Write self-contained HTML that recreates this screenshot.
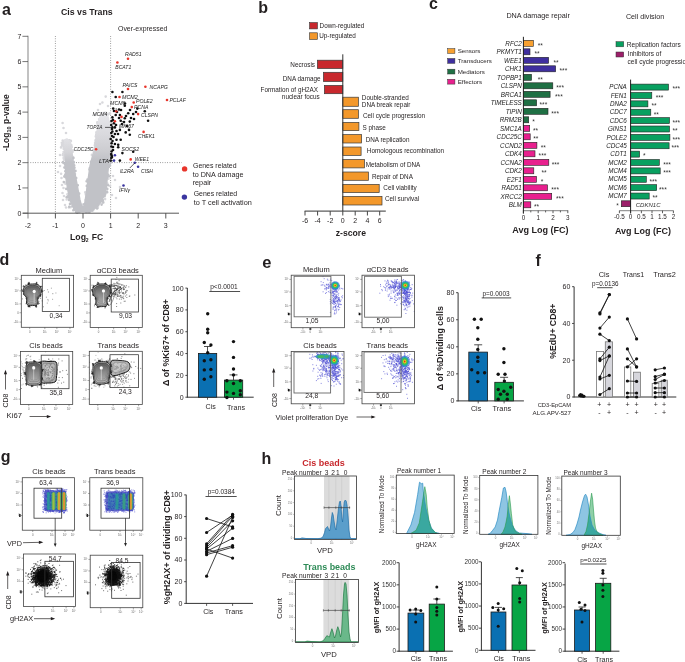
<!DOCTYPE html><html><head><meta charset="utf-8"><title>Figure</title><style>html,body{margin:0;padding:0;background:#fff;width:685px;height:662px;overflow:hidden}svg{display:block;font-family:"Liberation Sans",sans-serif;will-change:transform}</style></head><body><svg width="685" height="662" viewBox="0 0 685 662" font-family="'Liberation Sans', sans-serif" fill="#231f20"><defs><linearGradient id="vgL" gradientUnits="userSpaceOnUse" x1="0" y1="138" x2="0" y2="162"><stop offset="0" stop-color="#e2e2e6"/><stop offset="0.6" stop-color="#d4d4d8"/><stop offset="1" stop-color="#c1c2c7"/></linearGradient><linearGradient id="vgR" gradientUnits="userSpaceOnUse" x1="0" y1="112" x2="0" y2="160"><stop offset="0" stop-color="#e8e8ec"/><stop offset="0.45" stop-color="#dadade"/><stop offset="0.8" stop-color="#cdcdd1"/><stop offset="1" stop-color="#c1c2c7"/></linearGradient><clipPath id="fc1"><rect x="21.3" y="275.3" width="52.3" height="52.0"/></clipPath><linearGradient id="cg1" gradientUnits="userSpaceOnUse" x1="0" y1="284.5" x2="0" y2="305.2"><stop offset="0" stop-color="#555"/><stop offset="0.45" stop-color="#8a8a8a"/><stop offset="1" stop-color="#b8b8b8"/></linearGradient><clipPath id="fc2"><rect x="90.2" y="275.3" width="52.1" height="52.2"/></clipPath><linearGradient id="cg2" gradientUnits="userSpaceOnUse" x1="0" y1="284.5" x2="0" y2="306.2"><stop offset="0" stop-color="#555"/><stop offset="0.45" stop-color="#8a8a8a"/><stop offset="1" stop-color="#b8b8b8"/></linearGradient><clipPath id="fc3"><rect x="20.4" y="351.5" width="52.3" height="52.9"/></clipPath><linearGradient id="cg3" gradientUnits="userSpaceOnUse" x1="0" y1="362.4" x2="0" y2="385.0"><stop offset="0" stop-color="#555"/><stop offset="0.45" stop-color="#8a8a8a"/><stop offset="1" stop-color="#b8b8b8"/></linearGradient><clipPath id="fc4"><rect x="89.3" y="351.3" width="53.0" height="53.1"/></clipPath><linearGradient id="cg4" gradientUnits="userSpaceOnUse" x1="0" y1="362.0" x2="0" y2="384.0"><stop offset="0" stop-color="#555"/><stop offset="0.45" stop-color="#8a8a8a"/><stop offset="1" stop-color="#b8b8b8"/></linearGradient><clipPath id="fc5"><rect x="291.2" y="275.2" width="53.2" height="52.5"/></clipPath><clipPath id="fc6"><rect x="362.0" y="275.2" width="52.5" height="52.5"/></clipPath><clipPath id="fc7"><rect x="291.2" y="351.5" width="52.8" height="52.3"/></clipPath><clipPath id="fc8"><rect x="362.0" y="351.5" width="52.5" height="52.3"/></clipPath><clipPath id="fc9"><rect x="23.4" y="554.0" width="52.1" height="52.6"/></clipPath><clipPath id="fc10"><rect x="90.2" y="555.2" width="52.6" height="52.5"/></clipPath><clipPath id="cp1"><path d="M406.6,533.4 L410.9,525.0 L414.6,512.3 L417.7,494.3 L419.5,482.2 L421.4,483.7 L422.7,483.2 L423.3,491.1 L425.7,507.0 L428.8,520.7 L431.5,528.1 L435.2,532.4 L439.4,533.4 Z"/></clipPath><clipPath id="cp2"><path d="M488.0,534.3 L490.0,533.6 L492.5,530.5 L495.2,527.0 L497.5,520.0 L499.0,511.6 L500.5,504.0 L501.8,497.4 L503.4,488.0 L505.0,487.3 L506.1,491.9 L507.0,499.0 L507.8,506.1 L509.0,513.0 L510.5,519.3 L512.0,524.5 L513.8,528.0 L516.0,531.0 L519.3,533.0 L527.0,533.6 L532.0,534.3 Z"/></clipPath><clipPath id="cp3"><path d="M566.0,535.3 L570.0,534.6 L573.0,532.5 L575.0,529.5 L577.0,524.0 L579.0,517.0 L580.5,510.0 L582.5,502.0 L584.5,495.5 L585.6,494.2 L587.0,497.0 L588.5,505.0 L590.0,516.0 L592.0,525.0 L595.0,530.5 L599.0,533.0 L603.0,534.6 L606.0,535.3 Z"/></clipPath></defs><text x="2.00" y="14.50" font-size="16" font-weight="bold">a</text>
<text x="61.00" y="15.30" font-size="8.78" font-weight="bold" textLength="51.70" lengthAdjust="spacingAndGlyphs">Cis vs Trans</text>
<text x="118.00" y="31.23" font-size="6.94" textLength="49.40" lengthAdjust="spacingAndGlyphs">Over-expressed</text>
<line x1="55.40" y1="36.00" x2="55.40" y2="213.00" stroke="#555" stroke-width="0.7" stroke-dasharray="0.8 1.6"/>
<line x1="110.60" y1="36.00" x2="110.60" y2="213.00" stroke="#555" stroke-width="0.7" stroke-dasharray="0.8 1.6"/>
<line x1="28.00" y1="162.60" x2="182.00" y2="162.60" stroke="#555" stroke-width="0.7" stroke-dasharray="0.8 1.6"/>
<path d="M69.5 199.7h0M63.1 154.1h0M63.5 141.2h0M66.7 199.5h0M61.0 147.4h0M63.4 146.3h0M62.8 155.1h0M64.1 155.1h0M63.7 154.8h0M78.2 211.2h0M64.3 155.9h0M67.4 194.3h0M63.6 158.0h0M63.7 148.5h0M66.4 182.3h0M63.6 152.1h0M65.4 183.8h0M69.2 198.4h0M61.8 142.8h0M62.7 140.5h0M65.1 156.4h0M63.8 149.0h0M65.1 157.9h0M64.3 176.6h0M61.1 173.7h0M62.9 143.3h0M64.2 159.0h0M64.0 159.7h0M64.4 147.5h0M70.6 207.3h0M64.1 147.4h0M67.5 196.6h0M64.0 144.2h0M110.3 128.0h0M106.8 191.2h0M109.6 113.2h0M110.2 144.4h0M93.2 210.3h0M107.7 114.7h0M109.2 163.6h0M110.7 150.2h0M89.6 211.7h0M105.5 192.9h0M111.9 142.4h0M93.5 209.1h0M111.3 148.9h0M102.6 200.0h0M111.9 123.7h0M107.6 176.0h0M109.9 147.0h0M108.4 178.8h0M98.3 205.4h0M110.0 113.7h0M109.7 147.4h0M110.7 121.2h0M107.3 114.3h0M111.4 125.6h0M111.2 154.5h0M105.1 199.1h0M111.3 144.0h0M106.7 114.0h0M104.6 192.9h0M110.2 161.3h0M108.8 166.8h0M109.3 122.3h0M97.9 207.8h0M111.8 156.5h0M107.4 183.6h0M70.9 140.9h0M72.8 158.2h0M73.5 165.5h0M67.2 140.0h0M71.7 147.1h0M72.5 151.9h0M71.2 146.2h0M69.4 140.4h0M73.0 160.5h0M75.0 174.1h0M82.5 208.9h0M73.1 157.0h0M73.1 157.8h0M73.3 150.2h0M82.0 204.6h0M71.4 145.2h0M85.8 194.5h0M96.4 132.4h0M99.2 119.3h0M91.9 154.9h0M97.3 122.4h0M85.6 200.1h0M93.8 152.4h0M87.5 181.4h0M95.1 142.9h0M97.5 123.7h0M95.0 144.7h0M93.4 149.9h0M94.8 145.2h0M95.5 140.3h0M96.2 134.5h0M85.2 192.4h0M95.8 136.4h0M60.0 166.0h0M58.0 172.0h0M62.0 185.0h0M62.5 193.0h0M63.0 200.0h0M65.0 205.0h0M66.0 207.5h0M69.0 207.5h0M61.5 178.0h0M63.5 188.0h0M64.0 196.0h0M105.7 96.6h0M102.4 102.5h0M98.0 110.0h0M108.0 106.0h0M104.0 116.0h0M62.6 123.0h0M63.5 128.0h0M62.0 145.0h0M66.0 133.0h0M60.0 155.0h0M105.0 170.0h0M108.0 178.0h0M110.0 186.0h0M112.0 195.0h0M106.0 192.0h0M113.0 176.0h0M116.0 198.0h0M120.0 187.0h0M115.0 180.0h0M100.0 104.0h0M95.0 115.0h0" stroke="#d8d8dc" stroke-width="2.6" stroke-linecap="round"/>
<path d="M64.5,140.0 L64.5,150.0 L65.5,160.0 L65.5,170.0 L66.2,180.0 L67.8,190.0 L70.0,200.0 L73.6,208.0 L79.0,212.6 L82.6,210.0 L80.0,200.0 L76.2,180.0 L73.0,162.6 L72.0,152.0 L70.5,142.0 L67.0,139.0Z" fill="url(#vgL)" stroke="url(#vgL)" stroke-width="1.4" stroke-linejoin="round"/>
<path d="M86.0,212.6 L92.0,210.5 L96.5,207.5 L101.0,202.0 L104.0,196.0 L106.5,186.0 L107.5,176.0 L108.5,166.0 L109.3,155.0 L109.8,142.0 L109.5,128.0 L108.5,118.0 L106.0,112.0 L101.0,113.0 L98.5,122.0 L97.0,131.0 L95.5,141.0 L94.5,150.0 L92.0,158.0 L90.0,166.0 L88.0,180.0 L86.0,195.0 L84.3,206.0 L83.2,210.0Z" fill="url(#vgR)" stroke="url(#vgR)" stroke-width="1.4" stroke-linejoin="round"/>
<path d="M78.0,212.6 L88.0,212.6 L85.0,207.0 L83.0,205.0 L81.0,207.0Z" fill="#c1c2c7" stroke="none" stroke-width="1"/>
<path d="M69.3 206.7h0M65.7 177.2h0M75.3 209.8h0M73.3 210.3h0M74.1 208.9h0M64.7 167.6h0M68.5 197.3h0M65.3 163.5h0M70.0 203.9h0M65.3 171.2h0M68.2 196.4h0M66.3 188.9h0M77.2 212.8h0M64.4 167.5h0M65.2 164.8h0M65.3 174.5h0M66.0 177.5h0M66.6 197.2h0M69.2 200.1h0M64.6 176.4h0M71.6 203.3h0M76.0 212.0h0M63.4 163.0h0M63.8 182.1h0M72.4 206.3h0M63.0 162.0h0M76.4 208.4h0M108.2 174.9h0M101.6 204.6h0M97.1 208.5h0M97.4 205.0h0M110.0 165.3h0M108.1 185.3h0M102.3 200.8h0M89.2 212.0h0M89.0 211.6h0M102.8 200.3h0M92.2 210.6h0M108.8 166.9h0M104.1 195.6h0M107.2 192.2h0M104.6 196.3h0M109.3 176.2h0M105.1 194.6h0M105.8 192.1h0M107.3 188.9h0M105.0 194.3h0M100.1 201.9h0M90.1 211.0h0M106.4 188.2h0M111.2 162.3h0M103.3 202.4h0M73.9 162.4h0M74.5 167.8h0M76.2 178.1h0M77.8 185.3h0M75.5 170.9h0M79.2 193.6h0M73.4 158.1h0M74.2 165.4h0M73.6 165.1h0M84.0 204.3h0M87.8 181.2h0M89.5 169.6h0M86.8 185.9h0M89.7 168.2h0M87.5 179.6h0M90.9 161.8h0M86.6 181.2h0" stroke="#c1c2c7" stroke-width="2.6" stroke-linecap="round"/>
<line x1="28.00" y1="35.80" x2="28.00" y2="218.50" stroke="#a8a8a8" stroke-width="1.4"/>
<line x1="22.80" y1="213.20" x2="179.00" y2="213.20" stroke="#444" stroke-width="0.9"/>
<line x1="22.40" y1="213.20" x2="28.00" y2="213.20" stroke="#555" stroke-width="0.8"/>
<text x="21.30" y="215.65" font-size="7" text-anchor="end">0</text>
<line x1="22.40" y1="187.93" x2="28.00" y2="187.93" stroke="#555" stroke-width="0.8"/>
<text x="21.30" y="190.38" font-size="7" text-anchor="end">1</text>
<line x1="22.40" y1="162.66" x2="28.00" y2="162.66" stroke="#555" stroke-width="0.8"/>
<text x="21.30" y="165.11" font-size="7" text-anchor="end">2</text>
<line x1="22.40" y1="137.39" x2="28.00" y2="137.39" stroke="#555" stroke-width="0.8"/>
<text x="21.30" y="139.84" font-size="7" text-anchor="end">3</text>
<line x1="22.40" y1="112.12" x2="28.00" y2="112.12" stroke="#555" stroke-width="0.8"/>
<text x="21.30" y="114.57" font-size="7" text-anchor="end">4</text>
<line x1="22.40" y1="86.85" x2="28.00" y2="86.85" stroke="#555" stroke-width="0.8"/>
<text x="21.30" y="89.30" font-size="7" text-anchor="end">5</text>
<line x1="22.40" y1="61.58" x2="28.00" y2="61.58" stroke="#555" stroke-width="0.8"/>
<text x="21.30" y="64.03" font-size="7" text-anchor="end">6</text>
<line x1="22.40" y1="36.31" x2="28.00" y2="36.31" stroke="#555" stroke-width="0.8"/>
<text x="21.30" y="38.76" font-size="7" text-anchor="end">7</text>
<text x="27.80" y="228.45" font-size="7" text-anchor="middle">-2</text>
<line x1="55.40" y1="213.20" x2="55.40" y2="218.50" stroke="#444" stroke-width="0.9"/>
<text x="55.40" y="228.45" font-size="7" text-anchor="middle">-1</text>
<line x1="83.00" y1="213.20" x2="83.00" y2="218.50" stroke="#444" stroke-width="0.9"/>
<text x="83.00" y="228.45" font-size="7" text-anchor="middle">0</text>
<line x1="110.60" y1="213.20" x2="110.60" y2="218.50" stroke="#444" stroke-width="0.9"/>
<text x="110.60" y="228.45" font-size="7" text-anchor="middle">1</text>
<line x1="138.20" y1="213.20" x2="138.20" y2="218.50" stroke="#444" stroke-width="0.9"/>
<text x="138.20" y="228.45" font-size="7" text-anchor="middle">2</text>
<line x1="165.80" y1="213.20" x2="165.80" y2="218.50" stroke="#444" stroke-width="0.9"/>
<text x="165.80" y="228.45" font-size="7" text-anchor="middle">3</text>
<text x="70.00" y="239.86" font-size="8.73" font-weight="bold" textLength="16.00" lengthAdjust="spacingAndGlyphs">Log</text>
<text x="85.80" y="242.20" font-size="5.0" font-weight="bold">2</text>
<text x="91.70" y="239.79" font-size="8.55" font-weight="bold" textLength="11.40" lengthAdjust="spacingAndGlyphs">FC</text>
<text transform="translate(9.2,122.6) rotate(-90)" font-size="8.5" font-weight="bold" text-anchor="middle">-Log<tspan font-size="5.5" dy="2">10</tspan><tspan dy="-2"> p-value</tspan></text>
<circle cx="112.40" cy="92.00" r="1.3" fill="#111"/>
<circle cx="122.40" cy="92.00" r="1.3" fill="#111"/>
<circle cx="115.70" cy="97.00" r="1.3" fill="#111"/>
<circle cx="124.80" cy="105.80" r="1.3" fill="#111"/>
<circle cx="125.00" cy="103.50" r="1.3" fill="#111"/>
<circle cx="113.20" cy="108.60" r="1.3" fill="#111"/>
<circle cx="137.30" cy="108.60" r="1.3" fill="#111"/>
<circle cx="144.80" cy="111.30" r="1.3" fill="#111"/>
<circle cx="115.70" cy="115.00" r="1.3" fill="#111"/>
<circle cx="119.90" cy="115.00" r="1.3" fill="#111"/>
<circle cx="128.20" cy="113.30" r="1.3" fill="#111"/>
<circle cx="133.20" cy="114.00" r="1.3" fill="#111"/>
<circle cx="112.40" cy="117.40" r="1.3" fill="#111"/>
<circle cx="124.80" cy="118.20" r="1.3" fill="#111"/>
<circle cx="120.70" cy="120.70" r="1.3" fill="#111"/>
<circle cx="129.80" cy="121.60" r="1.3" fill="#111"/>
<circle cx="134.00" cy="119.00" r="1.3" fill="#111"/>
<circle cx="148.10" cy="120.70" r="1.3" fill="#111"/>
<circle cx="114.00" cy="123.20" r="1.3" fill="#111"/>
<circle cx="112.40" cy="127.40" r="1.3" fill="#111"/>
<circle cx="114.90" cy="127.40" r="1.3" fill="#111"/>
<circle cx="112.40" cy="131.50" r="1.3" fill="#111"/>
<circle cx="114.90" cy="134.00" r="1.3" fill="#111"/>
<circle cx="119.90" cy="129.90" r="1.3" fill="#111"/>
<circle cx="125.70" cy="132.40" r="1.3" fill="#111"/>
<circle cx="129.00" cy="129.90" r="1.3" fill="#111"/>
<circle cx="129.80" cy="134.80" r="1.3" fill="#111"/>
<circle cx="110.70" cy="139.00" r="1.3" fill="#111"/>
<circle cx="116.50" cy="139.80" r="1.3" fill="#111"/>
<circle cx="120.70" cy="139.80" r="1.3" fill="#111"/>
<circle cx="111.60" cy="143.20" r="1.3" fill="#111"/>
<circle cx="114.90" cy="144.00" r="1.3" fill="#111"/>
<circle cx="118.20" cy="144.80" r="1.3" fill="#111"/>
<circle cx="118.20" cy="147.30" r="1.3" fill="#111"/>
<circle cx="111.60" cy="151.50" r="1.3" fill="#111"/>
<circle cx="122.40" cy="153.10" r="1.3" fill="#111"/>
<circle cx="133.20" cy="151.80" r="1.3" fill="#111"/>
<circle cx="111.60" cy="155.60" r="1.3" fill="#111"/>
<circle cx="119.90" cy="160.60" r="1.3" fill="#111"/>
<circle cx="110.70" cy="160.60" r="1.3" fill="#111"/>
<circle cx="117.00" cy="112.00" r="1.3" fill="#111"/>
<circle cx="121.00" cy="110.00" r="1.3" fill="#111"/>
<circle cx="126.00" cy="116.00" r="1.3" fill="#111"/>
<circle cx="131.00" cy="118.00" r="1.3" fill="#111"/>
<circle cx="113.00" cy="120.00" r="1.3" fill="#111"/>
<circle cx="116.00" cy="125.00" r="1.3" fill="#111"/>
<circle cx="122.00" cy="124.00" r="1.3" fill="#111"/>
<circle cx="127.00" cy="126.00" r="1.3" fill="#111"/>
<circle cx="112.00" cy="136.00" r="1.3" fill="#111"/>
<circle cx="118.00" cy="134.00" r="1.3" fill="#111"/>
<circle cx="113.00" cy="147.00" r="1.3" fill="#111"/>
<circle cx="112.00" cy="157.00" r="1.3" fill="#111"/>
<circle cx="119.00" cy="109.50" r="1.3" fill="#111"/>
<circle cx="130.00" cy="110.00" r="1.3" fill="#111"/>
<circle cx="136.00" cy="112.00" r="1.3" fill="#111"/>
<circle cx="124.00" cy="122.00" r="1.3" fill="#111"/>
<circle cx="119.00" cy="118.00" r="1.3" fill="#111"/>
<circle cx="114.00" cy="111.00" r="1.3" fill="#111"/>
<circle cx="111.50" cy="121.00" r="1.3" fill="#111"/>
<circle cx="111.20" cy="125.00" r="1.3" fill="#111"/>
<circle cx="112.00" cy="129.00" r="1.3" fill="#111"/>
<circle cx="111.30" cy="133.00" r="1.3" fill="#111"/>
<circle cx="113.50" cy="137.00" r="1.3" fill="#111"/>
<circle cx="111.40" cy="146.50" r="1.3" fill="#111"/>
<circle cx="113.00" cy="150.00" r="1.3" fill="#111"/>
<circle cx="111.20" cy="154.00" r="1.3" fill="#111"/>
<circle cx="116.50" cy="131.00" r="1.3" fill="#111"/>
<circle cx="112.50" cy="141.00" r="1.3" fill="#111"/>
<circle cx="111.30" cy="158.00" r="1.3" fill="#111"/>
<circle cx="128.00" cy="58.80" r="1.3" fill="#e8352b"/>
<circle cx="117.40" cy="62.50" r="1.3" fill="#e8352b"/>
<circle cx="128.00" cy="89.00" r="1.3" fill="#e8352b"/>
<circle cx="145.40" cy="86.80" r="1.3" fill="#e8352b"/>
<circle cx="167.00" cy="100.00" r="1.3" fill="#e8352b"/>
<circle cx="119.50" cy="97.00" r="1.3" fill="#e8352b"/>
<circle cx="133.70" cy="102.50" r="1.3" fill="#e8352b"/>
<circle cx="131.80" cy="107.10" r="1.3" fill="#e8352b"/>
<circle cx="116.20" cy="111.30" r="1.3" fill="#e8352b"/>
<circle cx="138.10" cy="114.10" r="1.3" fill="#e8352b"/>
<circle cx="121.50" cy="116.90" r="1.3" fill="#e8352b"/>
<circle cx="114.90" cy="121.20" r="1.3" fill="#e8352b"/>
<circle cx="143.60" cy="131.90" r="1.3" fill="#e8352b"/>
<circle cx="130.70" cy="159.40" r="1.3" fill="#e8352b"/>
<circle cx="96.10" cy="149.30" r="1.3" fill="#e8352b"/>
<circle cx="114.90" cy="155.30" r="1.3" fill="#3a35a0"/>
<circle cx="114.00" cy="160.60" r="1.3" fill="#3a35a0"/>
<circle cx="134.80" cy="162.80" r="1.3" fill="#3a35a0"/>
<circle cx="138.10" cy="166.70" r="1.3" fill="#3a35a0"/>
<circle cx="123.50" cy="185.50" r="1.3" fill="#3a35a0"/>
<text x="125.00" y="56.49" font-size="5.12" font-style="italic" fill="#222" textLength="16.50" lengthAdjust="spacingAndGlyphs">RAD51</text>
<text x="115.30" y="69.38" font-size="5.08" font-style="italic" fill="#222" textLength="16.00" lengthAdjust="spacingAndGlyphs">BCAT1</text>
<text x="122.50" y="87.19" font-size="5.12" font-style="italic" fill="#222" textLength="15.00" lengthAdjust="spacingAndGlyphs">PAICS</text>
<text x="149.50" y="88.81" font-size="5.17" font-style="italic" fill="#222" textLength="18.40" lengthAdjust="spacingAndGlyphs">NCAPG</text>
<text x="169.50" y="102.07" font-size="5.06" font-style="italic" fill="#222" textLength="16.30" lengthAdjust="spacingAndGlyphs">PCLAF</text>
<text x="122.00" y="98.88" font-size="5.37" font-style="italic" fill="#222" textLength="15.80" lengthAdjust="spacingAndGlyphs">MCM2</text>
<text x="136.00" y="102.81" font-size="5.18" font-style="italic" fill="#222" textLength="16.70" lengthAdjust="spacingAndGlyphs">POLE2</text>
<text x="110.00" y="105.24" font-size="5.26" font-style="italic" fill="#222" textLength="15.50" lengthAdjust="spacingAndGlyphs">MCM6</text>
<text x="134.00" y="108.71" font-size="5.18" font-style="italic" fill="#222" textLength="14.40" lengthAdjust="spacingAndGlyphs">PCNA</text>
<text x="141.00" y="117.38" font-size="5.1" font-style="italic" fill="#222" textLength="17.00" lengthAdjust="spacingAndGlyphs">CLSPN</text>
<text x="92.50" y="115.57" font-size="5.06" font-style="italic" fill="#222" textLength="14.90" lengthAdjust="spacingAndGlyphs">MCM4</text>
<text x="86.60" y="128.60" font-size="4.85" font-style="italic" fill="#222" textLength="15.80" lengthAdjust="spacingAndGlyphs">TOP2A</text>
<text x="119.00" y="128.32" font-size="5.19" font-style="italic" fill="#222" textLength="15.00" lengthAdjust="spacingAndGlyphs">MKI67</text>
<text x="138.10" y="138.25" font-size="5.01" font-style="italic" fill="#222" textLength="16.70" lengthAdjust="spacingAndGlyphs">CHEK1</text>
<text x="121.50" y="151.31" font-size="5.16" font-style="italic" fill="#222" textLength="17.50" lengthAdjust="spacingAndGlyphs">SOCS2</text>
<text x="73.80" y="150.81" font-size="4.9" font-style="italic" fill="#222" textLength="19.60" lengthAdjust="spacingAndGlyphs">CDC25C</text>
<text x="134.80" y="160.75" font-size="5.01" font-style="italic" fill="#222" textLength="14.20" lengthAdjust="spacingAndGlyphs">WEE1</text>
<text x="99.00" y="162.68" font-size="5.93" font-style="italic" fill="#222" textLength="10.00" lengthAdjust="spacingAndGlyphs">LTA</text>
<text x="119.90" y="172.67" font-size="5.07" font-style="italic" fill="#222" textLength="14.10" lengthAdjust="spacingAndGlyphs">IL2RA</text>
<text x="141.00" y="172.66" font-size="5.02" font-style="italic" fill="#222" textLength="12.00" lengthAdjust="spacingAndGlyphs">CISH</text>
<text x="119.00" y="191.82" font-size="5.21" font-style="italic" fill="#222" textLength="11.00" lengthAdjust="spacingAndGlyphs">IFNγ</text>
<line x1="105.00" y1="127.40" x2="111.60" y2="127.40" stroke="#222" stroke-width="0.7"/>
<line x1="129.80" y1="168.00" x2="134.80" y2="163.00" stroke="#222" stroke-width="0.7"/>
<line x1="116.20" y1="108.00" x2="116.20" y2="111.30" stroke="#222" stroke-width="0.6"/>
<line x1="120.00" y1="120.00" x2="125.00" y2="123.00" stroke="#222" stroke-width="0.6"/>
<line x1="108.50" y1="160.60" x2="113.00" y2="160.60" stroke="#222" stroke-width="0.6"/>
<circle cx="184.60" cy="168.90" r="2.7" fill="#e8352b"/>
<text x="193.00" y="168.23" font-size="6.94" textLength="43.60" lengthAdjust="spacingAndGlyphs">Genes related</text>
<text x="192.70" y="176.81" font-size="7.18" textLength="50.70" lengthAdjust="spacingAndGlyphs">to DNA damage</text>
<text x="192.70" y="185.13" font-size="7.24" textLength="18.50" lengthAdjust="spacingAndGlyphs">repair</text>
<circle cx="184.40" cy="197.10" r="2.7" fill="#3a35a0"/>
<text x="193.70" y="196.13" font-size="6.93" textLength="43.50" lengthAdjust="spacingAndGlyphs">Genes related</text>
<text x="193.70" y="204.86" font-size="7.3">to T cell activation</text>
<text x="258.20" y="12.90" font-size="16" font-weight="bold">b</text>
<rect x="309.60" y="22.60" width="7.80" height="6.30" fill="#c8282d" stroke="#333" stroke-width="0.6"/>
<text x="319.60" y="27.82" font-size="6.35">Down-regulated</text>
<rect x="309.60" y="32.80" width="7.80" height="6.60" fill="#f3982b" stroke="#333" stroke-width="0.6"/>
<text x="319.20" y="38.32" font-size="6.35">Up-regulated</text>
<rect x="317.40" y="60.20" width="25.40" height="8.30" fill="#c8282d" stroke="#3a3a3a" stroke-width="0.7"/>
<rect x="323.40" y="72.30" width="19.40" height="9.20" fill="#c8282d" stroke="#3a3a3a" stroke-width="0.7"/>
<rect x="324.40" y="85.40" width="18.40" height="8.30" fill="#c8282d" stroke="#3a3a3a" stroke-width="0.7"/>
<rect x="342.80" y="97.20" width="15.60" height="9.10" fill="#f3982b" stroke="#3a3a3a" stroke-width="0.7"/>
<rect x="342.80" y="109.70" width="15.60" height="8.60" fill="#f3982b" stroke="#3a3a3a" stroke-width="0.7"/>
<rect x="342.80" y="122.40" width="16.10" height="8.20" fill="#f3982b" stroke="#3a3a3a" stroke-width="0.7"/>
<rect x="342.80" y="134.60" width="18.80" height="8.40" fill="#f3982b" stroke="#3a3a3a" stroke-width="0.7"/>
<rect x="342.80" y="147.00" width="18.30" height="8.40" fill="#f3982b" stroke="#3a3a3a" stroke-width="0.7"/>
<rect x="342.80" y="159.50" width="21.70" height="8.40" fill="#f3982b" stroke="#3a3a3a" stroke-width="0.7"/>
<rect x="342.80" y="172.00" width="25.60" height="8.30" fill="#f3982b" stroke="#3a3a3a" stroke-width="0.7"/>
<rect x="342.80" y="184.40" width="36.40" height="8.20" fill="#f3982b" stroke="#3a3a3a" stroke-width="0.7"/>
<rect x="342.80" y="196.40" width="39.20" height="8.60" fill="#f3982b" stroke="#3a3a3a" stroke-width="0.7"/>
<line x1="342.80" y1="54.30" x2="342.80" y2="211.10" stroke="#333" stroke-width="1"/>
<text x="315.00" y="67.22" font-size="6.35" text-anchor="end">Necrosis</text>
<text x="320.50" y="80.62" font-size="6.35" text-anchor="end">DNA damage</text>
<text x="318.00" y="92.02" font-size="6.35" text-anchor="end">Formation of gH2AX</text>
<text x="319.60" y="99.02" font-size="6.35" text-anchor="end">nuclear focus</text>
<text x="361.80" y="99.72" font-size="6.35">Double-stranded</text>
<text x="361.80" y="106.92" font-size="6.35">DNA break repair</text>
<text x="363.00" y="117.82" font-size="6.35">Cell cycle progression</text>
<text x="362.50" y="129.62" font-size="6.35">S phase</text>
<text x="365.70" y="141.62" font-size="6.35">DNA replication</text>
<text x="366.80" y="152.92" font-size="6.35">Homologous recombination</text>
<text x="365.70" y="166.52" font-size="6.35">Metabolism of DNA</text>
<text x="372.00" y="178.72" font-size="6.35">Repair of DNA</text>
<text x="383.30" y="190.02" font-size="6.35">Cell viability</text>
<text x="384.90" y="200.92" font-size="6.35">Cell survival</text>
<line x1="304.60" y1="211.10" x2="385.80" y2="211.10" stroke="#333" stroke-width="1"/>
<line x1="305.00" y1="211.10" x2="305.00" y2="215.50" stroke="#444" stroke-width="1"/>
<text x="305.00" y="223.35" font-size="7" text-anchor="middle">-6</text>
<line x1="317.60" y1="211.10" x2="317.60" y2="215.50" stroke="#444" stroke-width="1"/>
<text x="317.60" y="223.35" font-size="7" text-anchor="middle">-4</text>
<line x1="330.20" y1="211.10" x2="330.20" y2="215.50" stroke="#444" stroke-width="1"/>
<text x="330.20" y="223.35" font-size="7" text-anchor="middle">-2</text>
<line x1="342.80" y1="211.10" x2="342.80" y2="215.50" stroke="#444" stroke-width="1"/>
<text x="342.80" y="223.35" font-size="7" text-anchor="middle">0</text>
<line x1="355.20" y1="211.10" x2="355.20" y2="215.50" stroke="#444" stroke-width="1"/>
<text x="355.20" y="223.35" font-size="7" text-anchor="middle">2</text>
<line x1="367.40" y1="211.10" x2="367.40" y2="215.50" stroke="#444" stroke-width="1"/>
<text x="367.40" y="223.35" font-size="7" text-anchor="middle">4</text>
<line x1="379.70" y1="211.10" x2="379.70" y2="215.50" stroke="#444" stroke-width="1"/>
<text x="379.70" y="223.35" font-size="7" text-anchor="middle">6</text>
<text x="350.90" y="236.03" font-size="8.65" text-anchor="middle" font-weight="bold" textLength="30.30" lengthAdjust="spacingAndGlyphs">z-score</text>
<text x="429.00" y="9.40" font-size="16" font-weight="bold">c</text>
<text x="506.40" y="17.60" font-size="7.22" textLength="63.40" lengthAdjust="spacingAndGlyphs">DNA damage repair</text>
<text x="625.90" y="19.21" font-size="7.18" textLength="38.30" lengthAdjust="spacingAndGlyphs">Cell division</text>
<rect x="447.70" y="48.60" width="7.20" height="4.80" fill="#f7a030" stroke="#333" stroke-width="0.5"/>
<text x="457.70" y="53.17" font-size="6.2">Sensors</text>
<rect x="447.70" y="58.50" width="7.20" height="4.80" fill="#3f2f9f" stroke="#333" stroke-width="0.5"/>
<text x="457.70" y="63.07" font-size="6.2">Transducers</text>
<rect x="447.70" y="69.20" width="7.20" height="4.80" fill="#1f7044" stroke="#333" stroke-width="0.5"/>
<text x="457.70" y="73.77" font-size="6.2">Mediators</text>
<rect x="447.70" y="79.30" width="7.20" height="4.80" fill="#e8208e" stroke="#333" stroke-width="0.5"/>
<text x="457.70" y="83.87" font-size="6.2">Effectors</text>
<rect x="523.40" y="40.30" width="9.90" height="6.00" fill="#f7a030" stroke="#222" stroke-width="0.6"/>
<text x="521.80" y="45.50" font-size="6.3" text-anchor="end" font-style="italic" fill="#222">RFC2</text>
<text x="537.70" y="47.61" font-size="6.6" fill="#333">**</text>
<rect x="523.40" y="48.80" width="6.60" height="6.00" fill="#3f2f9f" stroke="#222" stroke-width="0.6"/>
<text x="521.80" y="54.00" font-size="6.3" text-anchor="end" font-style="italic" fill="#222">PKMYT1</text>
<text x="534.40" y="56.11" font-size="6.6" fill="#333">**</text>
<rect x="523.40" y="57.30" width="25.20" height="6.00" fill="#3f2f9f" stroke="#222" stroke-width="0.6"/>
<text x="521.80" y="62.50" font-size="6.3" text-anchor="end" font-style="italic" fill="#222">WEE1</text>
<text x="553.40" y="64.61" font-size="6.6" fill="#333">**</text>
<rect x="523.40" y="65.80" width="32.20" height="6.00" fill="#3f2f9f" stroke="#222" stroke-width="0.6"/>
<text x="521.80" y="71.00" font-size="6.3" text-anchor="end" font-style="italic" fill="#222">CHK1</text>
<text x="559.50" y="73.11" font-size="6.6" fill="#333">***</text>
<rect x="523.40" y="74.30" width="8.10" height="6.00" fill="#1f7044" stroke="#222" stroke-width="0.6"/>
<text x="521.80" y="79.50" font-size="6.3" text-anchor="end" font-style="italic" fill="#222">TOPBP1</text>
<text x="537.70" y="81.61" font-size="6.6" fill="#333">**</text>
<rect x="523.40" y="82.80" width="29.40" height="6.00" fill="#1f7044" stroke="#222" stroke-width="0.6"/>
<text x="521.80" y="88.00" font-size="6.3" text-anchor="end" font-style="italic" fill="#222">CLSPN</text>
<text x="556.30" y="90.11" font-size="6.6" fill="#333">***</text>
<rect x="523.40" y="91.30" width="26.70" height="6.00" fill="#1f7044" stroke="#222" stroke-width="0.6"/>
<text x="521.80" y="96.50" font-size="6.3" text-anchor="end" font-style="italic" fill="#222">BRCA1</text>
<text x="555.00" y="98.61" font-size="6.6" fill="#333">***</text>
<rect x="523.40" y="99.80" width="13.20" height="6.00" fill="#1f7044" stroke="#222" stroke-width="0.6"/>
<text x="521.80" y="105.00" font-size="6.3" text-anchor="end" font-style="italic" fill="#222">TIMELESS</text>
<text x="539.50" y="107.11" font-size="6.6" fill="#333">***</text>
<rect x="523.40" y="108.30" width="24.60" height="6.00" fill="#1f7044" stroke="#222" stroke-width="0.6"/>
<text x="521.80" y="113.50" font-size="6.3" text-anchor="end" font-style="italic" fill="#222">TIPIN</text>
<text x="551.30" y="115.61" font-size="6.6" fill="#333">***</text>
<rect x="523.40" y="116.80" width="5.30" height="6.00" fill="#1f7044" stroke="#222" stroke-width="0.6"/>
<text x="521.80" y="122.00" font-size="6.3" text-anchor="end" font-style="italic" fill="#222">RRM2B</text>
<text x="532.30" y="124.11" font-size="6.6" fill="#333">*</text>
<rect x="523.40" y="125.30" width="6.30" height="6.00" fill="#e8208e" stroke="#222" stroke-width="0.6"/>
<text x="521.80" y="130.51" font-size="6.3" text-anchor="end" font-style="italic" fill="#222">SMC1A</text>
<text x="533.00" y="132.61" font-size="6.6" fill="#333">**</text>
<rect x="523.40" y="133.80" width="6.80" height="6.00" fill="#e8208e" stroke="#222" stroke-width="0.6"/>
<text x="521.80" y="139.01" font-size="6.3" text-anchor="end" font-style="italic" fill="#222">CDC25C</text>
<text x="533.30" y="141.11" font-size="6.6" fill="#333">**</text>
<rect x="523.40" y="142.30" width="13.50" height="6.00" fill="#e8208e" stroke="#222" stroke-width="0.6"/>
<text x="521.80" y="147.51" font-size="6.3" text-anchor="end" font-style="italic" fill="#222">CCND2</text>
<text x="540.70" y="149.61" font-size="6.6" fill="#333">**</text>
<rect x="523.40" y="150.80" width="11.60" height="6.00" fill="#e8208e" stroke="#222" stroke-width="0.6"/>
<text x="521.80" y="156.01" font-size="6.3" text-anchor="end" font-style="italic" fill="#222">CDK4</text>
<text x="538.60" y="158.11" font-size="6.6" fill="#333">***</text>
<rect x="523.40" y="159.30" width="25.40" height="6.00" fill="#e8208e" stroke="#222" stroke-width="0.6"/>
<text x="521.80" y="164.51" font-size="6.3" text-anchor="end" font-style="italic" fill="#222">CCNA2</text>
<text x="551.70" y="166.61" font-size="6.6" fill="#333">***</text>
<rect x="523.40" y="167.80" width="10.40" height="6.00" fill="#e8208e" stroke="#222" stroke-width="0.6"/>
<text x="521.80" y="173.01" font-size="6.3" text-anchor="end" font-style="italic" fill="#222">CDK2</text>
<text x="541.40" y="175.11" font-size="6.6" fill="#333">**</text>
<rect x="523.40" y="176.30" width="13.10" height="6.00" fill="#e8208e" stroke="#222" stroke-width="0.6"/>
<text x="521.80" y="181.51" font-size="6.3" text-anchor="end" font-style="italic" fill="#222">E2F1</text>
<text x="540.70" y="183.61" font-size="6.6" fill="#333">*</text>
<rect x="523.40" y="184.80" width="24.10" height="6.00" fill="#e8208e" stroke="#222" stroke-width="0.6"/>
<text x="521.80" y="190.01" font-size="6.3" text-anchor="end" font-style="italic" fill="#222">RAD51</text>
<text x="551.30" y="192.11" font-size="6.6" fill="#333">***</text>
<rect x="523.40" y="193.30" width="28.30" height="6.00" fill="#e8208e" stroke="#222" stroke-width="0.6"/>
<text x="521.80" y="198.51" font-size="6.3" text-anchor="end" font-style="italic" fill="#222">XRCC2</text>
<text x="556.00" y="200.61" font-size="6.6" fill="#333">***</text>
<rect x="523.40" y="201.80" width="7.40" height="6.00" fill="#e8208e" stroke="#222" stroke-width="0.6"/>
<text x="521.80" y="207.01" font-size="6.3" text-anchor="end" font-style="italic" fill="#222">BLM</text>
<text x="534.00" y="209.11" font-size="6.6" fill="#333">**</text>
<line x1="522.90" y1="210.60" x2="568.20" y2="210.60" stroke="#9a9a9a" stroke-width="1.2"/>
<line x1="523.40" y1="36.80" x2="523.40" y2="213.60" stroke="#222" stroke-width="1"/>
<line x1="523.40" y1="210.60" x2="523.40" y2="213.20" stroke="#333" stroke-width="0.8"/>
<text x="523.40" y="219.71" font-size="6.3" text-anchor="middle">0</text>
<line x1="538.20" y1="210.60" x2="538.20" y2="213.20" stroke="#333" stroke-width="0.8"/>
<text x="538.20" y="219.71" font-size="6.3" text-anchor="middle">1</text>
<line x1="553.00" y1="210.60" x2="553.00" y2="213.20" stroke="#333" stroke-width="0.8"/>
<text x="553.00" y="219.71" font-size="6.3" text-anchor="middle">2</text>
<line x1="567.80" y1="210.60" x2="567.80" y2="213.20" stroke="#333" stroke-width="0.8"/>
<text x="567.80" y="219.71" font-size="6.3" text-anchor="middle">3</text>
<line x1="530.80" y1="210.60" x2="530.80" y2="212.40" stroke="#333" stroke-width="0.8"/>
<line x1="545.60" y1="210.60" x2="545.60" y2="212.40" stroke="#333" stroke-width="0.8"/>
<line x1="560.40" y1="210.60" x2="560.40" y2="212.40" stroke="#333" stroke-width="0.8"/>
<text x="512.20" y="232.56" font-size="9.04" font-weight="bold" textLength="56.40" lengthAdjust="spacingAndGlyphs">Avg Log (FC)</text>
<rect x="616.00" y="41.70" width="7.70" height="5.10" fill="#08a060" stroke="#333" stroke-width="0.5"/>
<text x="626.80" y="46.90" font-size="6.56" textLength="54.00" lengthAdjust="spacingAndGlyphs">Replication factors</text>
<rect x="616.00" y="52.00" width="7.70" height="5.00" fill="#9c1f6a" stroke="#333" stroke-width="0.5"/>
<text x="627.60" y="56.48" font-size="6.5">Inhibitors of</text>
<text x="627.60" y="64.17" font-size="6.5">cell cycle progression</text>
<rect x="630.60" y="84.10" width="37.90" height="6.00" fill="#08a060" stroke="#222" stroke-width="0.6"/>
<text x="626.80" y="89.30" font-size="6.3" text-anchor="end" font-style="italic" fill="#222">PCNA</text>
<text x="672.40" y="91.41" font-size="6.6" fill="#333">***</text>
<rect x="630.60" y="92.48" width="21.20" height="6.00" fill="#08a060" stroke="#222" stroke-width="0.6"/>
<text x="626.80" y="97.68" font-size="6.3" text-anchor="end" font-style="italic" fill="#222">FEN1</text>
<text x="655.70" y="99.79" font-size="6.6" fill="#333">***</text>
<rect x="630.60" y="100.86" width="17.30" height="6.00" fill="#08a060" stroke="#222" stroke-width="0.6"/>
<text x="626.80" y="106.06" font-size="6.3" text-anchor="end" font-style="italic" fill="#222">DNA2</text>
<text x="651.40" y="108.17" font-size="6.6" fill="#333">**</text>
<rect x="630.60" y="109.24" width="20.20" height="6.00" fill="#08a060" stroke="#222" stroke-width="0.6"/>
<text x="626.80" y="114.44" font-size="6.3" text-anchor="end" font-style="italic" fill="#222">CDC7</text>
<text x="653.80" y="116.55" font-size="6.6" fill="#333">**</text>
<rect x="630.60" y="117.62" width="38.90" height="6.00" fill="#08a060" stroke="#222" stroke-width="0.6"/>
<text x="626.80" y="122.83" font-size="6.3" text-anchor="end" font-style="italic" fill="#222">CDC6</text>
<text x="672.40" y="124.93" font-size="6.6" fill="#333">***</text>
<rect x="630.60" y="126.00" width="38.90" height="6.00" fill="#08a060" stroke="#222" stroke-width="0.6"/>
<text x="626.80" y="131.21" font-size="6.3" text-anchor="end" font-style="italic" fill="#222">GINS1</text>
<text x="672.40" y="133.31" font-size="6.6" fill="#333">**</text>
<rect x="630.60" y="134.38" width="39.30" height="6.00" fill="#08a060" stroke="#222" stroke-width="0.6"/>
<text x="626.80" y="139.59" font-size="6.3" text-anchor="end" font-style="italic" fill="#222">POLE2</text>
<text x="672.40" y="141.69" font-size="6.6" fill="#333">***</text>
<rect x="630.60" y="142.76" width="38.50" height="6.00" fill="#08a060" stroke="#222" stroke-width="0.6"/>
<text x="626.80" y="147.97" font-size="6.3" text-anchor="end" font-style="italic" fill="#222">CDC45</text>
<text x="671.40" y="150.07" font-size="6.6" fill="#333">***</text>
<rect x="630.60" y="151.14" width="9.00" height="6.00" fill="#08a060" stroke="#222" stroke-width="0.6"/>
<text x="626.80" y="156.34" font-size="6.3" text-anchor="end" font-style="italic" fill="#222">CDT1</text>
<text x="643.00" y="158.45" font-size="6.6" fill="#333">*</text>
<rect x="630.60" y="159.52" width="28.70" height="6.00" fill="#08a060" stroke="#222" stroke-width="0.6"/>
<text x="626.80" y="164.72" font-size="6.3" text-anchor="end" font-style="italic" fill="#222">MCM2</text>
<text x="663.20" y="166.83" font-size="6.6" fill="#333">***</text>
<rect x="630.60" y="167.90" width="29.60" height="6.00" fill="#08a060" stroke="#222" stroke-width="0.6"/>
<text x="626.80" y="173.11" font-size="6.3" text-anchor="end" font-style="italic" fill="#222">MCM4</text>
<text x="663.20" y="175.21" font-size="6.6" fill="#333">***</text>
<rect x="630.60" y="176.28" width="15.70" height="6.00" fill="#08a060" stroke="#222" stroke-width="0.6"/>
<text x="626.80" y="181.49" font-size="6.3" text-anchor="end" font-style="italic" fill="#222">MCM5</text>
<text x="649.40" y="183.59" font-size="6.6" fill="#333">***</text>
<rect x="630.60" y="184.66" width="26.10" height="6.00" fill="#08a060" stroke="#222" stroke-width="0.6"/>
<text x="626.80" y="189.87" font-size="6.3" text-anchor="end" font-style="italic" fill="#222">MCM6</text>
<text x="659.00" y="191.97" font-size="6.6" fill="#333">***</text>
<rect x="630.60" y="193.04" width="18.60" height="6.00" fill="#08a060" stroke="#222" stroke-width="0.6"/>
<text x="626.80" y="198.25" font-size="6.3" text-anchor="end" font-style="italic" fill="#222">MCM7</text>
<text x="652.40" y="200.35" font-size="6.6" fill="#333">**</text>
<rect x="621.30" y="200.80" width="9.30" height="5.90" fill="#9c1f6a" stroke="#222" stroke-width="0.6"/>
<text x="617.40" y="208.17" font-size="6.5" text-anchor="middle" fill="#333">*</text>
<text x="635.70" y="206.52" font-size="6.06" font-style="italic" fill="#333" textLength="24.90" lengthAdjust="spacingAndGlyphs">CDKN1C</text>
<line x1="619.40" y1="210.60" x2="673.40" y2="210.60" stroke="#9a9a9a" stroke-width="1.2"/>
<line x1="630.60" y1="79.60" x2="630.60" y2="213.40" stroke="#222" stroke-width="1"/>
<line x1="619.40" y1="210.60" x2="619.40" y2="213.20" stroke="#333" stroke-width="0.8"/>
<text x="619.40" y="219.21" font-size="6.3" text-anchor="middle">-0.5</text>
<line x1="630.60" y1="210.60" x2="630.60" y2="213.20" stroke="#333" stroke-width="0.8"/>
<text x="630.60" y="219.21" font-size="6.3" text-anchor="middle">0</text>
<line x1="641.40" y1="210.60" x2="641.40" y2="213.20" stroke="#333" stroke-width="0.8"/>
<text x="641.40" y="219.21" font-size="6.3" text-anchor="middle">0.5</text>
<line x1="652.00" y1="210.60" x2="652.00" y2="213.20" stroke="#333" stroke-width="0.8"/>
<text x="652.00" y="219.21" font-size="6.3" text-anchor="middle">1</text>
<line x1="662.50" y1="210.60" x2="662.50" y2="213.20" stroke="#333" stroke-width="0.8"/>
<text x="662.50" y="219.21" font-size="6.3" text-anchor="middle">1.5</text>
<line x1="673.40" y1="210.60" x2="673.40" y2="213.20" stroke="#333" stroke-width="0.8"/>
<text x="673.40" y="219.21" font-size="6.3" text-anchor="middle">2</text>
<text x="614.90" y="233.94" font-size="8.98" font-weight="bold" textLength="56.00" lengthAdjust="spacingAndGlyphs">Avg Log (FC)</text>
<text x="-0.60" y="265.10" font-size="16" font-weight="bold">d</text>
<text x="48.90" y="272.73" font-size="7.5" text-anchor="middle">Medium</text>
<line x1="19.50" y1="279.46" x2="21.30" y2="279.46" stroke="#555" stroke-width="0.5"/>
<text x="18.80" y="280.44" font-size="2.8" text-anchor="end" fill="#666">10⁵</text>
<line x1="19.50" y1="290.90" x2="21.30" y2="290.90" stroke="#555" stroke-width="0.5"/>
<text x="18.80" y="291.88" font-size="2.8" text-anchor="end" fill="#666">10⁴</text>
<line x1="19.50" y1="303.90" x2="21.30" y2="303.90" stroke="#555" stroke-width="0.5"/>
<text x="18.80" y="304.88" font-size="2.8" text-anchor="end" fill="#666">10³</text>
<line x1="19.50" y1="312.74" x2="21.30" y2="312.74" stroke="#555" stroke-width="0.5"/>
<text x="18.80" y="313.72" font-size="2.8" text-anchor="end" fill="#666">0</text>
<line x1="19.50" y1="322.10" x2="21.30" y2="322.10" stroke="#555" stroke-width="0.5"/>
<text x="18.80" y="323.08" font-size="2.8" text-anchor="end" fill="#666">-10³</text>
<line x1="29.67" y1="327.30" x2="29.67" y2="329.10" stroke="#555" stroke-width="0.5"/>
<text x="29.67" y="332.78" font-size="2.8" text-anchor="middle" fill="#666">0</text>
<line x1="44.84" y1="327.30" x2="44.84" y2="329.10" stroke="#555" stroke-width="0.5"/>
<text x="44.84" y="332.78" font-size="2.8" text-anchor="middle" fill="#666">10³</text>
<line x1="56.86" y1="327.30" x2="56.86" y2="329.10" stroke="#555" stroke-width="0.5"/>
<text x="56.86" y="332.78" font-size="2.8" text-anchor="middle" fill="#666">10⁴</text>
<line x1="69.94" y1="327.30" x2="69.94" y2="329.10" stroke="#555" stroke-width="0.5"/>
<text x="69.94" y="332.78" font-size="2.8" text-anchor="middle" fill="#666">10⁵</text>
<text x="117.90" y="272.73" font-size="7.5" text-anchor="middle">αCD3 beads</text>
<line x1="88.40" y1="279.48" x2="90.20" y2="279.48" stroke="#555" stroke-width="0.5"/>
<text x="87.70" y="280.46" font-size="2.8" text-anchor="end" fill="#666">10⁵</text>
<line x1="88.40" y1="290.96" x2="90.20" y2="290.96" stroke="#555" stroke-width="0.5"/>
<text x="87.70" y="291.94" font-size="2.8" text-anchor="end" fill="#666">10⁴</text>
<line x1="88.40" y1="304.01" x2="90.20" y2="304.01" stroke="#555" stroke-width="0.5"/>
<text x="87.70" y="304.99" font-size="2.8" text-anchor="end" fill="#666">10³</text>
<line x1="88.40" y1="312.88" x2="90.20" y2="312.88" stroke="#555" stroke-width="0.5"/>
<text x="87.70" y="313.86" font-size="2.8" text-anchor="end" fill="#666">0</text>
<line x1="88.40" y1="322.28" x2="90.20" y2="322.28" stroke="#555" stroke-width="0.5"/>
<text x="87.70" y="323.26" font-size="2.8" text-anchor="end" fill="#666">-10³</text>
<line x1="98.54" y1="327.50" x2="98.54" y2="329.30" stroke="#555" stroke-width="0.5"/>
<text x="98.54" y="332.98" font-size="2.8" text-anchor="middle" fill="#666">0</text>
<line x1="113.65" y1="327.50" x2="113.65" y2="329.30" stroke="#555" stroke-width="0.5"/>
<text x="113.65" y="332.98" font-size="2.8" text-anchor="middle" fill="#666">10³</text>
<line x1="125.63" y1="327.50" x2="125.63" y2="329.30" stroke="#555" stroke-width="0.5"/>
<text x="125.63" y="332.98" font-size="2.8" text-anchor="middle" fill="#666">10⁴</text>
<line x1="138.65" y1="327.50" x2="138.65" y2="329.30" stroke="#555" stroke-width="0.5"/>
<text x="138.65" y="332.98" font-size="2.8" text-anchor="middle" fill="#666">10⁵</text>
<text x="46.00" y="348.43" font-size="7.5" text-anchor="middle">Cis beads</text>
<line x1="18.60" y1="355.73" x2="20.40" y2="355.73" stroke="#555" stroke-width="0.5"/>
<text x="17.90" y="356.71" font-size="2.8" text-anchor="end" fill="#666">10⁵</text>
<line x1="18.60" y1="367.37" x2="20.40" y2="367.37" stroke="#555" stroke-width="0.5"/>
<text x="17.90" y="368.35" font-size="2.8" text-anchor="end" fill="#666">10⁴</text>
<line x1="18.60" y1="380.59" x2="20.40" y2="380.59" stroke="#555" stroke-width="0.5"/>
<text x="17.90" y="381.57" font-size="2.8" text-anchor="end" fill="#666">10³</text>
<line x1="18.60" y1="389.59" x2="20.40" y2="389.59" stroke="#555" stroke-width="0.5"/>
<text x="17.90" y="390.57" font-size="2.8" text-anchor="end" fill="#666">0</text>
<line x1="18.60" y1="399.11" x2="20.40" y2="399.11" stroke="#555" stroke-width="0.5"/>
<text x="17.90" y="400.09" font-size="2.8" text-anchor="end" fill="#666">-10³</text>
<line x1="28.77" y1="404.40" x2="28.77" y2="406.20" stroke="#555" stroke-width="0.5"/>
<text x="28.77" y="409.88" font-size="2.8" text-anchor="middle" fill="#666">0</text>
<line x1="43.94" y1="404.40" x2="43.94" y2="406.20" stroke="#555" stroke-width="0.5"/>
<text x="43.94" y="409.88" font-size="2.8" text-anchor="middle" fill="#666">10³</text>
<line x1="55.96" y1="404.40" x2="55.96" y2="406.20" stroke="#555" stroke-width="0.5"/>
<text x="55.96" y="409.88" font-size="2.8" text-anchor="middle" fill="#666">10⁴</text>
<line x1="69.04" y1="404.40" x2="69.04" y2="406.20" stroke="#555" stroke-width="0.5"/>
<text x="69.04" y="409.88" font-size="2.8" text-anchor="middle" fill="#666">10⁵</text>
<text x="118.20" y="348.43" font-size="7.5" text-anchor="middle">Trans beads</text>
<line x1="87.50" y1="355.55" x2="89.30" y2="355.55" stroke="#555" stroke-width="0.5"/>
<text x="86.80" y="356.53" font-size="2.8" text-anchor="end" fill="#666">10⁵</text>
<line x1="87.50" y1="367.23" x2="89.30" y2="367.23" stroke="#555" stroke-width="0.5"/>
<text x="86.80" y="368.21" font-size="2.8" text-anchor="end" fill="#666">10⁴</text>
<line x1="87.50" y1="380.50" x2="89.30" y2="380.50" stroke="#555" stroke-width="0.5"/>
<text x="86.80" y="381.49" font-size="2.8" text-anchor="end" fill="#666">10³</text>
<line x1="87.50" y1="389.53" x2="89.30" y2="389.53" stroke="#555" stroke-width="0.5"/>
<text x="86.80" y="390.51" font-size="2.8" text-anchor="end" fill="#666">0</text>
<line x1="87.50" y1="399.09" x2="89.30" y2="399.09" stroke="#555" stroke-width="0.5"/>
<text x="86.80" y="400.07" font-size="2.8" text-anchor="end" fill="#666">-10³</text>
<line x1="97.78" y1="404.40" x2="97.78" y2="406.20" stroke="#555" stroke-width="0.5"/>
<text x="97.78" y="409.88" font-size="2.8" text-anchor="middle" fill="#666">0</text>
<line x1="113.15" y1="404.40" x2="113.15" y2="406.20" stroke="#555" stroke-width="0.5"/>
<text x="113.15" y="409.88" font-size="2.8" text-anchor="middle" fill="#666">10³</text>
<line x1="125.34" y1="404.40" x2="125.34" y2="406.20" stroke="#555" stroke-width="0.5"/>
<text x="125.34" y="409.88" font-size="2.8" text-anchor="middle" fill="#666">10⁴</text>
<line x1="138.59" y1="404.40" x2="138.59" y2="406.20" stroke="#555" stroke-width="0.5"/>
<text x="138.59" y="409.88" font-size="2.8" text-anchor="middle" fill="#666">10⁵</text>
<g clip-path="url(#fc1)">
<path d="M25.7 296.6h0M39.0 290.4h0M25.0 293.5h0M35.9 301.7h0M25.7 284.9h0M37.2 297.3h0M42.2 300.9h0M32.4 292.1h0M48.4 292.0h0M28.3 286.0h0M33.6 295.0h0M30.9 293.6h0M34.6 298.8h0M39.6 295.5h0M22.3 298.9h0M24.5 292.8h0M24.2 294.0h0M28.3 295.5h0M52.8 293.7h0M38.1 284.7h0M31.3 298.6h0M32.4 296.6h0M33.6 287.0h0M36.4 288.3h0M44.2 290.5h0M37.1 294.0h0M38.7 289.8h0M39.0 293.1h0M40.6 298.4h0M33.8 288.5h0M37.6 297.3h0M42.9 291.4h0M36.3 297.6h0M34.7 295.5h0M34.1 289.8h0M26.9 291.2h0M36.5 304.6h0M38.9 301.4h0M37.7 298.9h0M34.1 299.4h0" stroke="#444" stroke-width="0.60" stroke-linecap="square"/>
<path d="M55.9 293.0h0M43.5 306.8h0M48.2 300.8h0M51.4 288.2h0M59.2 305.7h0M47.9 299.5h0M47.6 289.7h0M46.4 297.2h0M52.6 299.3h0M47.3 303.1h0" stroke="#666" stroke-width="0.60" stroke-linecap="square"/>
<path d="M39.7 294.6h0M36.7 283.5h0M36.7 283.6h0M36.4 282.4h0M39.9 286.6h0M24.8 287.1h0M42.2 291.4h0M28.1 306.6h0M26.5 296.7h0M28.8 305.0h0M40.0 286.6h0M24.7 287.3h0M29.1 305.9h0M39.6 294.8h0M28.7 306.7h0M39.5 294.1h0M24.4 287.3h0M36.5 284.3h0M35.9 306.1h0M36.7 282.8h0M40.6 296.6h0M24.4 294.6h0M23.9 285.9h0M29.3 284.2h0M41.3 290.5h0M28.3 306.2h0M36.6 306.9h0M39.3 303.4h0M28.9 283.9h0M24.3 287.1h0M29.5 306.1h0M37.6 303.5h0M37.5 296.6h0M41.1 286.2h0M28.9 306.0h0M23.3 290.4h0M41.1 290.1h0M22.5 290.8h0M37.1 303.9h0M40.5 295.7h0M22.2 290.1h0M26.4 303.4h0M36.6 284.2h0M23.9 294.6h0M26.8 302.4h0M40.7 295.3h0M40.0 286.6h0M36.0 305.8h0M40.6 292.1h0M24.6 295.5h0M26.4 298.5h0M36.0 284.2h0M24.8 287.3h0M39.5 295.8h0M41.8 286.6h0M29.0 284.2h0M28.8 283.8h0M26.7 297.2h0M29.1 283.5h0M24.7 288.0h0M37.4 297.0h0M34.2 283.9h0M26.0 296.7h0M29.3 305.7h0M41.2 286.8h0M35.4 283.6h0M36.6 306.2h0M29.4 306.8h0M35.9 306.2h0M36.6 305.9h0M35.9 305.0h0M29.2 306.2h0M36.8 282.4h0M38.1 298.4h0M37.6 284.9h0M35.8 306.0h0M29.1 305.3h0M23.5 286.0h0M27.5 303.2h0M38.1 303.4h0M35.3 305.5h0M23.2 286.4h0M35.4 306.2h0M39.6 286.3h0M28.9 306.3h0M40.5 295.3h0M39.7 295.6h0M29.4 284.4h0M26.7 296.4h0M36.0 305.4h0M37.4 298.4h0M41.4 294.7h0M28.3 283.0h0M21.7 289.9h0M29.0 282.3h0M38.5 304.1h0M40.7 286.7h0M30.3 306.9h0M38.0 302.7h0M39.3 295.9h0M24.5 287.1h0M40.2 295.0h0M40.2 287.0h0M29.3 283.0h0M21.5 289.6h0M30.2 305.3h0M41.6 291.5h0M38.3 298.0h0M34.9 305.5h0M26.7 298.7h0M41.3 290.9h0M29.4 306.2h0M27.0 302.8h0M27.2 285.9h0M27.0 302.4h0M28.3 283.3h0M42.1 291.3h0M24.3 286.5h0M40.1 296.3h0M28.4 283.5h0M28.6 284.1h0M35.1 285.4h0M22.7 291.5h0M37.9 298.3h0M41.9 291.0h0M41.4 290.4h0M24.3 286.9h0M24.0 294.3h0M39.5 296.9h0M29.3 284.0h0M25.9 298.1h0M23.4 293.8h0M24.4 291.1h0M29.2 284.5h0M36.3 305.8h0M29.0 306.6h0M38.9 297.9h0M41.5 291.0h0M29.0 282.7h0M41.1 292.4h0M28.8 305.3h0M39.7 286.6h0M40.2 287.3h0M38.0 297.6h0M40.3 287.6h0M36.1 307.3h0M38.0 302.9h0M23.4 289.3h0M37.1 303.4h0M38.0 297.0h0M37.1 284.3h0M35.8 303.9h0M36.7 284.9h0M28.3 283.5h0M29.0 306.0h0M28.4 284.6h0M29.3 305.6h0M42.5 290.9h0M26.1 303.8h0M27.9 305.3h0" stroke="#222" stroke-width="0.6" stroke-linecap="square"/>
<path d="M24.55,286.85 C25.52,285.83 27.19,284.73 29.14,284.30 C31.10,283.88 34.41,283.88 36.28,284.30 C38.15,284.73 39.51,285.66 40.36,286.85 C41.21,288.04 41.47,290.00 41.38,291.44 C41.30,292.88 40.45,294.50 39.85,295.52 C39.26,296.54 38.15,296.28 37.81,297.56 C37.47,298.84 38.15,301.90 37.81,303.17 C37.47,304.44 37.22,304.84 35.77,305.21 C34.33,305.58 30.67,305.75 29.14,305.41 C27.61,305.07 27.02,304.48 26.59,303.17 C26.17,301.86 27.02,299.00 26.59,297.56 C26.17,296.12 24.58,295.69 24.04,294.50 C23.50,293.31 23.24,291.69 23.33,290.42 C23.41,289.15 23.58,287.87 24.55,286.85Z" fill="#bdbdbd" stroke="#1a1a1a" stroke-width="0.9"/>
<path d="M25.45,287.75 C26.31,286.85 27.78,285.88 29.50,285.50 C31.23,285.12 34.15,285.12 35.80,285.50 C37.45,285.88 38.65,286.70 39.40,287.75 C40.15,288.80 40.38,290.53 40.30,291.80 C40.23,293.07 39.48,294.50 38.95,295.40 C38.43,296.30 37.45,296.07 37.15,297.20 C36.85,298.32 37.45,301.02 37.15,302.15 C36.85,303.27 36.62,303.62 35.35,303.95 C34.08,304.28 30.85,304.43 29.50,304.13 C28.15,303.83 27.63,303.30 27.25,302.15 C26.88,301.00 27.63,298.47 27.25,297.20 C26.88,295.93 25.48,295.55 25.00,294.50 C24.52,293.45 24.30,292.02 24.37,290.90 C24.45,289.77 24.60,288.65 25.45,287.75Z" fill="url(#cg1)" stroke="#222" stroke-width="0.5"/>
<path d="M26.80,289.10 C27.48,288.38 28.66,287.60 30.04,287.30 C31.42,287.00 33.76,287.00 35.08,287.30 C36.40,287.60 37.36,288.26 37.96,289.10 C38.56,289.94 38.74,291.32 38.68,292.34 C38.62,293.36 38.02,294.50 37.60,295.22 C37.18,295.94 36.40,295.76 36.16,296.66 C35.92,297.56 36.40,299.72 36.16,300.62 C35.92,301.52 35.74,301.80 34.72,302.06 C33.70,302.32 31.12,302.44 30.04,302.20 C28.96,301.96 28.54,301.54 28.24,300.62 C27.94,299.70 28.54,297.68 28.24,296.66 C27.94,295.64 26.82,295.34 26.44,294.50 C26.06,293.66 25.88,292.52 25.94,291.62 C26.00,290.72 26.12,289.82 26.80,289.10Z" fill="none" stroke="#555" stroke-width="0.35"/>
<path d="M28.08,290.38 C28.60,289.82 29.50,289.23 30.55,289.00 C31.60,288.77 33.39,288.77 34.40,289.00 C35.41,289.23 36.14,289.73 36.60,290.38 C37.06,291.02 37.20,292.07 37.15,292.85 C37.10,293.63 36.65,294.50 36.33,295.05 C36.00,295.60 35.41,295.46 35.23,296.15 C35.04,296.84 35.41,298.49 35.23,299.18 C35.04,299.86 34.90,300.07 34.12,300.27 C33.35,300.48 31.38,300.57 30.55,300.38 C29.73,300.20 29.40,299.88 29.18,299.18 C28.95,298.47 29.40,296.93 29.18,296.15 C28.95,295.37 28.09,295.14 27.80,294.50 C27.51,293.86 27.37,292.99 27.42,292.30 C27.46,291.61 27.55,290.93 28.08,290.38Z" fill="none" stroke="#777" stroke-width="0.3"/>
<ellipse cx="34.2" cy="291.5" rx="1.6" ry="1.8" fill="#fff"/>
<line x1="34.20" y1="293.50" x2="34.20" y2="303.50" stroke="#e0e0e0" stroke-width="0.6"/>
</g>
<g clip-path="url(#fc2)">
<path d="M114.0 288.3h0M96.1 289.1h0M111.6 292.9h0M126.3 290.4h0M113.3 291.8h0M116.7 291.0h0M112.2 286.1h0M119.0 284.1h0M111.6 295.7h0M120.9 297.5h0M117.2 293.9h0M103.8 294.8h0M117.7 288.7h0M119.6 293.0h0M115.6 293.0h0M119.7 287.6h0M111.2 289.9h0M110.4 290.7h0M115.5 294.3h0M115.4 293.1h0M114.3 290.1h0M118.8 287.2h0M114.2 286.4h0M120.9 289.5h0M110.2 293.2h0M118.1 287.8h0M120.9 296.4h0M116.9 290.2h0M114.5 291.0h0M116.8 277.4h0M115.7 292.4h0M114.0 293.5h0M108.1 293.4h0M122.1 292.7h0M119.1 292.2h0M128.8 286.9h0M116.1 295.0h0M109.5 286.3h0M113.2 296.5h0M110.9 291.3h0M121.5 288.3h0M115.3 287.8h0M124.2 301.3h0M125.3 287.6h0M123.4 292.6h0M117.8 287.9h0M118.0 296.5h0M108.5 288.4h0M108.4 293.0h0M103.1 295.8h0M104.3 298.3h0M124.4 289.3h0M123.7 289.7h0M120.5 287.4h0M102.7 299.2h0M110.0 284.7h0M126.8 297.5h0M112.3 294.1h0M123.7 298.7h0M127.4 290.7h0M117.7 283.3h0M129.8 296.0h0M126.3 285.6h0M121.9 288.9h0M116.1 297.2h0M120.8 288.3h0M116.5 289.2h0M125.9 287.0h0M123.3 298.0h0M110.3 287.9h0M124.0 294.1h0M117.9 295.0h0M119.2 290.6h0M120.2 295.4h0M110.0 288.0h0M123.7 287.1h0M125.4 296.1h0M108.6 290.4h0M120.2 292.4h0M119.4 299.1h0M117.4 286.7h0M122.5 293.2h0M100.3 292.4h0M121.5 291.0h0M109.1 295.6h0M125.6 291.9h0M118.3 292.8h0M122.1 297.7h0M111.2 284.6h0M116.7 289.5h0M103.8 295.4h0M114.2 286.5h0M115.1 294.4h0M117.7 282.2h0M121.8 285.4h0M119.0 290.3h0M105.4 283.5h0M116.0 279.6h0M116.3 285.6h0M119.6 293.7h0M113.8 293.7h0M114.1 295.7h0M106.9 293.3h0M110.0 293.6h0M123.3 296.2h0M122.2 297.2h0M117.8 295.0h0M123.1 293.3h0M115.1 289.8h0M134.8 295.0h0M105.8 295.5h0M109.4 299.8h0M119.2 290.8h0M117.0 294.7h0M113.3 286.6h0M124.0 288.7h0M114.7 285.2h0M111.3 300.0h0M116.6 306.5h0M111.0 291.3h0M118.1 296.0h0M108.3 294.3h0M117.6 296.3h0M115.2 294.2h0M114.9 288.3h0M110.7 291.0h0M116.9 298.8h0M107.5 291.4h0M120.8 303.0h0M126.2 291.9h0M123.7 289.5h0M125.4 293.2h0M116.6 289.3h0M109.3 292.7h0M114.6 293.9h0M119.6 289.2h0M121.3 288.3h0M115.4 288.3h0M108.6 289.3h0M129.3 296.3h0M121.3 299.2h0M120.7 289.3h0M125.2 301.2h0M125.9 292.2h0M108.8 298.4h0M113.4 294.3h0M106.3 286.7h0M109.7 293.4h0M119.1 280.7h0M119.5 292.0h0M116.5 282.3h0M123.5 288.2h0M109.0 285.4h0M119.6 296.3h0M123.8 293.3h0M120.9 295.5h0M114.2 294.3h0M116.6 303.6h0M126.7 294.9h0M114.0 283.3h0" stroke="#333" stroke-width="0.60" stroke-linecap="square"/>
<path d="M108,288 C112,285 117,285 121,287 C118,289 114,291 112,294 C111,297 110,300 109,302" fill="none" stroke="#222" stroke-width="0.7"/>
<path d="M109,286 C114,283 120,283 125,286 C121,289 116,292 114,297 C113,300 112,303 110,305" fill="none" stroke="#444" stroke-width="0.5"/>
<path d="M110,290 C113,288 116,288 118,289 C115,291 113,293 112,296" fill="none" stroke="#333" stroke-width="0.5"/>
<path d="M107.3 297.8h0M99.1 306.0h0M106.3 299.3h0M92.4 289.7h0M97.6 282.3h0M107.0 298.3h0M94.6 286.4h0M109.2 295.6h0M98.1 306.9h0M92.3 290.7h0M96.1 297.7h0M111.4 285.3h0M95.3 298.9h0M93.5 295.7h0M107.2 299.5h0M98.9 283.2h0M107.3 304.2h0M97.7 284.1h0M105.5 306.4h0M93.4 287.2h0M110.2 296.9h0M109.9 288.2h0M95.6 298.6h0M108.2 304.5h0M95.7 298.0h0M93.4 286.4h0M93.5 291.2h0M105.1 284.9h0M93.4 295.1h0M95.5 297.9h0M96.8 298.3h0M95.3 304.5h0M105.5 306.9h0M111.5 292.4h0M107.3 303.9h0M94.7 287.0h0M106.1 306.5h0M93.4 295.4h0M95.6 299.7h0M92.1 285.2h0M99.1 307.2h0M105.2 304.7h0M108.6 295.4h0M91.6 289.5h0M95.7 298.3h0M97.6 307.1h0M104.0 306.3h0M106.1 304.0h0M98.4 305.7h0M97.1 307.3h0M109.2 295.4h0M106.8 302.8h0M93.5 285.4h0M93.1 294.2h0M94.1 286.7h0M105.5 306.0h0M108.2 305.1h0M104.8 284.0h0M98.3 305.8h0M109.4 285.4h0M106.0 283.6h0M105.3 303.7h0M95.2 287.4h0M109.6 291.9h0M92.8 287.6h0M110.6 292.6h0M109.8 287.0h0M98.4 307.3h0M98.3 305.9h0M93.0 289.5h0M105.9 284.1h0M93.6 295.2h0M110.5 287.1h0M109.0 286.2h0M108.8 305.3h0M109.9 286.0h0M93.3 286.9h0M105.5 283.6h0M97.8 307.3h0M105.6 282.8h0M104.6 284.5h0M109.4 295.5h0M92.0 290.7h0M93.1 287.2h0M107.3 304.1h0M110.0 292.2h0M96.3 298.3h0M94.5 305.8h0M93.5 290.2h0M92.3 290.9h0M109.6 296.2h0M95.9 304.0h0M93.0 294.4h0M110.1 285.8h0M97.8 283.2h0M98.3 283.2h0M107.6 304.2h0M111.4 293.0h0M109.9 286.6h0M98.3 282.7h0M93.7 294.8h0M96.6 297.8h0M98.6 284.2h0M107.4 303.6h0M96.3 298.8h0M108.6 295.9h0M95.0 304.2h0M110.2 296.3h0M108.8 286.6h0M107.5 298.4h0M106.9 304.5h0M105.3 284.0h0M108.9 305.3h0M109.8 287.3h0M105.3 306.6h0M107.8 303.4h0M97.8 284.6h0M110.2 296.5h0M94.6 286.5h0M110.5 286.0h0M97.4 306.6h0M109.5 295.4h0M109.4 286.4h0M95.3 298.8h0M97.2 283.4h0M105.5 306.7h0M105.3 283.4h0M106.0 298.1h0M107.9 297.5h0M105.3 284.6h0M92.4 291.5h0M104.7 283.6h0M93.6 294.6h0M95.8 304.4h0M97.4 307.1h0M110.0 292.2h0M108.0 298.6h0M98.7 283.9h0M107.3 296.5h0M94.3 285.8h0M106.0 284.4h0M111.8 292.4h0M105.4 297.5h0M105.0 308.0h0M107.3 304.5h0M106.8 304.3h0M94.7 286.9h0M109.6 296.8h0M109.4 296.2h0M93.4 295.2h0M105.9 284.7h0M107.5 298.9h0M92.6 295.2h0M91.6 290.1h0M110.4 290.3h0M96.9 298.6h0M105.7 283.4h0M104.8 306.9h0M93.7 286.3h0M111.7 290.6h0" stroke="#222" stroke-width="0.6" stroke-linecap="square"/>
<path d="M93.85,286.97 C94.82,285.90 96.48,284.74 98.44,284.29 C100.39,283.84 103.71,283.84 105.58,284.29 C107.45,284.74 108.81,285.72 109.66,286.97 C110.51,288.22 110.77,290.27 110.68,291.79 C110.60,293.30 109.75,295.00 109.15,296.07 C108.56,297.14 107.45,296.87 107.11,298.21 C106.77,299.55 107.45,302.76 107.11,304.10 C106.77,305.44 106.51,305.85 105.07,306.25 C103.62,306.64 99.97,306.82 98.44,306.46 C96.91,306.10 96.31,305.48 95.89,304.10 C95.47,302.73 96.31,299.73 95.89,298.21 C95.47,296.70 93.88,296.25 93.34,295.00 C92.80,293.75 92.54,292.05 92.63,290.72 C92.71,289.38 92.88,288.04 93.85,286.97Z" fill="#bdbdbd" stroke="#1a1a1a" stroke-width="0.9"/>
<path d="M94.75,287.91 C95.61,286.97 97.08,285.94 98.80,285.55 C100.52,285.16 103.45,285.16 105.10,285.55 C106.75,285.94 107.95,286.81 108.70,287.91 C109.45,289.02 109.67,290.83 109.60,292.17 C109.52,293.50 108.78,295.00 108.25,295.94 C107.72,296.89 106.75,296.65 106.45,297.83 C106.15,299.02 106.75,301.85 106.45,303.03 C106.15,304.21 105.93,304.58 104.65,304.92 C103.38,305.27 100.15,305.43 98.80,305.11 C97.45,304.80 96.92,304.25 96.55,303.03 C96.17,301.82 96.92,299.17 96.55,297.83 C96.17,296.50 94.78,296.10 94.30,295.00 C93.82,293.90 93.59,292.40 93.67,291.22 C93.75,290.04 93.89,288.86 94.75,287.91Z" fill="url(#cg2)" stroke="#222" stroke-width="0.5"/>
<path d="M96.10,289.33 C96.78,288.57 97.96,287.75 99.34,287.44 C100.72,287.12 103.06,287.12 104.38,287.44 C105.70,287.75 106.66,288.45 107.26,289.33 C107.86,290.21 108.04,291.66 107.98,292.73 C107.92,293.80 107.32,295.00 106.90,295.76 C106.48,296.51 105.70,296.32 105.46,297.27 C105.22,298.21 105.70,300.48 105.46,301.43 C105.22,302.37 105.04,302.66 104.02,302.94 C103.00,303.22 100.42,303.34 99.34,303.09 C98.26,302.84 97.84,302.40 97.54,301.43 C97.24,300.46 97.84,298.34 97.54,297.27 C97.24,296.20 96.12,295.88 95.74,295.00 C95.36,294.12 95.18,292.92 95.24,291.98 C95.30,291.03 95.42,290.09 96.10,289.33Z" fill="none" stroke="#555" stroke-width="0.35"/>
<path d="M97.38,290.67 C97.90,290.09 98.80,289.47 99.85,289.23 C100.90,288.98 102.69,288.98 103.70,289.23 C104.71,289.47 105.44,290.00 105.90,290.67 C106.36,291.34 106.50,292.45 106.45,293.27 C106.40,294.09 105.95,295.00 105.62,295.58 C105.30,296.15 104.71,296.01 104.53,296.73 C104.34,297.45 104.71,299.19 104.53,299.91 C104.34,300.63 104.20,300.85 103.42,301.06 C102.65,301.28 100.67,301.37 99.85,301.18 C99.02,300.99 98.70,300.65 98.47,299.91 C98.25,299.17 98.70,297.55 98.47,296.73 C98.25,295.91 97.39,295.67 97.10,295.00 C96.81,294.33 96.67,293.41 96.72,292.69 C96.76,291.97 96.85,291.25 97.38,290.67Z" fill="none" stroke="#777" stroke-width="0.3"/>
<ellipse cx="103.5" cy="291.0" rx="1.6" ry="1.8" fill="#fff"/>
<line x1="103.50" y1="293.00" x2="103.50" y2="303.00" stroke="#e0e0e0" stroke-width="0.6"/>
</g>
<g clip-path="url(#fc3)">
<path d="M41.0 365.0h0M48.8 359.6h0M45.6 351.7h0M63.7 382.2h0M27.9 378.3h0M41.9 387.3h0M56.3 373.4h0M43.6 378.9h0M31.0 379.5h0M45.9 365.8h0M35.3 367.0h0M37.6 386.9h0M39.9 374.8h0M32.8 381.9h0M46.4 383.2h0M26.1 369.0h0M44.3 375.0h0M48.4 377.1h0M40.6 372.4h0M30.8 371.9h0M36.1 379.8h0M49.1 370.6h0M49.1 367.8h0M42.1 368.6h0M53.6 371.4h0M49.5 370.9h0M27.6 378.0h0M45.9 377.0h0M30.2 356.7h0M38.9 376.0h0M21.3 388.5h0M51.3 380.0h0M30.6 379.0h0M45.6 381.4h0M58.5 363.1h0M33.0 366.0h0M37.1 370.6h0M50.8 362.9h0M26.4 375.0h0M32.5 375.3h0M43.9 381.4h0M30.1 368.3h0M57.1 374.0h0M28.1 375.1h0M20.9 362.9h0M49.1 378.4h0M60.0 371.5h0M35.1 382.6h0M53.1 371.5h0M45.9 369.3h0M54.8 371.5h0M44.1 385.3h0M26.7 358.7h0M51.4 361.0h0M7.1 370.4h0M62.4 377.6h0M40.0 366.8h0M46.3 364.8h0M20.5 368.8h0M45.0 377.3h0M39.3 369.9h0M23.8 367.8h0M33.8 372.3h0M48.7 358.9h0M43.8 363.2h0M58.3 365.0h0M48.1 377.4h0M44.4 373.1h0M29.5 383.5h0M44.8 369.0h0M46.5 378.3h0M50.9 364.1h0M45.5 370.4h0M49.5 371.6h0M26.5 361.6h0M41.0 367.4h0M36.3 365.5h0M52.0 372.6h0M35.8 381.0h0M39.3 381.4h0M39.6 367.8h0M53.7 379.8h0M36.3 372.8h0M61.5 383.1h0M34.0 367.8h0M53.8 393.4h0M35.6 361.3h0M35.9 376.6h0M36.8 374.1h0M34.1 366.6h0M46.8 365.5h0M29.4 374.2h0M51.5 369.7h0M39.7 367.1h0M34.1 369.3h0M48.3 367.9h0M52.1 363.7h0M17.4 376.6h0M28.2 379.5h0M32.3 367.5h0M52.5 374.9h0M39.7 379.4h0M50.8 370.4h0M36.4 362.2h0M42.4 379.2h0M57.8 383.0h0M41.9 379.3h0M30.9 382.9h0M50.7 364.4h0M37.2 371.1h0M45.8 370.2h0M35.0 377.1h0M39.2 361.7h0M28.9 384.4h0M44.3 371.5h0M33.7 366.2h0M34.1 378.0h0M35.4 381.6h0M19.0 360.6h0M76.1 368.8h0M25.7 380.0h0M31.9 363.2h0M46.1 372.0h0M31.2 373.7h0M37.7 367.9h0M49.5 371.7h0M37.8 374.8h0M27.7 379.1h0M47.8 374.1h0M32.9 364.1h0M41.6 366.7h0M48.7 361.5h0M42.9 368.5h0M40.1 372.2h0M58.8 359.0h0M43.9 371.1h0M33.9 379.0h0M36.8 371.3h0M44.3 366.2h0M36.3 371.8h0M36.7 370.5h0M53.2 376.4h0M36.8 383.7h0M42.2 379.2h0M49.3 373.6h0M28.6 374.7h0M21.2 375.4h0M59.0 380.3h0M58.4 387.3h0M30.9 370.9h0M25.3 362.9h0M53.1 370.4h0M48.3 372.3h0M49.5 361.6h0M40.5 368.0h0M39.4 371.7h0M49.2 375.8h0M57.4 369.9h0M43.9 370.2h0M38.2 373.4h0M41.6 375.4h0M50.6 368.9h0M26.0 372.7h0M62.1 360.9h0M30.2 368.6h0M51.1 368.0h0M36.5 382.9h0M41.5 378.7h0M30.7 375.4h0M34.6 377.8h0M38.7 372.7h0M44.0 369.9h0M28.4 370.5h0M35.7 374.9h0M50.6 375.9h0M37.0 379.4h0M44.3 383.6h0M40.5 372.1h0M18.1 382.1h0M56.7 372.4h0M52.2 370.4h0M33.4 368.1h0M37.2 381.1h0M33.9 368.8h0M28.7 372.1h0M42.1 369.7h0M49.0 374.9h0M39.5 384.4h0M22.5 378.3h0M34.6 375.3h0M40.0 369.3h0M62.7 370.7h0M37.5 377.4h0M50.2 360.8h0M39.6 370.1h0M42.3 369.8h0M32.1 365.7h0M56.1 367.6h0M67.4 374.3h0M42.2 362.8h0M60.0 372.4h0M27.5 377.2h0M66.4 370.4h0M59.1 377.5h0M24.9 376.3h0M33.4 377.3h0M36.9 373.4h0M34.4 382.3h0M46.9 373.5h0M50.2 363.0h0M36.9 371.0h0M49.0 376.1h0M55.5 369.4h0M48.7 369.7h0M30.3 376.4h0M45.0 369.0h0M50.7 366.4h0M53.5 373.5h0M30.2 379.3h0M53.5 368.4h0" stroke="#333" stroke-width="0.60" stroke-linecap="square"/>
<path d="M28.2 365.6h0M30.4 368.8h0M29.9 367.8h0M27.1 369.6h0M28.3 375.4h0M26.1 379.6h0M25.1 371.1h0M21.4 365.9h0M25.8 379.2h0M16.1 374.4h0M26.4 381.5h0M30.4 377.4h0M29.2 362.9h0M29.9 374.5h0M32.2 365.9h0M28.9 364.7h0M25.3 366.0h0M40.8 369.7h0M24.4 374.2h0M31.0 383.6h0M33.4 375.6h0M30.8 370.5h0M27.9 363.4h0M25.7 370.0h0M37.1 386.0h0M30.8 359.4h0M37.2 379.1h0M30.7 376.6h0M23.3 369.9h0M36.2 380.2h0M20.7 364.6h0M36.8 367.1h0M21.9 385.0h0M29.2 366.3h0M35.0 363.2h0M29.7 377.3h0M36.2 373.1h0M29.9 377.8h0M30.0 375.7h0M26.0 372.5h0M29.1 377.5h0M19.8 371.2h0M35.3 383.7h0M34.2 364.4h0M22.2 368.9h0M22.8 369.8h0M37.6 366.1h0M29.9 374.3h0M34.4 369.4h0M30.8 367.0h0M25.4 374.0h0M28.4 355.4h0M23.5 371.7h0M27.9 376.1h0M32.3 371.0h0M36.8 368.3h0M39.7 378.6h0M35.2 377.4h0M40.9 386.3h0M26.3 385.2h0M36.9 375.9h0M31.1 372.7h0M17.1 363.4h0M26.1 359.4h0M31.3 363.7h0M35.4 376.0h0M32.4 379.8h0M26.4 378.5h0M32.5 382.3h0M25.0 376.0h0M35.1 375.8h0M17.5 365.4h0M27.5 370.6h0M28.6 378.0h0M26.5 356.2h0M42.1 369.4h0M38.8 365.7h0M30.9 371.4h0M23.3 372.6h0M27.3 363.1h0M21.2 361.4h0M35.2 376.4h0M31.2 371.6h0M37.7 381.1h0M31.1 371.6h0M39.2 374.6h0M27.7 364.1h0M22.6 366.3h0M30.1 371.8h0M38.1 377.2h0M39.4 370.0h0M26.2 375.5h0M29.5 373.0h0M30.5 366.6h0M24.8 367.6h0M26.2 381.0h0M26.5 373.4h0M32.3 369.1h0M32.2 376.3h0M21.3 373.6h0M28.2 376.5h0M27.8 367.5h0M26.2 371.2h0M32.3 368.9h0M30.5 377.9h0M26.1 381.9h0M25.9 361.0h0M28.0 371.3h0M30.3 366.8h0M31.0 379.1h0M34.8 371.6h0M23.2 384.1h0M34.9 371.6h0M35.8 381.3h0M30.9 365.8h0M31.2 365.4h0M28.5 381.1h0M29.7 364.1h0M30.3 370.9h0M25.1 372.0h0M40.2 378.2h0M32.1 375.7h0M39.2 359.7h0M34.2 369.3h0M32.5 370.4h0M27.3 355.5h0M31.0 375.5h0M25.5 359.0h0M28.2 355.1h0M25.4 373.9h0M32.9 375.8h0M31.8 371.0h0M31.8 377.9h0M34.1 373.8h0M31.0 375.3h0M23.9 370.5h0M22.3 367.1h0M18.0 369.2h0M33.1 374.4h0M33.8 374.8h0M30.8 356.1h0M27.0 371.9h0M26.9 379.9h0M27.6 383.9h0M35.5 370.7h0M22.3 363.8h0M26.8 373.0h0M43.0 365.3h0M38.4 373.8h0M28.7 373.3h0M31.6 375.7h0M29.7 367.2h0M33.5 372.6h0M31.8 364.2h0M26.8 365.6h0M30.4 373.1h0M29.5 373.9h0M29.5 381.7h0M26.1 377.8h0M26.9 367.7h0" stroke="#999" stroke-width="0.70" stroke-linecap="square"/>
<path d="M41.00,362.00 C42.50,360.25 46.50,361.50 49.00,361.50 C51.50,361.50 54.67,360.75 56.00,362.00 C57.33,363.25 56.92,366.50 57.00,369.00 C57.08,371.50 56.83,374.83 56.50,377.00 C56.17,379.17 56.58,381.00 55.00,382.00 C53.42,383.00 49.33,383.00 47.00,383.00 C44.67,383.00 42.17,383.83 41.00,382.00 C39.83,380.17 40.00,375.33 40.00,372.00 C40.00,368.67 39.50,363.75 41.00,362.00Z" fill="#a8a8a8" stroke="#111" stroke-width="1.0"/>
<path d="M43.00,364.00 C44.17,362.58 47.08,363.50 49.00,363.50 C50.92,363.50 53.50,362.92 54.50,364.00 C55.50,365.08 55.00,368.00 55.00,370.00 C55.00,372.00 54.83,374.33 54.50,376.00 C54.17,377.67 54.25,379.17 53.00,380.00 C51.75,380.83 48.67,381.00 47.00,381.00 C45.33,381.00 43.83,381.50 43.00,380.00 C42.17,378.50 42.00,374.67 42.00,372.00 C42.00,369.33 41.83,365.42 43.00,364.00Z" fill="#b8b8b8" stroke="#555" stroke-width="0.4"/>
<path d="M45.00,367.00 C45.67,365.17 47.75,366.00 49.00,366.00 C50.25,366.00 51.83,366.00 52.50,367.00 C53.17,368.00 53.08,370.33 53.00,372.00 C52.92,373.67 52.83,376.00 52.00,377.00 C51.17,378.00 49.17,378.00 48.00,378.00 C46.83,378.00 45.50,378.83 45.00,377.00 C44.50,375.17 44.33,368.83 45.00,367.00Z" fill="#c8c8c8" stroke="#777" stroke-width="0.3"/>
<path d="M43.8 380.1h0M45.4 369.5h0M44.7 370.6h0M44.6 381.6h0M50.0 383.7h0M54.0 363.8h0M51.5 377.1h0M52.3 371.6h0M52.1 379.0h0M49.5 378.6h0M54.3 382.1h0M48.6 374.2h0M47.6 367.7h0M44.6 369.9h0M53.2 369.2h0M48.8 372.2h0M45.8 372.1h0M43.9 368.8h0M47.3 372.5h0M44.4 372.1h0M42.3 361.7h0M48.2 377.3h0M55.2 376.5h0M49.7 381.4h0M49.9 368.3h0M52.9 368.6h0M44.4 374.8h0M53.4 370.1h0M45.7 372.5h0M51.6 367.0h0M47.5 374.8h0M50.6 381.3h0M52.7 358.9h0M54.3 368.2h0M50.9 364.5h0M51.6 363.6h0M52.3 380.2h0M48.0 375.5h0M49.8 371.5h0M45.3 371.7h0M50.4 365.4h0M56.9 365.8h0M48.1 370.6h0M48.0 369.9h0M57.1 370.9h0M48.0 375.0h0M46.7 364.1h0M54.6 371.3h0M53.5 377.7h0M56.5 375.6h0M49.8 363.3h0M52.6 367.4h0M54.4 369.5h0M45.1 372.2h0M48.5 372.9h0M52.8 379.6h0M49.8 379.2h0M50.0 364.4h0M45.5 371.6h0M48.6 375.2h0M45.4 365.9h0M52.4 370.4h0M56.9 367.1h0M46.5 383.9h0M41.5 363.3h0M49.5 367.5h0M48.1 378.0h0M47.9 372.1h0M52.2 367.3h0M42.5 373.4h0M49.0 375.3h0M46.4 370.2h0M48.3 373.7h0M52.5 373.5h0M39.4 369.9h0M46.4 368.0h0M46.6 374.0h0M39.0 374.1h0M52.1 375.7h0M46.3 364.2h0M43.6 369.6h0M57.0 367.9h0M49.0 378.2h0M53.9 371.9h0M51.5 379.9h0M51.1 373.0h0M46.0 370.7h0M47.8 364.1h0M46.1 379.7h0M45.2 365.7h0M44.9 373.4h0M52.6 375.5h0M57.0 369.1h0M50.4 372.7h0M48.3 379.6h0M47.1 373.0h0M44.3 374.9h0M48.9 366.9h0M45.4 365.9h0M48.1 371.0h0M48.5 369.5h0M53.3 373.9h0M50.5 372.2h0M45.5 375.6h0M56.8 379.6h0M51.8 367.4h0M46.0 369.7h0M51.0 371.7h0M48.1 375.3h0M52.2 367.5h0M45.6 374.7h0M51.3 369.5h0M50.6 364.4h0M45.4 373.5h0M44.9 374.1h0M46.8 378.4h0M46.1 374.3h0M49.6 366.5h0M40.9 373.7h0M45.3 373.4h0" stroke="#777" stroke-width="0.60" stroke-linecap="square"/>
<path d="M25.1 372.7h0M41.9 371.1h0M26.9 384.5h0M24.4 372.9h0M32.1 385.9h0M32.2 386.2h0M41.1 370.2h0M42.0 369.9h0M39.4 383.9h0M25.0 373.6h0M27.4 362.2h0M26.4 363.2h0M25.6 374.3h0M26.5 383.6h0M31.9 385.8h0M26.8 373.4h0M42.5 379.2h0M39.9 362.1h0M31.9 384.5h0M25.3 374.0h0M39.5 363.6h0M42.5 370.4h0M34.1 362.3h0M27.1 363.1h0M41.1 378.3h0M41.3 383.8h0M27.0 384.4h0M40.3 377.6h0M42.1 369.8h0M41.0 383.6h0M39.5 362.5h0M40.0 384.0h0M40.1 384.0h0M27.5 362.2h0M26.0 373.0h0M25.6 383.5h0M33.6 362.9h0M25.7 374.3h0M41.2 385.1h0M41.5 370.7h0M41.3 378.0h0M40.5 363.1h0M34.3 361.0h0M26.0 384.1h0M31.6 385.3h0M26.7 373.4h0M42.3 369.7h0M26.4 362.4h0M43.5 369.5h0M40.3 383.5h0M32.1 384.8h0M42.5 370.5h0M40.5 384.3h0M24.2 374.6h0M26.1 373.8h0M32.5 362.4h0M31.6 386.7h0M32.9 362.3h0M27.7 383.0h0M28.0 363.3h0M41.7 370.1h0M24.2 373.2h0M41.4 363.1h0M25.8 363.0h0M39.5 363.1h0M41.5 384.2h0M40.6 364.2h0M40.4 379.2h0M42.3 378.0h0M26.9 363.4h0M41.6 370.5h0M42.3 378.3h0M34.1 360.9h0M40.3 384.4h0M26.8 383.7h0M41.0 384.2h0M41.9 384.7h0M41.6 370.2h0M42.5 370.9h0M27.4 363.6h0M41.4 370.2h0M26.2 362.4h0M41.4 379.7h0M32.7 386.0h0M39.9 363.0h0M34.2 362.7h0M27.2 383.5h0M40.9 362.1h0M32.7 385.0h0M26.5 385.1h0M27.6 364.4h0M32.1 385.6h0M41.5 363.7h0M34.3 361.1h0M41.7 378.8h0M39.4 362.5h0M39.9 384.9h0M39.5 383.6h0M42.1 378.2h0M41.0 362.6h0M35.0 362.3h0M41.8 380.0h0M32.8 386.4h0M42.6 379.9h0M42.0 369.6h0M27.4 363.4h0M40.0 384.3h0M32.1 384.6h0M27.6 382.9h0M41.1 379.0h0M39.3 383.3h0M42.4 370.9h0M26.9 361.8h0M40.5 384.0h0M34.1 361.8h0M40.4 378.3h0M40.3 383.7h0M34.6 361.8h0M34.7 362.8h0M41.1 384.2h0M40.1 383.6h0M26.1 373.3h0M41.1 379.3h0M39.9 378.6h0M40.3 363.7h0M35.3 361.6h0M42.2 378.4h0M27.8 383.3h0M40.5 384.0h0M40.0 362.8h0M33.6 360.9h0M39.3 385.0h0M26.9 363.2h0M35.0 361.4h0M34.1 361.8h0M26.9 363.2h0M40.5 361.6h0M39.3 384.8h0M41.1 370.5h0M42.1 378.6h0M34.4 361.6h0M26.9 362.0h0M26.6 363.6h0M25.9 373.1h0M24.9 373.0h0M41.6 370.8h0M42.0 370.6h0M31.3 385.3h0M40.5 384.1h0M43.1 370.8h0M24.8 372.4h0M31.3 386.5h0M40.3 385.3h0M26.2 384.7h0M39.9 362.7h0M39.0 383.7h0M40.3 362.7h0M41.1 363.1h0M34.0 360.8h0M33.8 362.9h0" stroke="#222" stroke-width="0.6" stroke-linecap="square"/>
<path d="M27.06,363.20 C28.42,361.33 31.99,362.18 34.20,362.18 C36.41,362.18 39.05,361.84 40.32,363.20 C41.59,364.56 41.68,367.79 41.85,370.34 C42.02,372.89 41.60,376.20 41.34,378.50 C41.09,380.80 41.85,382.99 40.32,384.11 C38.79,385.23 34.37,385.32 32.16,385.23 C29.95,385.15 28.08,385.57 27.06,383.60 C26.04,381.63 26.04,376.80 26.04,373.40 C26.04,370.00 25.70,365.07 27.06,363.20Z" fill="#bdbdbd" stroke="#1a1a1a" stroke-width="0.9"/>
<path d="M27.90,364.40 C29.10,362.75 32.25,363.50 34.20,363.50 C36.15,363.50 38.48,363.20 39.60,364.40 C40.73,365.60 40.80,368.45 40.95,370.70 C41.10,372.95 40.73,375.88 40.50,377.90 C40.27,379.92 40.95,381.86 39.60,382.85 C38.25,383.84 34.35,383.91 32.40,383.84 C30.45,383.76 28.80,384.14 27.90,382.40 C27.00,380.66 27.00,376.40 27.00,373.40 C27.00,370.40 26.70,366.05 27.90,364.40Z" fill="url(#cg3)" stroke="#222" stroke-width="0.5"/>
<path d="M29.16,366.20 C30.12,364.88 32.64,365.48 34.20,365.48 C35.76,365.48 37.62,365.24 38.52,366.20 C39.42,367.16 39.48,369.44 39.60,371.24 C39.72,373.04 39.42,375.38 39.24,377.00 C39.06,378.62 39.60,380.17 38.52,380.96 C37.44,381.75 34.32,381.81 32.76,381.75 C31.20,381.69 29.88,381.99 29.16,380.60 C28.44,379.21 28.44,375.80 28.44,373.40 C28.44,371.00 28.20,367.52 29.16,366.20Z" fill="none" stroke="#555" stroke-width="0.35"/>
<path d="M30.35,367.90 C31.08,366.89 33.01,367.35 34.20,367.35 C35.39,367.35 36.81,367.17 37.50,367.90 C38.19,368.63 38.23,370.38 38.33,371.75 C38.42,373.12 38.19,374.91 38.05,376.15 C37.91,377.39 38.33,378.57 37.50,379.17 C36.67,379.78 34.29,379.83 33.10,379.78 C31.91,379.73 30.90,379.96 30.35,378.90 C29.80,377.84 29.80,375.23 29.80,373.40 C29.80,371.57 29.62,368.91 30.35,367.90Z" fill="none" stroke="#777" stroke-width="0.3"/>
<ellipse cx="33.7" cy="367.9" rx="1.6" ry="1.8" fill="#fff"/>
<line x1="33.70" y1="369.90" x2="33.70" y2="379.90" stroke="#e0e0e0" stroke-width="0.6"/>
</g>
<g clip-path="url(#fc4)">
<path d="M114.7 377.1h0M104.1 374.4h0M111.6 370.4h0M99.3 363.0h0M108.7 375.8h0M115.2 373.8h0M115.9 363.5h0M124.0 372.7h0M104.1 368.7h0M123.2 373.5h0M94.2 385.8h0M96.2 383.3h0M121.7 365.7h0M126.0 380.4h0M123.8 376.5h0M116.0 373.6h0M106.6 374.0h0M126.4 371.6h0M134.0 362.2h0M112.8 362.6h0M93.2 373.9h0M108.9 368.7h0M100.8 370.7h0M94.7 371.0h0M106.7 364.2h0M117.0 360.2h0M117.2 374.0h0M118.2 373.1h0M121.2 370.6h0M100.6 374.7h0M103.8 369.9h0M113.8 366.3h0M123.2 362.3h0M125.9 372.1h0M131.0 379.4h0M119.9 374.2h0M113.7 363.4h0M106.3 366.2h0M104.6 371.4h0M103.8 373.2h0M109.6 369.2h0M116.7 375.3h0M97.8 370.2h0M144.5 372.4h0M117.5 366.5h0M123.1 382.2h0M118.8 371.4h0M112.8 360.0h0M118.9 370.3h0M116.8 374.7h0M114.8 385.9h0M122.5 368.1h0M119.1 376.4h0M112.9 381.4h0M108.4 361.0h0M100.8 374.8h0M101.6 373.3h0M95.9 374.8h0M109.6 366.4h0M106.4 370.5h0M122.4 373.8h0M110.2 373.3h0M122.2 375.3h0M131.6 367.6h0M121.4 373.1h0M105.6 376.1h0M121.6 378.6h0M117.7 366.6h0M114.3 374.7h0M130.6 373.1h0M114.1 382.4h0M113.2 369.4h0M115.6 377.2h0M114.1 361.5h0M108.1 378.7h0M104.4 377.8h0M114.3 367.1h0M121.2 358.4h0M89.6 362.3h0M118.2 370.5h0M119.3 371.8h0M113.9 368.9h0M108.1 378.6h0M120.8 363.7h0M118.7 385.3h0M120.7 366.2h0M120.6 373.7h0M109.0 378.5h0M125.8 368.9h0M113.8 369.7h0M112.5 382.5h0M107.7 375.9h0M115.3 372.8h0M100.2 376.3h0M100.5 376.9h0M111.5 373.2h0M107.4 366.8h0M101.3 372.3h0M111.6 374.1h0M109.3 377.2h0M114.0 373.1h0M109.8 372.2h0M119.5 367.8h0M99.4 374.7h0M117.0 372.5h0M115.1 363.9h0M101.9 372.3h0M112.1 364.3h0M117.5 360.1h0M125.9 365.5h0M106.4 365.6h0M97.8 370.2h0M91.9 370.1h0M114.3 370.3h0M112.2 363.0h0M92.4 363.8h0M123.9 374.3h0M93.0 383.2h0M119.2 379.2h0M123.4 380.6h0M94.1 372.7h0M104.0 384.6h0M119.8 372.2h0M109.6 358.7h0M113.5 366.9h0M127.1 377.0h0M111.5 369.7h0M124.4 368.8h0M124.3 373.6h0M109.3 374.6h0M131.3 362.0h0M120.5 377.0h0M109.6 381.6h0M119.6 375.7h0M101.5 375.9h0M98.4 375.5h0M135.7 366.5h0M129.3 365.3h0M113.1 376.8h0M96.7 374.3h0M104.0 368.3h0M121.5 371.7h0M116.8 372.3h0M116.5 382.2h0M113.7 370.4h0M112.7 376.8h0M117.3 358.5h0M111.6 375.0h0M140.7 368.4h0M109.4 364.8h0M111.6 360.9h0M103.3 371.7h0M96.0 370.5h0M104.9 380.3h0M129.7 385.8h0M113.9 376.5h0M138.1 368.1h0M130.8 366.4h0M123.8 362.2h0M108.1 371.0h0M109.6 359.7h0M113.7 370.3h0M128.5 376.0h0M88.8 373.0h0M124.0 371.6h0M104.7 363.4h0M108.4 366.2h0M109.4 370.1h0M126.3 365.9h0M116.0 365.2h0M115.4 378.8h0M106.1 364.6h0M112.7 372.4h0M105.4 374.9h0M113.1 376.6h0M97.4 377.1h0M126.1 366.9h0M133.9 373.7h0M98.2 365.3h0M104.2 368.0h0M109.7 374.1h0M110.1 370.1h0M101.8 359.0h0M104.6 364.3h0M121.9 356.6h0M124.8 353.8h0M110.2 372.3h0M100.2 365.9h0M121.9 365.2h0M111.3 372.5h0M119.5 364.0h0M126.7 371.2h0M123.4 363.1h0M124.2 371.6h0M120.8 368.1h0M121.7 372.4h0M91.6 388.3h0M105.0 375.2h0M110.2 369.3h0M108.2 378.1h0" stroke="#333" stroke-width="0.60" stroke-linecap="square"/>
<path d="M101.8 378.7h0M91.6 377.9h0M92.1 388.3h0M99.6 380.1h0M98.1 373.2h0M95.3 386.1h0M96.8 379.8h0M94.9 371.2h0M96.6 371.4h0M96.1 376.6h0M100.7 361.0h0M96.4 363.0h0M102.4 363.4h0M100.0 373.3h0M97.9 358.6h0M104.9 371.2h0M100.8 379.6h0M94.1 365.3h0M105.0 385.8h0M94.8 371.6h0M101.9 371.2h0M103.4 376.4h0M97.8 376.9h0M96.2 381.1h0M95.5 381.4h0M108.1 360.0h0M104.9 361.9h0M97.9 385.0h0M102.5 376.9h0M99.6 373.5h0M100.0 370.8h0M97.0 363.6h0M105.1 372.1h0M105.7 377.4h0M100.0 364.6h0M97.1 372.6h0M97.7 370.1h0M89.0 369.4h0M97.1 368.9h0M96.9 361.3h0M94.7 382.6h0M94.4 368.6h0M94.8 371.1h0M96.1 386.3h0M94.0 381.7h0M96.3 375.4h0M108.3 372.2h0M98.1 352.2h0M96.8 370.7h0M98.7 373.9h0M93.8 365.7h0M101.2 370.4h0M98.3 376.9h0M98.6 373.3h0M93.8 372.3h0M91.4 384.7h0M95.1 384.1h0M96.2 371.3h0M103.4 373.8h0M98.9 370.4h0M97.1 367.1h0M95.1 359.8h0M97.6 366.8h0M103.8 387.2h0M105.8 364.0h0M96.7 371.4h0M92.0 383.3h0M101.1 374.4h0M106.0 375.8h0M97.0 374.3h0M96.3 375.7h0M92.9 375.9h0M97.0 369.4h0M96.7 371.5h0M91.2 376.6h0M97.4 385.0h0M98.1 379.0h0M98.1 371.4h0M93.3 369.1h0M95.9 355.4h0M97.0 367.3h0M99.4 379.6h0M97.0 380.7h0M103.2 377.7h0M96.9 373.1h0M104.8 383.3h0M102.8 360.3h0M89.1 384.9h0M101.1 381.9h0M100.6 370.3h0M100.1 372.1h0M104.2 378.3h0M94.4 367.1h0M102.3 378.6h0M99.4 374.8h0M93.2 366.4h0M100.4 359.6h0M100.2 376.5h0M100.9 378.4h0M105.9 374.5h0M95.0 360.4h0M89.2 373.1h0M101.8 360.7h0M99.0 367.4h0M97.2 374.0h0M98.4 364.1h0M101.3 371.5h0M90.7 377.9h0M104.6 369.7h0M104.7 361.3h0M97.2 381.6h0M103.5 376.1h0M102.5 369.6h0M101.2 379.2h0M102.1 375.1h0M101.6 375.5h0M100.7 361.5h0M100.7 365.8h0M96.7 372.9h0M99.3 363.2h0" stroke="#999" stroke-width="0.70" stroke-linecap="square"/>
<path d="M115.2 379.2h0M115.9 378.4h0M119.8 379.1h0M115.1 379.0h0M121.8 373.1h0M123.1 374.2h0M120.6 380.7h0M122.2 373.5h0M112.8 373.5h0M121.8 378.8h0M107.5 381.2h0M125.5 376.1h0M117.9 379.2h0M112.3 376.5h0M121.7 376.9h0M118.3 378.7h0M128.7 379.3h0M120.4 376.3h0M125.8 378.5h0M118.2 383.5h0M126.5 374.5h0M116.5 383.4h0M115.5 384.5h0M117.4 386.1h0M112.5 370.4h0M109.6 386.2h0M114.0 376.5h0M114.9 375.3h0M119.3 378.7h0M114.6 376.1h0M126.4 382.1h0M124.3 383.2h0M117.2 381.8h0M128.3 374.9h0M126.5 368.3h0M106.8 372.3h0M112.3 374.3h0M115.4 381.5h0M113.9 376.7h0M110.5 371.8h0M117.2 375.2h0M123.7 378.7h0M107.4 381.1h0M111.1 376.6h0M112.0 374.9h0M114.7 373.4h0M113.8 377.0h0M122.6 381.0h0M129.0 371.7h0M115.9 383.0h0M111.4 377.5h0M122.6 384.4h0M121.7 379.5h0M117.3 380.7h0M118.9 379.5h0M114.4 377.6h0M112.9 373.8h0M113.1 374.8h0M114.2 375.8h0M109.1 379.4h0M120.1 384.3h0M104.0 372.5h0M112.4 374.6h0M118.6 374.7h0M113.6 381.1h0M117.1 371.7h0M123.9 387.1h0M125.0 377.5h0M126.4 377.8h0M116.1 379.1h0M126.0 378.6h0M116.4 372.6h0M119.3 373.8h0M117.6 372.6h0M113.0 374.2h0M114.2 373.6h0M125.6 381.2h0M116.2 374.0h0M124.7 377.1h0M121.6 382.1h0M115.7 379.9h0M120.9 376.4h0M117.1 375.6h0M97.8 376.6h0M128.1 382.2h0M134.5 378.4h0M123.5 375.6h0M113.7 374.6h0M120.9 381.2h0M106.7 380.9h0" stroke="#555" stroke-width="0.60" stroke-linecap="square"/>
<path d="M111.00,361.50 C112.50,359.33 117.17,360.42 120.00,360.50 C122.83,360.58 126.33,361.00 128.00,362.00 C129.67,363.00 130.00,365.00 130.00,366.50 C130.00,368.00 129.33,369.83 128.00,371.00 C126.67,372.17 124.17,372.75 122.00,373.50 C119.83,374.25 116.83,375.50 115.00,375.50 C113.17,375.50 111.67,375.83 111.00,373.50 C110.33,371.17 109.50,363.67 111.00,361.50Z" fill="#b4b4b4" stroke="#111" stroke-width="0.9"/>
<path d="M114.00,363.00 C115.17,361.67 118.00,362.42 120.00,362.50 C122.00,362.58 124.83,362.75 126.00,363.50 C127.17,364.25 127.17,365.92 127.00,367.00 C126.83,368.08 126.17,369.25 125.00,370.00 C123.83,370.75 121.67,371.08 120.00,371.50 C118.33,371.92 116.17,372.67 115.00,372.50 C113.83,372.33 113.17,372.08 113.00,370.50 C112.83,368.92 112.83,364.33 114.00,363.00Z" fill="#c8c8c8" stroke="#666" stroke-width="0.4"/>
<path d="M123.8 370.0h0M115.0 368.6h0M121.4 364.7h0M115.6 373.6h0M117.4 366.8h0M112.3 366.5h0M125.5 369.0h0M116.7 368.2h0M121.6 369.5h0M116.1 369.0h0M117.4 366.8h0M116.7 366.1h0M122.0 363.7h0M120.9 374.8h0M116.5 367.4h0M119.8 371.9h0M114.4 369.5h0M119.7 373.0h0M119.3 373.0h0M116.2 369.0h0M115.7 366.6h0M115.1 367.0h0M126.3 366.7h0M129.9 372.1h0M121.3 368.1h0M121.3 366.2h0M122.4 368.3h0M112.3 368.1h0M122.4 368.2h0M121.3 368.1h0M118.2 370.7h0M125.7 367.3h0M123.3 365.4h0M125.1 366.0h0M120.2 370.4h0M118.1 368.2h0M124.1 366.7h0M121.4 370.8h0M121.1 366.1h0M118.5 367.4h0M120.1 369.6h0M113.9 367.9h0M120.9 371.8h0M114.3 365.9h0M123.6 367.9h0M124.4 367.9h0M117.5 367.9h0M125.0 369.8h0M120.8 368.4h0M124.3 369.6h0M121.0 369.8h0M120.5 365.3h0M123.6 371.0h0M125.6 367.9h0M115.3 369.1h0M117.8 363.4h0M120.7 366.2h0M120.4 366.9h0M123.3 370.1h0M122.1 370.9h0" stroke="#888" stroke-width="0.60" stroke-linecap="square"/>
<path d="M110.9 372.8h0M99.7 384.7h0M108.4 382.6h0M107.9 383.8h0M108.6 376.5h0M110.8 371.9h0M93.9 373.0h0M108.2 382.7h0M93.9 382.7h0M110.7 371.3h0M92.5 373.5h0M98.7 361.8h0M93.9 364.2h0M99.5 385.0h0M99.9 384.7h0M111.2 365.2h0M92.3 373.1h0M110.3 366.9h0M99.8 384.3h0M106.9 383.1h0M108.6 378.1h0M93.3 382.8h0M99.4 361.1h0M92.0 374.0h0M107.9 362.5h0M108.9 377.2h0M91.9 373.1h0M92.9 372.9h0M99.6 384.7h0M110.1 365.4h0M110.0 376.7h0M109.0 362.7h0M99.3 363.1h0M100.3 361.6h0M93.4 382.8h0M99.7 360.8h0M108.5 376.9h0M110.8 370.3h0M92.0 371.8h0M98.5 360.6h0M107.2 362.4h0M109.1 377.1h0M109.2 377.3h0M92.0 372.9h0M100.0 383.4h0M110.7 372.5h0M94.3 383.1h0M108.8 376.7h0M107.9 377.2h0M108.6 384.0h0M107.5 362.3h0M111.1 366.1h0M100.8 361.6h0M111.4 365.1h0M110.8 371.2h0M100.5 361.6h0M107.8 382.6h0M108.9 382.8h0M93.3 364.6h0M93.4 373.7h0M100.5 384.4h0M109.2 377.9h0M99.0 361.7h0M98.9 360.0h0M108.2 382.6h0M93.1 363.8h0M106.0 361.0h0M100.1 384.6h0M94.2 382.7h0M92.8 365.6h0M99.1 362.1h0M100.9 384.3h0M108.2 383.0h0M107.7 361.8h0M94.5 383.3h0M99.4 385.2h0M109.1 377.2h0M93.6 364.4h0M111.3 371.0h0M98.8 361.2h0M109.3 382.8h0M99.3 384.4h0M92.6 363.6h0M91.8 373.6h0M94.2 381.8h0M93.1 364.1h0M94.4 382.8h0M100.5 384.9h0M92.7 374.2h0M109.5 378.2h0M93.6 383.0h0M106.9 361.8h0M95.0 381.5h0M106.4 363.5h0M93.2 365.4h0M99.9 384.5h0M94.2 383.0h0M99.6 361.6h0M93.1 373.0h0M93.6 373.9h0M108.1 376.6h0M100.2 360.8h0M111.4 366.3h0M110.2 366.1h0M107.1 361.2h0M108.3 382.4h0M111.2 372.4h0M99.5 361.6h0M91.9 371.4h0M99.5 384.2h0M109.0 377.4h0M109.9 377.1h0M98.5 384.5h0M111.1 366.5h0M99.2 386.8h0M110.0 371.8h0M92.7 364.6h0M98.9 360.6h0M94.6 364.7h0M99.4 384.3h0M92.2 373.7h0M99.3 384.0h0M110.8 365.3h0M111.2 372.5h0M108.4 376.2h0M93.6 381.9h0M109.9 371.9h0M108.6 361.2h0M107.1 383.0h0M109.2 377.4h0M100.1 360.9h0M109.8 372.7h0M98.6 384.9h0M111.8 372.2h0M109.8 376.6h0M100.0 383.5h0M94.9 382.5h0M109.9 365.3h0M106.7 361.2h0M93.9 373.3h0M100.0 360.8h0M92.6 372.7h0M108.2 377.2h0M99.9 383.8h0M107.8 382.1h0M107.9 382.9h0M94.9 381.6h0M92.9 373.8h0M112.1 371.1h0M107.1 362.8h0M93.5 364.1h0M99.4 360.9h0M93.5 372.2h0M106.9 362.2h0M110.5 365.6h0M111.7 364.2h0M93.7 382.2h0M110.0 365.9h0M110.4 373.1h0M106.7 361.4h0" stroke="#222" stroke-width="0.6" stroke-linecap="square"/>
<path d="M93.64,364.84 C94.75,362.97 97.55,362.20 99.76,361.78 C101.97,361.35 105.11,361.61 106.90,362.29 C108.68,362.97 109.88,364.25 110.47,365.86 C111.06,367.48 110.72,370.11 110.47,371.98 C110.22,373.85 109.36,375.29 108.94,377.08 C108.52,378.87 109.45,381.50 107.92,382.69 C106.39,383.88 101.97,384.31 99.76,384.22 C97.55,384.14 95.77,384.05 94.66,382.18 C93.55,380.31 93.30,375.89 93.13,373.00 C92.96,370.11 92.53,366.71 93.64,364.84Z" fill="#bdbdbd" stroke="#1a1a1a" stroke-width="0.9"/>
<path d="M94.60,365.80 C95.57,364.15 98.05,363.48 100.00,363.10 C101.95,362.73 104.72,362.95 106.30,363.55 C107.88,364.15 108.92,365.27 109.45,366.70 C109.98,368.12 109.68,370.45 109.45,372.10 C109.22,373.75 108.47,375.03 108.10,376.60 C107.72,378.18 108.55,380.50 107.20,381.55 C105.85,382.60 101.95,382.97 100.00,382.90 C98.05,382.82 96.47,382.75 95.50,381.10 C94.53,379.45 94.30,375.55 94.15,373.00 C94.00,370.45 93.62,367.45 94.60,365.80Z" fill="url(#cg4)" stroke="#222" stroke-width="0.5"/>
<path d="M96.04,367.24 C96.82,365.92 98.80,365.38 100.36,365.08 C101.92,364.78 104.14,364.96 105.40,365.44 C106.66,365.92 107.50,366.82 107.92,367.96 C108.34,369.10 108.10,370.96 107.92,372.28 C107.74,373.60 107.14,374.62 106.84,375.88 C106.54,377.14 107.20,379.00 106.12,379.84 C105.04,380.68 101.92,380.98 100.36,380.92 C98.80,380.86 97.54,380.80 96.76,379.48 C95.98,378.16 95.80,375.04 95.68,373.00 C95.56,370.96 95.26,368.56 96.04,367.24Z" fill="none" stroke="#555" stroke-width="0.35"/>
<path d="M97.40,368.60 C98.00,367.59 99.51,367.18 100.70,366.95 C101.89,366.72 103.59,366.86 104.55,367.23 C105.51,367.59 106.15,368.28 106.47,369.15 C106.80,370.02 106.61,371.44 106.47,372.45 C106.34,373.46 105.88,374.24 105.65,375.20 C105.42,376.16 105.92,377.58 105.10,378.23 C104.27,378.87 101.89,379.10 100.70,379.05 C99.51,379.00 98.55,378.96 97.95,377.95 C97.35,376.94 97.22,374.56 97.12,373.00 C97.03,371.44 96.80,369.61 97.40,368.60Z" fill="none" stroke="#777" stroke-width="0.3"/>
<ellipse cx="101.3" cy="368.0" rx="1.6" ry="1.8" fill="#fff"/>
<line x1="101.30" y1="370.00" x2="101.30" y2="380.00" stroke="#e0e0e0" stroke-width="0.6"/>
</g>
<rect x="21.30" y="275.30" width="52.30" height="52.00" fill="none" stroke="#444" stroke-width="0.8"/>
<rect x="42.30" y="278.30" width="27.20" height="33.10" fill="none" stroke="#3a3a3a" stroke-width="0.8"/>
<text x="56.10" y="317.95" font-size="6.7" text-anchor="middle">0,34</text>
<rect x="90.20" y="275.30" width="52.10" height="52.20" fill="none" stroke="#444" stroke-width="0.8"/>
<rect x="111.20" y="279.10" width="27.20" height="32.90" fill="none" stroke="#3a3a3a" stroke-width="0.8"/>
<text x="125.60" y="318.05" font-size="6.7" text-anchor="middle">9,03</text>
<rect x="20.40" y="351.50" width="52.30" height="52.90" fill="none" stroke="#444" stroke-width="0.8"/>
<rect x="41.20" y="355.20" width="27.80" height="33.50" fill="none" stroke="#3a3a3a" stroke-width="0.8"/>
<text x="56.00" y="394.75" font-size="6.7" text-anchor="middle">35,8</text>
<rect x="89.30" y="351.30" width="53.00" height="53.10" fill="none" stroke="#444" stroke-width="0.8"/>
<rect x="110.00" y="354.70" width="28.40" height="32.90" fill="none" stroke="#3a3a3a" stroke-width="0.8"/>
<text x="125.20" y="394.35" font-size="6.7" text-anchor="middle">24,3</text>
<text transform="translate(7.8,400.5) rotate(-90)" font-size="7" text-anchor="middle">CD8</text>
<line x1="5.50" y1="389.50" x2="5.50" y2="372.00" stroke="#231f20" stroke-width="0.7"/>
<path d="M5.5,369.8 L3.9,374.3 L7.1,374.3 Z" fill="#231f20" stroke="none" stroke-width="1"/>
<text x="6.60" y="418.47" font-size="7.64" textLength="15.30" lengthAdjust="spacingAndGlyphs">Ki67</text>
<line x1="29.60" y1="416.50" x2="49.50" y2="416.50" stroke="#231f20" stroke-width="0.7"/>
<path d="M51.2,416.6 L46.8,415 L46.8,418.2 Z" fill="#231f20" stroke="none" stroke-width="1"/>
<line x1="187.40" y1="288.10" x2="187.40" y2="397.60" stroke="#555" stroke-width="1.2"/>
<line x1="187.00" y1="397.20" x2="253.70" y2="397.20" stroke="#333" stroke-width="1"/>
<line x1="185.40" y1="397.20" x2="187.40" y2="397.20" stroke="#444" stroke-width="1"/>
<text x="183.60" y="399.65" font-size="7" text-anchor="end">0</text>
<line x1="185.40" y1="375.38" x2="187.40" y2="375.38" stroke="#444" stroke-width="1"/>
<text x="183.60" y="377.83" font-size="7" text-anchor="end">20</text>
<line x1="185.40" y1="353.56" x2="187.40" y2="353.56" stroke="#444" stroke-width="1"/>
<text x="183.60" y="356.01" font-size="7" text-anchor="end">40</text>
<line x1="185.40" y1="331.74" x2="187.40" y2="331.74" stroke="#444" stroke-width="1"/>
<text x="183.60" y="334.19" font-size="7" text-anchor="end">60</text>
<line x1="185.40" y1="309.92" x2="187.40" y2="309.92" stroke="#444" stroke-width="1"/>
<text x="183.60" y="312.37" font-size="7" text-anchor="end">80</text>
<line x1="185.40" y1="288.10" x2="187.40" y2="288.10" stroke="#444" stroke-width="1"/>
<text x="183.60" y="290.55" font-size="7" text-anchor="end">100</text>
<rect x="198.40" y="353.40" width="18.30" height="43.80" fill="#0a70b2" stroke="#1a1a1a" stroke-width="0.8"/>
<rect x="224.40" y="380.10" width="18.30" height="17.10" fill="#07a545" stroke="#1a1a1a" stroke-width="0.8"/>
<line x1="207.50" y1="353.40" x2="207.50" y2="346.50" stroke="#222" stroke-width="0.8"/>
<line x1="204.00" y1="346.50" x2="211.00" y2="346.50" stroke="#222" stroke-width="0.8"/>
<line x1="233.50" y1="380.10" x2="233.50" y2="374.90" stroke="#222" stroke-width="0.8"/>
<line x1="229.50" y1="374.90" x2="237.50" y2="374.90" stroke="#222" stroke-width="0.8"/>
<circle cx="207.70" cy="313.70" r="1.7" fill="#111"/>
<circle cx="207.70" cy="329.30" r="1.7" fill="#111"/>
<circle cx="207.70" cy="332.70" r="1.7" fill="#111"/>
<circle cx="204.30" cy="342.50" r="1.7" fill="#111"/>
<circle cx="210.90" cy="345.00" r="1.7" fill="#111"/>
<circle cx="207.70" cy="352.70" r="1.7" fill="#111"/>
<circle cx="204.30" cy="360.80" r="1.7" fill="#111"/>
<circle cx="210.90" cy="359.70" r="1.7" fill="#111"/>
<circle cx="204.30" cy="369.90" r="1.7" fill="#111"/>
<circle cx="210.90" cy="369.40" r="1.7" fill="#111"/>
<circle cx="210.90" cy="376.70" r="1.7" fill="#111"/>
<circle cx="204.30" cy="379.20" r="1.7" fill="#111"/>
<circle cx="233.50" cy="341.60" r="1.7" fill="#111"/>
<circle cx="233.50" cy="357.40" r="1.7" fill="#111"/>
<circle cx="233.50" cy="369.00" r="1.7" fill="#111"/>
<circle cx="233.50" cy="374.90" r="1.7" fill="#111"/>
<circle cx="226.90" cy="380.80" r="1.7" fill="#111"/>
<circle cx="240.30" cy="380.80" r="1.7" fill="#111"/>
<circle cx="233.50" cy="383.50" r="1.7" fill="#111"/>
<circle cx="226.90" cy="392.10" r="1.7" fill="#111"/>
<circle cx="240.30" cy="390.70" r="1.7" fill="#111"/>
<circle cx="233.50" cy="393.40" r="1.7" fill="#111"/>
<circle cx="240.30" cy="394.80" r="1.7" fill="#111"/>
<circle cx="226.90" cy="397.50" r="1.7" fill="#111"/>
<line x1="207.50" y1="397.20" x2="207.50" y2="399.70" stroke="#333" stroke-width="0.8"/>
<line x1="233.50" y1="397.20" x2="233.50" y2="399.70" stroke="#333" stroke-width="0.8"/>
<text x="210.60" y="409.47" font-size="7.06" text-anchor="middle" textLength="10.20" lengthAdjust="spacingAndGlyphs">Cis</text>
<text x="236.00" y="409.50" font-size="7.15" text-anchor="middle" textLength="18.00" lengthAdjust="spacingAndGlyphs">Trans</text>
<text x="224.00" y="289.30" font-size="6.57" text-anchor="middle" textLength="27.60" lengthAdjust="spacingAndGlyphs">p&lt;0.0001</text>
<line x1="209.30" y1="291.50" x2="240.10" y2="291.50" stroke="#222" stroke-width="0.8"/>
<text transform="translate(168.8,342.6) rotate(-90)" font-size="9.3" font-weight="bold" text-anchor="middle" textLength="87" lengthAdjust="spacingAndGlyphs">Δ of %Ki67+ of CD8+</text>
<text x="262.20" y="267.80" font-size="16.5" font-weight="bold">e</text>
<text x="316.40" y="271.73" font-size="7.5" text-anchor="middle">Medium</text>
<line x1="289.40" y1="279.40" x2="291.20" y2="279.40" stroke="#555" stroke-width="0.5"/>
<text x="288.70" y="280.38" font-size="2.8" text-anchor="end" fill="#666">10⁵</text>
<line x1="289.40" y1="292.00" x2="291.20" y2="292.00" stroke="#555" stroke-width="0.5"/>
<text x="288.70" y="292.98" font-size="2.8" text-anchor="end" fill="#666">10⁴</text>
<line x1="289.40" y1="305.65" x2="291.20" y2="305.65" stroke="#555" stroke-width="0.5"/>
<text x="288.70" y="306.63" font-size="2.8" text-anchor="end" fill="#666">10³</text>
<line x1="289.40" y1="314.05" x2="291.20" y2="314.05" stroke="#555" stroke-width="0.5"/>
<text x="288.70" y="315.03" font-size="2.8" text-anchor="end" fill="#666">0</text>
<line x1="289.40" y1="322.45" x2="291.20" y2="322.45" stroke="#555" stroke-width="0.5"/>
<text x="288.70" y="323.43" font-size="2.8" text-anchor="end" fill="#666">-10³</text>
<line x1="302.90" y1="327.70" x2="302.90" y2="329.50" stroke="#555" stroke-width="0.5"/>
<text x="302.90" y="333.18" font-size="2.8" text-anchor="middle" fill="#666">-10³</text>
<line x1="310.35" y1="327.70" x2="310.35" y2="329.50" stroke="#555" stroke-width="0.5"/>
<text x="310.35" y="333.18" font-size="2.8" text-anchor="middle" fill="#666">0</text>
<line x1="320.46" y1="327.70" x2="320.46" y2="329.50" stroke="#555" stroke-width="0.5"/>
<text x="320.46" y="333.18" font-size="2.8" text-anchor="middle" fill="#666">10³</text>
<rect x="288.00" y="312.85" width="1.60" height="2.40" fill="#111" stroke="none" stroke-width="1"/>
<rect x="309.35" y="328.30" width="2.00" height="1.40" fill="#111" stroke="none" stroke-width="1"/>
<text x="387.70" y="271.73" font-size="7.5" text-anchor="middle">αCD3 beads</text>
<line x1="360.20" y1="279.40" x2="362.00" y2="279.40" stroke="#555" stroke-width="0.5"/>
<text x="359.50" y="280.38" font-size="2.8" text-anchor="end" fill="#666">10⁵</text>
<line x1="360.20" y1="292.00" x2="362.00" y2="292.00" stroke="#555" stroke-width="0.5"/>
<text x="359.50" y="292.98" font-size="2.8" text-anchor="end" fill="#666">10⁴</text>
<line x1="360.20" y1="305.65" x2="362.00" y2="305.65" stroke="#555" stroke-width="0.5"/>
<text x="359.50" y="306.63" font-size="2.8" text-anchor="end" fill="#666">10³</text>
<line x1="360.20" y1="314.05" x2="362.00" y2="314.05" stroke="#555" stroke-width="0.5"/>
<text x="359.50" y="315.03" font-size="2.8" text-anchor="end" fill="#666">0</text>
<line x1="360.20" y1="322.45" x2="362.00" y2="322.45" stroke="#555" stroke-width="0.5"/>
<text x="359.50" y="323.43" font-size="2.8" text-anchor="end" fill="#666">-10³</text>
<line x1="373.55" y1="327.70" x2="373.55" y2="329.50" stroke="#555" stroke-width="0.5"/>
<text x="373.55" y="333.18" font-size="2.8" text-anchor="middle" fill="#666">-10³</text>
<line x1="380.90" y1="327.70" x2="380.90" y2="329.50" stroke="#555" stroke-width="0.5"/>
<text x="380.90" y="333.18" font-size="2.8" text-anchor="middle" fill="#666">0</text>
<line x1="390.88" y1="327.70" x2="390.88" y2="329.50" stroke="#555" stroke-width="0.5"/>
<text x="390.88" y="333.18" font-size="2.8" text-anchor="middle" fill="#666">10³</text>
<rect x="358.80" y="312.85" width="1.60" height="2.40" fill="#111" stroke="none" stroke-width="1"/>
<rect x="379.90" y="328.30" width="2.00" height="1.40" fill="#111" stroke="none" stroke-width="1"/>
<text x="320.00" y="348.43" font-size="7.5" text-anchor="middle">Cis beads</text>
<line x1="289.40" y1="355.68" x2="291.20" y2="355.68" stroke="#555" stroke-width="0.5"/>
<text x="288.70" y="356.66" font-size="2.8" text-anchor="end" fill="#666">10⁵</text>
<line x1="289.40" y1="368.24" x2="291.20" y2="368.24" stroke="#555" stroke-width="0.5"/>
<text x="288.70" y="369.22" font-size="2.8" text-anchor="end" fill="#666">10⁴</text>
<line x1="289.40" y1="381.83" x2="291.20" y2="381.83" stroke="#555" stroke-width="0.5"/>
<text x="288.70" y="382.81" font-size="2.8" text-anchor="end" fill="#666">10³</text>
<line x1="289.40" y1="390.20" x2="291.20" y2="390.20" stroke="#555" stroke-width="0.5"/>
<text x="288.70" y="391.18" font-size="2.8" text-anchor="end" fill="#666">0</text>
<line x1="289.40" y1="398.57" x2="291.20" y2="398.57" stroke="#555" stroke-width="0.5"/>
<text x="288.70" y="399.55" font-size="2.8" text-anchor="end" fill="#666">-10³</text>
<line x1="302.82" y1="403.80" x2="302.82" y2="405.60" stroke="#555" stroke-width="0.5"/>
<text x="302.82" y="409.28" font-size="2.8" text-anchor="middle" fill="#666">-10³</text>
<line x1="310.21" y1="403.80" x2="310.21" y2="405.60" stroke="#555" stroke-width="0.5"/>
<text x="310.21" y="409.28" font-size="2.8" text-anchor="middle" fill="#666">0</text>
<line x1="320.24" y1="403.80" x2="320.24" y2="405.60" stroke="#555" stroke-width="0.5"/>
<text x="320.24" y="409.28" font-size="2.8" text-anchor="middle" fill="#666">10³</text>
<rect x="288.00" y="389.00" width="1.60" height="2.40" fill="#111" stroke="none" stroke-width="1"/>
<rect x="309.21" y="404.40" width="2.00" height="1.40" fill="#111" stroke="none" stroke-width="1"/>
<text x="387.30" y="348.43" font-size="7.5" text-anchor="middle">Trans beads</text>
<line x1="360.20" y1="355.68" x2="362.00" y2="355.68" stroke="#555" stroke-width="0.5"/>
<text x="359.50" y="356.66" font-size="2.8" text-anchor="end" fill="#666">10⁵</text>
<line x1="360.20" y1="368.24" x2="362.00" y2="368.24" stroke="#555" stroke-width="0.5"/>
<text x="359.50" y="369.22" font-size="2.8" text-anchor="end" fill="#666">10⁴</text>
<line x1="360.20" y1="381.83" x2="362.00" y2="381.83" stroke="#555" stroke-width="0.5"/>
<text x="359.50" y="382.81" font-size="2.8" text-anchor="end" fill="#666">10³</text>
<line x1="360.20" y1="390.20" x2="362.00" y2="390.20" stroke="#555" stroke-width="0.5"/>
<text x="359.50" y="391.18" font-size="2.8" text-anchor="end" fill="#666">0</text>
<line x1="360.20" y1="398.57" x2="362.00" y2="398.57" stroke="#555" stroke-width="0.5"/>
<text x="359.50" y="399.55" font-size="2.8" text-anchor="end" fill="#666">-10³</text>
<line x1="373.55" y1="403.80" x2="373.55" y2="405.60" stroke="#555" stroke-width="0.5"/>
<text x="373.55" y="409.28" font-size="2.8" text-anchor="middle" fill="#666">-10³</text>
<line x1="380.90" y1="403.80" x2="380.90" y2="405.60" stroke="#555" stroke-width="0.5"/>
<text x="380.90" y="409.28" font-size="2.8" text-anchor="middle" fill="#666">0</text>
<line x1="390.88" y1="403.80" x2="390.88" y2="405.60" stroke="#555" stroke-width="0.5"/>
<text x="390.88" y="409.28" font-size="2.8" text-anchor="middle" fill="#666">10³</text>
<rect x="358.80" y="389.00" width="1.60" height="2.40" fill="#111" stroke="none" stroke-width="1"/>
<rect x="379.90" y="404.40" width="2.00" height="1.40" fill="#111" stroke="none" stroke-width="1"/>
<g clip-path="url(#fc5)">
<path d="M323.3 282.6h0M330.7 279.1h0M327.4 279.2h0M332.4 286.6h0M333.4 284.5h0M329.6 285.1h0M325.0 286.4h0M323.0 284.9h0M330.8 286.2h0M326.4 292.6h0M328.2 284.2h0M328.6 284.4h0M326.5 284.9h0M336.1 286.1h0M328.7 288.0h0M336.1 285.3h0M325.5 293.4h0M322.2 284.9h0M330.7 292.9h0M324.2 278.7h0M330.6 284.4h0M326.5 287.4h0M328.9 286.9h0M326.3 289.9h0M334.0 286.1h0M326.2 288.2h0M329.9 282.9h0M326.2 289.1h0M327.6 285.0h0M328.8 285.9h0M328.0 280.2h0M335.0 286.6h0M324.5 288.9h0M329.2 286.1h0M332.2 292.8h0M330.2 290.8h0M336.6 282.9h0M325.9 288.3h0M321.2 285.2h0M333.2 289.1h0M330.3 280.3h0M337.4 287.7h0M331.1 287.5h0M321.1 281.7h0M323.1 291.8h0M324.7 285.3h0M327.0 287.7h0M330.0 286.8h0M323.0 276.6h0M328.7 286.8h0" stroke="#5656d4" stroke-width="0.70" stroke-linecap="square"/>
<path d="M339.2 299.4h0M334.4 302.5h0M332.0 293.8h0M333.4 301.7h0M341.4 304.6h0M339.0 301.4h0M336.7 297.3h0M335.3 285.4h0M332.9 292.3h0M338.2 304.0h0M339.0 309.3h0M335.2 306.3h0M341.1 299.9h0M338.8 299.0h0M331.8 300.7h0M333.9 300.7h0M334.8 301.9h0M330.4 312.5h0M339.5 297.9h0M333.6 300.0h0M337.8 302.5h0M337.0 288.2h0M333.1 308.1h0M336.6 290.9h0M333.7 291.3h0M333.3 307.1h0M335.4 306.8h0M336.5 290.9h0M334.3 313.9h0M334.0 293.6h0M339.3 300.5h0M336.0 309.0h0M331.3 302.6h0M333.2 291.4h0M333.8 307.0h0M335.6 288.8h0M333.1 309.3h0M338.7 293.3h0M342.4 297.8h0M332.8 299.2h0M338.5 309.9h0M338.7 297.4h0M334.5 291.1h0M335.8 296.3h0M336.7 292.2h0M334.6 294.6h0M332.8 292.7h0M333.3 292.7h0M337.5 300.6h0M332.5 303.1h0M336.8 309.0h0M335.5 298.7h0M334.2 300.8h0M337.3 301.1h0M335.3 303.5h0M336.2 301.5h0M333.5 301.3h0M333.3 294.8h0M336.4 312.9h0M338.7 300.0h0M335.5 306.1h0M339.7 307.5h0M335.5 301.2h0M335.1 298.2h0M333.7 298.5h0M330.3 292.6h0M337.1 294.3h0M337.4 292.1h0M335.0 302.4h0M333.2 295.6h0M342.6 295.8h0M334.1 296.5h0M336.1 299.8h0M338.6 304.9h0M334.9 297.8h0M332.2 290.8h0M334.0 304.5h0M336.3 304.9h0M338.5 299.0h0M341.6 296.8h0M334.3 297.4h0M339.0 299.2h0M334.0 302.7h0M339.0 299.3h0M335.3 306.7h0M338.6 305.8h0M334.0 301.7h0M337.0 289.0h0M339.2 300.6h0M335.1 313.9h0M336.4 295.6h0M335.8 303.5h0M338.2 299.6h0M333.7 295.7h0M333.8 293.6h0M335.9 297.0h0M336.1 294.9h0M333.7 298.9h0M335.1 307.1h0M333.6 301.3h0M335.9 292.0h0M337.9 301.0h0M330.4 303.7h0M338.5 295.1h0M340.5 301.0h0M332.9 303.4h0M335.0 291.8h0M330.3 301.5h0M334.0 303.9h0M337.0 296.8h0M334.6 310.8h0M340.5 304.6h0M335.1 294.0h0M335.0 310.2h0M337.2 298.2h0M332.7 301.0h0M333.7 300.1h0M338.0 306.5h0M336.4 297.9h0M336.6 311.0h0M337.0 291.4h0M340.1 301.5h0M345.2 297.1h0M335.8 298.2h0M337.0 296.5h0M332.1 288.3h0M335.7 296.9h0M334.5 312.9h0M338.1 306.7h0M334.7 301.8h0M335.4 298.8h0M338.0 303.7h0M336.8 300.9h0M332.2 295.5h0M337.0 297.8h0M333.9 302.2h0M333.6 295.9h0M338.3 297.8h0M339.8 303.2h0M338.1 306.9h0M330.3 299.5h0M332.6 297.2h0M335.7 307.6h0M335.9 310.0h0M334.6 299.7h0M336.2 305.8h0M335.9 296.2h0M335.1 291.5h0M339.3 304.5h0M337.1 301.7h0" stroke="#5656d4" stroke-width="0.70" stroke-linecap="square"/>
<path d="M333.2 285.8h0M337.5 284.6h0M332.6 291.8h0M339.7 287.9h0M336.6 287.6h0M339.3 285.7h0M335.3 288.5h0M339.4 286.2h0M335.7 285.5h0M333.0 285.0h0M335.3 289.7h0M332.9 285.2h0M333.8 288.1h0M337.1 283.2h0M336.1 284.0h0M337.2 284.1h0M331.7 284.8h0M334.8 284.0h0M335.6 287.4h0M335.3 287.8h0M337.6 284.8h0M335.0 286.9h0M328.8 288.2h0M332.7 284.8h0M333.7 287.3h0M336.0 288.5h0M332.9 289.1h0M336.3 285.8h0M334.9 289.4h0M336.3 289.1h0M335.3 290.4h0M341.7 288.4h0M330.2 292.2h0M333.3 282.8h0M327.9 288.3h0M338.3 290.0h0M333.9 291.3h0M334.8 285.2h0M335.2 287.6h0M335.1 288.2h0M328.4 291.7h0M333.3 289.0h0M332.6 287.5h0M334.5 282.3h0M336.2 288.9h0M331.7 280.7h0M333.1 284.5h0M335.3 286.9h0M339.8 288.9h0M334.2 287.5h0M326.4 284.3h0M332.2 286.7h0M336.0 287.6h0M337.8 284.9h0M335.9 286.6h0M335.0 288.0h0M334.2 287.6h0M334.9 290.1h0M334.7 287.9h0M342.8 288.9h0" stroke="#4646d2" stroke-width="0.70" stroke-linecap="square"/>
<path d="M335.9 288.9h0M333.2 288.3h0M336.3 287.8h0M336.8 288.4h0M337.1 285.8h0M335.8 286.0h0M337.2 287.2h0M332.7 287.2h0M333.2 288.8h0M334.4 283.1h0M334.3 288.8h0M335.6 285.9h0M336.2 288.0h0M337.6 288.6h0M335.7 285.6h0M335.5 287.5h0M335.0 287.8h0M332.9 288.0h0M335.0 287.6h0M334.8 286.5h0" stroke="#3050e0" stroke-width="0.70" stroke-linecap="square"/>
<ellipse cx="335.2" cy="285.5" rx="4.50" ry="4.20" fill="#3a7ad8" opacity="0.75"/>
<ellipse cx="335.2" cy="285.5" rx="3.45" ry="3.22" fill="#1fb0a0"/>
<ellipse cx="335.2" cy="285.5" rx="2.40" ry="2.24" fill="#50c040"/>
<ellipse cx="335.2" cy="285.5" rx="1.50" ry="1.40" fill="#f0d020"/>
<ellipse cx="335.2" cy="285.5" rx="0.75" ry="0.70" fill="#e83020"/>
</g>
<g clip-path="url(#fc6)">
<path d="M397.5 288.2h0M394.1 286.9h0M391.4 287.2h0M396.1 282.4h0M402.9 283.5h0M396.5 282.3h0M385.7 287.8h0M387.6 280.2h0M394.7 281.7h0M394.8 291.1h0M393.7 287.0h0M399.3 286.7h0M395.3 290.2h0M395.5 287.0h0M396.7 282.4h0M397.9 286.2h0M399.9 287.9h0M405.3 280.7h0M392.7 284.7h0M390.9 287.1h0M395.5 286.4h0M386.3 283.3h0M395.6 284.8h0M392.4 285.7h0M394.4 283.1h0M405.9 284.1h0M399.9 287.7h0M401.7 284.4h0M390.1 287.2h0M397.5 279.5h0M380.5 284.5h0M393.7 285.3h0M398.5 283.3h0M411.7 288.5h0M403.7 286.8h0M383.7 286.7h0M392.7 287.2h0M395.3 287.8h0M390.8 285.0h0M396.0 283.9h0M393.3 287.7h0M407.4 285.4h0M400.9 282.9h0M393.3 286.9h0M399.4 283.2h0M399.6 286.4h0M403.8 288.6h0M399.2 284.9h0M397.5 283.6h0M391.1 280.9h0M388.3 282.5h0M395.4 286.3h0M388.0 285.7h0M398.4 288.5h0M395.4 286.6h0M393.8 288.5h0M386.8 286.7h0M382.3 290.7h0M401.4 280.2h0M392.9 282.1h0M385.5 284.9h0M390.8 288.9h0M392.9 282.9h0M395.5 287.1h0M400.8 287.4h0M387.1 283.7h0M394.9 283.7h0M400.3 285.0h0M395.5 284.9h0M396.2 281.8h0M408.3 284.4h0M391.6 281.1h0M395.4 282.2h0M397.9 289.3h0M399.5 284.7h0M403.4 285.4h0M395.6 286.1h0M393.1 287.1h0M388.6 281.1h0M403.0 283.9h0M393.8 286.9h0M393.1 282.7h0M394.7 283.4h0M399.1 284.7h0M394.4 288.1h0M386.8 281.9h0M400.2 289.4h0M396.4 284.0h0M403.2 287.4h0M402.0 281.0h0M395.1 283.1h0M389.4 287.6h0M400.2 284.7h0M394.4 289.7h0M399.8 285.6h0M398.9 286.3h0M388.5 284.5h0M397.6 287.7h0M388.8 283.7h0M392.4 281.8h0M402.4 287.2h0M403.6 279.9h0M391.1 291.0h0M387.6 280.9h0M397.2 290.3h0M399.7 283.3h0M399.2 287.1h0M397.5 287.0h0M400.8 289.2h0M404.0 288.9h0M395.0 280.9h0M399.1 281.8h0M409.4 282.8h0M385.0 280.9h0M398.2 286.8h0M399.7 286.8h0M391.3 288.2h0M391.8 281.8h0M401.3 287.4h0M390.4 285.3h0M402.0 288.5h0M389.6 289.0h0M380.6 286.2h0M398.2 285.6h0M396.6 281.5h0M395.1 287.3h0M390.4 286.3h0M394.9 279.8h0M392.3 287.6h0M386.7 286.0h0M397.9 282.4h0M394.5 288.4h0M400.2 283.2h0M402.0 286.9h0M396.7 290.1h0M400.3 287.0h0M401.6 287.8h0M403.5 285.7h0M385.4 290.3h0M400.7 287.4h0M396.2 285.7h0M396.6 283.4h0M400.5 286.2h0M390.3 286.7h0M394.0 285.9h0M399.2 293.4h0M389.7 287.1h0M400.2 287.2h0M404.8 284.8h0M394.0 286.0h0M387.9 289.0h0M388.6 287.5h0M403.1 283.7h0M394.9 285.4h0M406.2 286.7h0M385.6 289.0h0M402.1 280.5h0M379.8 293.2h0M396.5 280.1h0M402.2 289.9h0M381.8 289.5h0M400.2 285.9h0M391.8 287.1h0M391.2 286.4h0M394.5 284.8h0M399.2 288.7h0M401.3 287.2h0M406.0 282.5h0M396.4 286.5h0M403.2 279.7h0" stroke="#5656d4" stroke-width="0.70" stroke-linecap="square"/>
<path d="M393.8 292.4h0M396.9 305.2h0M397.2 293.5h0M398.1 298.9h0M395.1 302.3h0M390.0 300.2h0M399.5 298.9h0M403.7 292.8h0M398.0 295.3h0M393.0 290.2h0M392.1 298.2h0M384.7 287.6h0M396.4 300.5h0M395.5 300.3h0M395.7 291.3h0M388.2 294.9h0M404.6 294.4h0M390.8 296.9h0M389.2 288.3h0M401.5 296.0h0M400.8 295.2h0M395.4 294.9h0M394.4 299.2h0M389.6 284.6h0M391.8 298.5h0M393.3 282.5h0M410.1 289.4h0M395.0 296.9h0M397.8 293.2h0M388.3 296.6h0M391.1 293.1h0M399.8 292.1h0M387.1 291.0h0M399.0 297.5h0M389.5 294.2h0M397.5 299.3h0M398.0 294.8h0M394.5 296.3h0M399.8 293.2h0M394.6 302.6h0M395.8 290.1h0M399.3 287.8h0M390.6 298.5h0M396.1 297.9h0M399.8 290.2h0M398.5 292.1h0M397.1 295.2h0M395.6 287.6h0M397.5 294.1h0M398.6 288.8h0M397.0 293.0h0M393.9 292.7h0M394.8 287.2h0M393.3 291.7h0M398.3 293.2h0M403.0 297.0h0M397.6 295.0h0M389.0 295.8h0M402.2 289.0h0M402.5 297.0h0" stroke="#5656d4" stroke-width="0.70" stroke-linecap="square"/>
<path d="M407.3 296.5h0M406.6 294.4h0M406.5 299.3h0M406.7 291.8h0M409.1 295.1h0M407.6 302.5h0M405.9 313.5h0M406.8 301.5h0M405.8 300.9h0M403.0 302.8h0M405.5 296.0h0M408.6 304.3h0M405.3 293.0h0M401.0 293.1h0M407.9 302.7h0M403.0 299.3h0M409.4 294.5h0M405.0 293.7h0M407.6 287.9h0M406.1 301.8h0M406.3 304.6h0M408.2 296.0h0M403.7 292.8h0M407.8 298.2h0M406.8 293.6h0M409.7 304.1h0M408.6 292.4h0M413.6 303.9h0M403.5 304.7h0M406.1 294.4h0M404.4 301.9h0M407.3 300.2h0M405.9 293.0h0M407.2 297.4h0M405.9 302.6h0M411.1 295.3h0M409.1 294.7h0M408.8 302.8h0M406.6 300.4h0M404.4 297.0h0M409.1 303.5h0M412.7 293.1h0M405.2 299.6h0M406.7 296.1h0M405.4 298.4h0M410.0 298.4h0M404.4 300.8h0M399.4 293.9h0M404.8 300.8h0M400.3 297.8h0M403.6 304.8h0M408.7 296.4h0M407.8 292.2h0M407.1 300.5h0M409.4 296.5h0M400.6 303.7h0M403.6 295.8h0M405.5 308.7h0M406.4 305.8h0M406.7 290.8h0M407.8 302.0h0M405.0 289.9h0M414.3 311.5h0M407.6 301.7h0M409.1 302.5h0M402.5 290.9h0M408.8 306.9h0M409.4 303.9h0M406.5 304.6h0M410.7 302.1h0M409.9 306.1h0M404.6 305.9h0M404.4 293.7h0M410.9 289.4h0M406.0 304.3h0M407.6 296.8h0M404.0 302.0h0M408.0 298.5h0M403.9 290.7h0M406.5 298.7h0M408.8 297.2h0M409.0 292.0h0M401.8 304.5h0M405.4 294.1h0M406.1 291.9h0M405.6 291.0h0M407.0 295.6h0M406.4 299.0h0M407.7 289.0h0M406.9 297.5h0M403.4 297.5h0M407.9 301.8h0M411.9 297.1h0M406.9 310.2h0M404.9 294.2h0M405.3 295.6h0M406.4 299.8h0M404.5 292.4h0M406.4 291.9h0M404.3 301.0h0M406.3 293.2h0M402.6 293.2h0M402.5 302.1h0M408.5 300.8h0M407.4 296.1h0M406.9 299.4h0M406.6 296.2h0M403.6 300.7h0M407.5 292.5h0M405.9 298.8h0M407.8 289.2h0M402.7 291.0h0M403.2 292.7h0M408.8 292.3h0M412.3 300.6h0M408.4 298.7h0M408.8 301.2h0M408.7 302.4h0M408.2 301.2h0M409.5 299.1h0M405.1 308.2h0M405.2 301.3h0M412.2 295.3h0M405.8 295.1h0M404.0 302.8h0M406.0 299.8h0M401.9 301.8h0M404.6 287.8h0M404.6 289.7h0M410.8 289.3h0M407.3 293.0h0M404.3 291.6h0M409.8 292.6h0M404.8 300.4h0M405.5 303.0h0M404.5 289.6h0M407.7 305.9h0M407.9 294.2h0M409.7 303.6h0M405.5 301.5h0M406.4 299.7h0M408.2 304.1h0M406.7 299.4h0M399.8 294.3h0M407.8 294.4h0M407.5 297.9h0M406.7 299.6h0M410.0 301.9h0M406.6 292.2h0M407.5 292.8h0M409.8 295.0h0M404.8 298.2h0M403.8 301.9h0M407.4 295.1h0M405.1 309.6h0M409.6 302.2h0M407.3 307.7h0M405.5 297.5h0M406.1 292.9h0M404.1 309.7h0M406.9 293.9h0M405.9 296.2h0M405.3 298.7h0M402.6 288.7h0M406.0 297.7h0M403.4 298.4h0M405.0 300.2h0M406.0 305.5h0M410.3 302.9h0M406.6 304.0h0" stroke="#5656d4" stroke-width="0.70" stroke-linecap="square"/>
<path d="M407.6 289.8h0M407.8 286.6h0M407.8 290.1h0M406.7 287.4h0M404.4 290.3h0M404.1 284.0h0M410.4 292.6h0M403.3 293.4h0M399.7 290.4h0M407.5 289.0h0M405.0 291.1h0M407.0 283.7h0M403.5 291.9h0M407.7 283.7h0M401.3 289.8h0M403.2 285.3h0M404.1 288.9h0M399.8 291.1h0M404.5 291.6h0M402.3 284.8h0M407.0 291.9h0M405.4 286.8h0M409.4 292.2h0M406.4 287.2h0M409.2 290.7h0M404.6 293.7h0M408.7 288.9h0M406.9 291.1h0M404.3 283.5h0M409.0 281.9h0M401.2 282.7h0M407.0 292.1h0M403.7 293.1h0M410.3 293.4h0M401.9 293.1h0M412.2 284.7h0M400.9 293.0h0M407.1 288.0h0M405.4 281.6h0M403.2 288.8h0M406.9 291.7h0M408.3 286.3h0M405.4 293.6h0M401.7 290.1h0M403.1 288.9h0M410.9 289.6h0M404.3 285.5h0M401.5 288.0h0M399.1 287.8h0M406.0 284.6h0M403.3 292.7h0M409.2 296.0h0M408.9 289.3h0M405.0 292.8h0M407.6 288.8h0M410.8 287.5h0M406.1 292.3h0M407.0 288.4h0M408.6 298.8h0M404.6 290.8h0" stroke="#4646d2" stroke-width="0.70" stroke-linecap="square"/>
<path d="M406.3 288.5h0M408.5 287.9h0M408.5 285.8h0M405.8 286.2h0M406.2 289.7h0M406.5 288.6h0M405.1 285.3h0M407.0 288.1h0M407.6 284.2h0M405.1 284.1h0M407.5 286.4h0M403.8 290.1h0M405.4 288.6h0M405.4 290.6h0M406.0 288.7h0M405.5 290.3h0M407.5 287.3h0M407.0 284.6h0M404.2 286.8h0M404.3 289.3h0" stroke="#3050e0" stroke-width="0.70" stroke-linecap="square"/>
<ellipse cx="405.3" cy="285.3" rx="4.80" ry="4.50" fill="#3a7ad8" opacity="0.75"/>
<ellipse cx="405.3" cy="285.3" rx="3.68" ry="3.45" fill="#1fb0a0"/>
<ellipse cx="405.3" cy="285.3" rx="2.56" ry="2.40" fill="#50c040"/>
<ellipse cx="405.3" cy="285.3" rx="1.60" ry="1.50" fill="#f0d020"/>
<ellipse cx="405.3" cy="285.3" rx="0.80" ry="0.75" fill="#e83020"/>
</g>
<g clip-path="url(#fc7)">
<path d="M316.9 353.3h0M327.5 355.0h0M326.6 357.3h0M321.7 356.1h0M331.9 357.1h0M326.6 358.7h0M321.2 354.2h0M323.8 361.0h0M330.3 362.4h0M332.9 359.3h0M322.8 353.1h0M311.9 357.4h0M318.6 354.2h0M330.0 357.8h0M317.4 357.7h0M335.5 359.3h0M321.5 359.3h0M312.8 356.3h0M323.1 360.0h0M317.9 354.8h0M323.8 358.9h0M316.7 357.6h0M323.7 355.9h0M317.5 358.1h0M327.1 358.1h0M327.3 356.8h0M320.2 357.0h0M331.4 357.4h0M329.7 359.1h0M328.4 356.5h0M319.6 360.1h0M325.0 356.6h0M326.8 359.0h0M332.0 355.3h0M325.6 359.9h0M322.0 357.1h0M320.4 353.5h0M317.4 357.4h0M328.3 350.8h0M324.4 356.5h0M315.7 356.9h0M320.8 360.3h0M319.5 359.6h0M318.1 354.6h0M335.8 355.2h0M323.2 353.2h0M327.2 360.4h0M324.2 356.4h0M326.1 355.2h0M317.5 357.2h0M323.9 352.8h0M309.7 358.2h0M317.5 358.1h0M332.2 356.9h0M322.1 350.9h0M336.5 359.2h0M321.0 354.5h0M329.4 352.2h0M330.9 359.3h0M317.9 354.4h0M338.2 355.8h0M327.2 356.2h0M312.1 359.5h0M337.1 355.6h0M320.0 360.7h0M315.8 356.3h0M316.9 353.2h0M321.9 350.5h0M317.8 357.1h0M321.1 354.3h0M342.9 358.9h0M322.6 359.7h0M330.4 357.4h0M331.1 356.1h0M322.2 361.4h0M326.6 360.7h0M312.4 354.8h0M319.8 357.3h0M325.6 359.4h0M329.5 357.0h0M329.6 358.7h0M327.9 351.1h0M322.8 358.5h0M323.4 360.4h0M322.5 357.2h0M320.5 356.7h0M333.6 360.4h0M331.9 358.7h0M326.9 353.9h0M330.3 355.4h0M328.0 356.8h0M331.8 355.4h0M331.4 357.0h0M337.1 356.7h0M325.0 352.5h0M332.0 357.1h0M311.0 358.2h0M329.3 356.2h0M334.9 356.7h0M325.0 358.0h0M318.4 358.3h0M320.2 357.6h0M333.5 356.1h0M321.7 361.1h0M326.3 359.6h0M330.1 358.1h0M335.8 356.9h0M315.6 356.4h0M322.0 354.3h0M323.4 358.0h0M329.5 357.2h0M325.2 357.2h0M323.1 355.0h0M326.6 359.2h0M321.2 357.1h0M330.8 354.7h0M328.7 357.4h0M333.1 354.9h0M323.2 360.8h0M340.1 358.5h0M335.5 355.6h0M333.0 357.8h0M330.9 354.1h0M327.3 358.8h0M333.8 358.2h0M329.2 359.5h0M337.9 353.7h0M313.8 357.2h0M337.3 361.5h0M331.3 354.9h0M330.4 355.6h0M332.1 356.7h0M337.9 354.8h0M336.3 355.4h0M331.1 357.9h0M317.4 352.5h0M325.2 356.4h0M322.3 358.9h0M328.4 358.6h0M319.3 356.8h0M325.2 359.6h0M334.9 355.9h0M326.2 351.2h0M340.2 358.0h0M329.8 357.9h0M325.2 352.8h0M320.0 355.1h0M324.7 354.4h0M327.7 358.7h0M327.5 357.4h0M342.4 355.2h0M321.8 359.1h0M323.8 361.3h0M321.7 357.1h0M338.0 353.2h0M333.4 357.8h0M327.8 360.5h0M322.3 358.6h0M322.9 360.2h0M317.9 356.9h0M322.7 354.4h0M333.1 356.1h0M330.2 351.4h0M319.3 354.7h0M328.7 353.2h0M328.5 359.4h0M326.8 357.4h0M323.6 354.9h0M326.0 357.6h0M336.3 357.5h0M321.3 359.1h0M319.1 352.1h0M324.5 355.3h0M330.4 356.9h0M317.2 355.3h0M322.6 362.1h0M317.5 354.5h0M334.5 360.6h0M323.7 360.4h0M325.5 354.8h0M325.4 359.2h0M336.2 356.5h0M317.2 357.6h0M323.0 355.4h0M329.0 357.6h0M317.8 355.3h0M335.7 356.5h0M338.4 351.1h0M318.7 357.1h0M319.4 357.4h0M326.6 353.7h0M338.5 361.3h0M314.5 356.3h0M317.1 356.0h0M322.9 356.4h0M333.7 360.0h0M323.8 358.1h0M330.6 353.2h0M326.6 354.5h0M334.0 360.1h0" stroke="#5656d4" stroke-width="0.70" stroke-linecap="square"/>
<path d="M329.9 376.7h0M326.4 363.5h0M336.0 368.1h0M330.0 360.3h0M332.3 367.6h0M327.2 361.6h0M323.5 365.5h0M328.9 375.5h0M317.7 359.8h0M322.4 363.7h0M323.1 361.1h0M324.0 370.6h0M325.6 362.6h0M331.6 368.9h0M322.2 375.1h0M324.1 362.2h0M330.2 363.1h0M322.1 376.1h0M325.3 362.3h0M329.1 367.1h0M316.4 365.3h0M330.8 365.3h0M330.6 361.1h0M332.9 365.9h0M323.6 360.6h0M333.5 367.7h0M325.6 370.0h0M327.1 365.9h0M330.0 365.3h0M333.4 381.7h0M317.9 368.1h0M325.5 371.7h0M316.4 380.6h0M332.6 380.2h0M334.7 361.9h0M327.0 377.7h0M334.7 363.5h0M329.5 376.1h0M335.7 365.8h0M330.4 371.3h0M326.7 366.6h0M333.8 368.0h0M327.7 375.0h0M334.9 371.4h0M325.6 363.3h0M321.6 364.4h0M329.9 360.4h0M323.0 362.1h0M329.2 365.6h0M337.1 375.9h0M328.4 367.3h0M334.5 362.9h0M333.8 360.7h0M325.9 370.1h0M328.9 358.6h0M323.3 368.9h0M318.8 378.6h0M324.0 368.9h0M344.5 366.6h0M329.8 371.6h0M327.2 362.1h0M319.0 369.5h0M326.8 376.0h0M329.2 372.1h0M321.9 366.2h0M330.6 365.9h0M332.0 365.7h0M326.4 370.4h0M321.2 383.4h0M320.6 376.7h0M337.2 366.6h0M330.6 373.8h0M330.3 371.9h0M326.2 371.1h0M324.9 361.4h0M326.8 372.4h0M329.9 370.3h0M325.8 368.9h0M323.4 367.3h0M328.7 363.3h0M336.9 356.6h0M331.9 366.2h0M334.1 365.1h0M333.0 363.6h0M323.5 366.8h0M328.3 362.3h0M335.0 361.7h0M326.6 368.7h0M327.3 374.2h0M322.6 373.8h0M334.7 368.2h0M339.6 358.7h0M324.6 359.5h0M309.8 354.3h0M329.7 361.5h0M313.8 368.4h0M320.3 365.4h0M324.9 376.3h0M313.7 369.0h0M348.0 368.0h0M329.7 367.5h0M332.9 370.4h0M331.6 361.2h0M327.9 370.8h0M328.0 371.1h0M334.1 375.8h0M329.3 371.4h0M325.7 365.8h0M332.3 360.5h0M334.9 361.3h0M327.4 363.3h0M322.8 370.7h0M317.7 376.3h0M318.1 372.2h0M326.3 366.2h0M329.9 375.6h0M329.1 363.8h0M328.0 373.8h0M321.9 369.6h0M335.3 364.3h0M327.0 373.4h0M324.5 367.8h0M326.3 369.4h0M321.3 358.0h0M334.5 363.2h0M322.2 373.1h0M324.5 366.7h0M321.2 366.2h0M330.1 374.1h0M332.4 360.6h0M325.9 371.9h0M322.8 362.4h0M326.0 374.5h0M321.0 372.7h0M332.2 364.0h0M320.5 366.2h0M325.8 364.1h0M328.3 381.6h0M333.5 375.2h0M327.6 375.0h0M323.8 369.3h0M334.7 381.5h0M331.2 368.8h0M327.6 362.2h0M331.5 377.8h0M332.1 367.5h0M326.4 362.2h0M336.1 367.9h0M335.0 362.6h0M332.4 372.8h0M327.0 364.7h0M343.7 377.7h0M335.7 364.0h0M336.6 371.6h0M338.5 367.3h0M326.6 361.7h0M318.8 357.9h0M325.6 368.0h0M337.1 379.7h0M324.5 354.4h0M329.7 370.3h0M325.4 362.2h0M323.8 369.0h0M328.9 357.6h0M327.0 361.7h0M322.0 368.3h0M322.8 369.1h0M312.9 371.0h0M329.0 364.9h0M322.7 358.2h0M320.9 378.4h0M330.1 367.2h0M323.9 363.8h0M320.6 369.6h0M333.4 361.5h0M331.5 365.1h0M329.7 362.3h0M332.5 377.9h0M324.2 366.0h0M333.5 363.7h0M320.0 352.5h0M324.5 374.7h0M323.3 366.6h0M312.8 364.7h0M326.5 363.5h0M324.6 360.4h0M321.9 374.6h0M320.6 375.4h0M319.5 375.2h0M326.9 371.5h0M326.5 370.7h0M342.0 354.0h0M324.2 370.2h0M336.6 360.1h0M328.2 373.1h0M324.8 368.1h0M329.5 373.9h0M330.5 370.3h0M324.0 364.9h0M341.2 360.2h0M325.7 363.8h0M328.3 362.6h0M332.3 363.4h0M324.4 358.7h0M325.1 358.4h0M326.1 370.9h0M317.7 379.1h0M332.8 369.1h0M325.6 374.0h0M330.5 365.3h0M328.9 368.7h0M322.8 376.2h0M319.7 370.5h0M322.3 367.5h0M326.6 369.0h0M337.3 365.1h0M331.3 370.3h0M329.5 361.0h0M327.9 358.0h0M334.8 376.8h0" stroke="#5656d4" stroke-width="0.70" stroke-linecap="square"/>
<path d="M336.5 376.4h0M335.9 361.1h0M335.1 379.1h0M335.8 367.6h0M327.8 379.9h0M340.6 384.3h0M343.2 358.7h0M336.1 377.3h0M334.4 374.5h0M339.2 369.1h0M337.8 366.7h0M329.0 373.1h0M337.4 376.3h0M338.3 366.2h0M337.8 352.2h0M336.5 364.2h0M336.0 365.0h0M336.5 378.7h0M339.0 369.4h0M339.9 374.9h0M339.9 372.6h0M332.9 373.4h0M333.4 366.4h0M330.0 374.0h0M339.7 365.6h0M335.3 362.8h0M337.1 380.1h0M335.8 377.4h0M337.9 371.5h0M338.1 361.7h0M335.5 373.8h0M337.8 381.4h0M335.3 367.1h0M334.6 370.7h0M333.3 363.5h0M336.7 364.8h0M335.8 372.8h0M335.7 379.6h0M337.0 374.1h0M340.1 370.4h0M332.0 369.2h0M338.7 366.2h0M333.5 375.9h0M342.8 370.0h0M339.0 382.8h0M334.4 368.3h0M335.2 368.1h0M335.9 364.7h0M335.2 371.9h0M341.7 363.7h0M336.2 367.6h0M335.8 369.8h0M333.5 371.3h0M333.7 374.0h0M338.7 376.0h0M336.1 377.0h0M335.3 375.9h0M343.5 375.4h0M341.6 377.7h0M334.8 374.6h0M333.0 376.3h0M339.3 375.8h0M338.4 373.3h0M334.7 360.8h0M337.3 379.0h0M338.3 371.2h0M337.6 376.3h0M337.7 368.5h0M332.7 359.8h0M334.7 370.0h0M333.5 373.7h0M332.2 374.2h0M340.2 371.5h0M330.9 372.4h0M334.2 372.8h0M334.9 368.5h0M336.7 379.3h0M335.3 373.2h0M331.4 385.7h0M333.3 372.6h0M331.8 375.7h0M333.1 372.9h0M334.0 370.5h0M334.8 366.8h0M335.3 367.2h0M334.8 369.7h0M332.8 373.7h0M337.4 373.3h0M331.4 375.7h0M338.0 361.4h0M338.5 357.1h0M336.5 376.5h0M339.2 381.8h0M336.9 378.3h0M340.0 383.9h0M336.5 377.6h0M332.4 367.3h0M339.6 375.0h0M332.5 371.5h0M331.0 371.9h0M338.4 361.4h0M335.6 374.7h0M335.4 373.3h0M333.9 367.4h0M335.9 360.7h0M335.5 363.1h0M333.8 382.1h0M334.7 369.5h0M338.2 367.6h0M334.2 372.2h0M337.5 366.6h0M335.7 360.5h0M332.3 372.0h0M334.0 374.1h0M337.9 359.1h0M336.7 373.4h0M334.9 373.5h0M333.6 375.2h0M336.3 384.2h0M330.5 365.8h0M336.9 379.0h0M332.4 365.5h0M334.4 374.8h0M333.3 378.5h0M340.0 371.1h0M339.0 362.8h0M333.0 376.3h0M338.3 364.0h0M334.5 375.5h0M335.7 367.6h0M335.8 377.9h0M334.4 364.4h0M339.4 369.7h0M330.2 374.4h0M338.4 379.6h0M338.5 372.5h0M336.8 375.6h0M340.5 374.8h0M331.6 379.3h0M336.3 371.7h0M335.2 377.8h0M335.9 374.6h0M335.9 378.9h0M332.7 375.4h0M337.3 372.7h0M340.0 383.5h0M335.2 380.9h0M334.0 386.0h0M339.3 369.6h0M338.2 376.5h0M335.0 364.9h0M335.5 379.4h0M338.6 375.5h0M337.3 367.3h0M334.3 373.8h0M335.3 366.4h0M332.4 380.4h0M335.7 375.5h0M333.1 364.7h0M338.4 375.0h0" stroke="#5656d4" stroke-width="0.70" stroke-linecap="square"/>
<ellipse cx="324" cy="356.5" rx="8.5" ry="2.6" fill="#2a9ab8" opacity="0.9"/>
<ellipse cx="321" cy="356.5" rx="3.5" ry="1.5" fill="#40b860"/>
<ellipse cx="327" cy="356.5" rx="2" ry="1.2" fill="#40b860"/>
<path d="M336.7 358.1h0M332.7 363.5h0M333.1 368.5h0M337.8 358.3h0M337.0 361.0h0M336.5 363.9h0M333.3 363.3h0M339.8 367.4h0M335.3 360.4h0M341.3 368.9h0M335.3 365.7h0M334.3 365.4h0M337.3 363.1h0M334.2 360.1h0M332.4 362.1h0M335.5 351.5h0M336.6 357.6h0M337.0 368.2h0M338.7 365.7h0M332.1 372.0h0M332.9 370.0h0M331.8 362.1h0M330.8 362.3h0M336.1 367.2h0M329.4 360.4h0M331.8 367.8h0M335.2 367.8h0M334.3 370.8h0M334.9 365.9h0M336.3 363.8h0M331.9 361.1h0M338.6 369.3h0M333.2 365.2h0M329.4 367.7h0M333.9 351.2h0M331.4 360.7h0M333.0 362.0h0M331.6 353.3h0M338.9 357.2h0M330.7 354.8h0M333.0 368.2h0M337.7 372.0h0M332.1 361.8h0M338.2 361.3h0M335.4 371.4h0M331.1 357.0h0M335.9 359.0h0M333.3 368.4h0M335.3 369.4h0M332.0 362.5h0M335.3 364.1h0M328.1 356.9h0M335.7 352.7h0M329.1 358.3h0M332.6 366.2h0M335.9 359.8h0M331.2 357.5h0M337.7 364.1h0M335.8 352.0h0M328.4 367.2h0" stroke="#4646d2" stroke-width="0.70" stroke-linecap="square"/>
<path d="M337.8 363.5h0M332.6 357.0h0M331.7 363.3h0M334.6 360.1h0M335.2 366.6h0M334.9 360.5h0M331.9 361.0h0M332.7 367.4h0M333.4 367.1h0M333.1 362.9h0M335.0 361.6h0M334.4 362.4h0M333.8 362.6h0M336.4 367.9h0M333.9 366.8h0M334.1 362.5h0M334.9 362.1h0M335.9 361.0h0M334.0 362.9h0M333.0 360.0h0" stroke="#3050e0" stroke-width="0.70" stroke-linecap="square"/>
<ellipse cx="334.2" cy="360.3" rx="4.80" ry="5.25" fill="#3a7ad8" opacity="0.75"/>
<ellipse cx="334.2" cy="360.3" rx="3.68" ry="4.02" fill="#1fb0a0"/>
<ellipse cx="334.2" cy="360.3" rx="2.56" ry="2.80" fill="#50c040"/>
<ellipse cx="334.2" cy="360.3" rx="1.60" ry="1.75" fill="#f0d020"/>
<ellipse cx="334.2" cy="360.3" rx="0.80" ry="0.88" fill="#e83020"/>
</g>
<g clip-path="url(#fc8)">
<path d="M399.7 363.4h0M395.7 356.9h0M393.4 359.2h0M395.4 359.6h0M409.2 356.2h0M391.0 358.2h0M389.0 363.5h0M388.7 357.4h0M391.3 361.2h0M396.4 357.8h0M394.6 362.2h0M400.3 366.7h0M393.3 365.3h0M410.0 362.4h0M387.3 361.1h0M403.4 362.9h0M398.9 357.3h0M401.9 361.9h0M398.2 354.1h0M401.9 361.2h0M401.3 358.5h0M407.4 363.6h0M399.8 356.6h0M393.7 354.5h0M399.0 358.1h0M395.3 352.1h0M398.8 355.9h0M383.8 366.0h0M407.8 359.7h0M384.3 359.7h0M402.0 357.1h0M402.6 363.6h0M400.6 362.4h0M390.6 358.3h0M390.1 354.9h0M401.9 359.0h0M402.1 359.1h0M391.1 364.8h0M404.1 359.4h0M400.2 353.7h0M393.7 364.5h0M398.1 359.7h0M405.7 365.0h0M391.3 358.5h0M398.7 356.3h0M400.6 362.5h0M397.6 355.0h0M396.1 360.0h0M399.4 360.0h0M395.1 366.1h0M405.5 358.0h0M389.7 363.9h0M393.1 356.0h0M398.7 355.7h0M392.5 359.4h0M397.5 358.4h0M404.0 362.8h0M408.7 362.0h0M399.4 363.7h0M396.6 364.0h0M394.0 358.5h0M381.5 357.4h0M399.5 362.0h0M398.0 361.6h0M412.1 360.7h0M398.6 359.8h0M400.9 356.0h0M400.3 367.0h0M403.4 363.3h0M392.6 355.2h0M397.3 362.0h0M393.6 357.9h0M389.2 356.5h0M406.4 361.1h0M403.0 359.5h0M392.2 358.6h0M400.1 358.3h0M402.7 362.4h0M389.7 361.6h0M400.9 367.7h0M391.2 359.3h0M397.0 359.0h0M407.0 356.8h0M396.7 363.8h0M407.3 361.5h0M405.0 359.2h0M403.7 359.5h0M404.8 355.0h0M402.9 358.3h0M395.4 359.9h0M399.5 359.5h0M389.9 357.7h0M399.6 362.9h0M396.7 360.5h0M392.2 362.0h0M395.2 354.7h0M408.5 357.7h0M396.7 364.8h0M393.3 354.2h0M400.4 362.4h0M393.1 358.0h0M402.4 358.2h0M396.4 358.7h0M409.9 354.4h0M402.3 359.3h0M405.6 351.3h0M398.8 360.9h0M387.8 351.0h0M408.2 361.3h0M393.4 356.6h0M401.5 363.3h0M393.0 360.0h0M405.0 356.6h0M401.2 364.2h0M385.4 355.2h0M409.5 359.1h0M402.9 361.2h0M402.7 364.8h0M406.8 363.3h0M390.6 356.7h0M408.4 357.6h0M396.1 355.1h0M390.1 358.8h0M400.9 360.4h0M394.7 356.6h0M385.9 362.1h0M389.7 363.7h0M400.8 353.8h0M397.8 364.8h0M389.2 361.0h0M400.3 361.2h0M397.3 366.1h0M398.2 356.6h0M391.9 357.7h0M392.4 359.4h0M388.6 367.3h0M399.3 358.8h0M405.8 364.8h0M389.0 361.7h0M390.5 357.1h0M399.9 358.9h0M400.0 357.9h0M401.5 361.3h0M386.2 359.4h0M383.1 355.5h0M399.2 363.2h0M389.8 357.9h0M394.6 356.1h0M405.4 363.6h0M397.6 358.7h0M397.3 359.6h0M393.6 355.5h0M396.2 361.5h0M396.6 364.9h0M386.3 358.6h0M400.9 364.3h0M396.4 361.0h0M398.1 361.6h0M397.9 360.8h0M402.6 359.5h0M397.3 356.3h0M392.4 359.8h0M400.9 359.2h0M407.1 358.5h0M398.8 358.8h0M405.7 359.6h0M390.2 357.8h0M383.0 362.9h0M411.7 359.0h0M401.6 363.3h0M395.8 357.9h0M404.8 356.3h0M400.7 362.0h0M391.8 353.4h0M401.8 360.0h0M401.1 356.0h0M394.1 362.0h0M398.3 360.6h0M394.2 360.8h0M398.5 363.0h0" stroke="#5656d4" stroke-width="0.70" stroke-linecap="square"/>
<path d="M399.2 373.0h0M396.5 386.3h0M390.8 373.8h0M384.7 366.1h0M402.3 357.8h0M402.7 362.9h0M400.2 366.2h0M393.5 366.6h0M400.5 367.9h0M400.7 370.0h0M392.6 378.4h0M393.9 368.2h0M404.1 378.8h0M398.6 376.9h0M400.0 364.1h0M394.0 370.5h0M403.2 366.8h0M394.5 364.8h0M395.8 364.3h0M399.0 375.1h0M397.7 358.1h0M389.7 369.2h0M403.6 366.5h0M400.8 369.3h0M402.8 362.8h0M390.9 366.6h0M397.5 371.0h0M407.3 372.5h0M391.6 374.9h0M387.4 374.4h0M396.6 364.2h0M394.8 366.8h0M399.8 368.8h0M402.3 366.1h0M405.6 383.8h0M399.4 378.6h0M396.8 373.2h0M399.7 357.8h0M402.8 364.4h0M395.2 367.3h0M401.5 369.9h0M396.3 369.0h0M394.5 376.7h0M391.9 371.0h0M396.3 370.8h0M394.2 365.5h0M400.6 373.7h0M393.0 361.3h0M394.9 371.5h0M392.2 364.2h0M383.8 371.6h0M392.9 375.4h0M399.6 370.6h0M398.1 373.6h0M398.1 372.6h0M402.8 366.1h0M390.6 370.5h0M394.9 381.8h0M396.5 363.7h0M397.1 370.0h0M404.8 372.1h0M402.4 371.3h0M392.2 369.3h0M393.5 383.6h0M405.0 367.1h0M385.0 366.6h0M395.9 365.8h0M398.8 372.6h0M400.9 373.6h0M394.3 367.4h0M401.0 372.7h0M387.1 373.2h0M404.2 363.0h0M396.4 381.1h0M395.7 377.8h0M393.4 369.1h0M393.2 368.8h0M398.1 365.8h0M397.6 366.2h0M402.4 370.4h0M402.2 364.2h0M396.9 377.1h0M393.4 377.7h0M396.3 373.5h0M398.4 370.0h0M399.9 374.0h0M393.9 376.6h0M394.1 370.1h0M400.8 361.7h0M398.3 373.3h0M401.6 374.6h0M391.8 362.8h0M397.7 382.0h0M401.6 366.1h0M399.3 372.5h0M396.6 367.8h0M391.4 363.3h0M399.8 370.4h0M397.3 376.4h0M402.3 361.3h0M396.4 370.6h0M393.8 369.0h0M394.2 383.5h0M395.8 375.8h0M391.6 357.7h0M403.2 373.0h0M395.6 367.3h0M400.6 373.2h0M392.9 377.9h0M404.2 368.3h0M381.6 378.7h0M401.9 367.4h0M391.1 371.3h0M402.7 375.3h0M395.7 363.4h0M387.6 363.4h0M391.5 363.6h0M403.0 363.5h0M384.9 373.9h0M398.9 369.2h0" stroke="#5656d4" stroke-width="0.70" stroke-linecap="square"/>
<path d="M407.2 374.0h0M408.4 367.6h0M406.0 368.1h0M405.1 377.9h0M406.5 376.2h0M408.0 384.5h0M400.1 371.0h0M408.5 373.4h0M408.2 386.4h0M408.1 379.1h0M406.3 371.2h0M405.0 383.4h0M410.1 381.5h0M405.4 365.7h0M405.8 370.5h0M407.5 367.4h0M401.7 382.0h0M404.7 374.5h0M405.3 372.3h0M403.7 372.3h0M403.0 377.6h0M404.2 365.2h0M404.3 377.8h0M405.7 371.7h0M401.6 368.7h0M405.1 372.9h0M409.0 378.6h0M406.4 365.0h0M409.8 373.0h0M399.2 381.3h0M405.6 377.1h0M405.0 375.0h0M402.3 370.7h0M406.9 382.3h0M401.2 375.9h0M406.8 362.7h0M405.0 371.3h0M401.8 369.7h0M406.4 379.9h0M403.3 373.3h0M407.5 376.6h0M401.4 379.8h0M410.9 372.9h0M411.8 362.4h0M401.6 373.3h0M409.9 375.9h0M406.8 368.9h0M404.5 372.1h0M408.2 371.4h0M403.6 375.2h0M410.3 362.3h0M402.6 378.1h0M404.5 383.9h0M401.5 365.4h0M408.8 374.9h0M406.1 373.7h0M403.6 369.5h0M407.3 377.7h0M407.4 373.0h0M400.0 376.1h0M406.0 374.9h0M402.4 368.5h0M410.7 376.9h0M405.9 365.3h0M405.8 388.7h0M407.5 398.3h0M399.7 369.5h0M401.8 371.5h0M408.3 371.5h0M402.7 389.7h0M407.0 373.9h0M408.5 365.5h0M406.0 378.6h0M410.5 378.4h0M410.2 380.0h0M407.8 355.7h0M409.4 381.7h0M406.7 375.6h0M406.4 371.1h0M404.8 355.0h0M402.6 374.7h0M408.7 368.3h0M409.8 373.0h0M404.7 374.7h0M409.2 367.2h0M408.3 381.6h0M405.1 380.9h0M406.1 376.3h0M401.2 376.1h0M404.2 361.7h0M409.4 368.4h0M405.5 385.2h0M405.4 370.8h0M411.6 375.3h0M408.2 385.6h0M408.3 371.8h0M404.4 373.6h0M410.3 379.9h0M404.0 370.5h0M405.9 376.4h0M405.7 368.8h0M410.4 378.0h0M404.8 377.6h0M403.0 371.5h0M402.4 372.9h0M403.4 372.7h0M398.5 373.8h0M406.2 380.6h0M402.5 375.7h0M403.3 381.6h0M407.0 372.5h0M398.1 379.9h0M409.8 374.1h0M403.3 379.7h0M405.2 369.1h0M409.2 377.8h0M408.6 373.4h0M408.6 370.9h0M403.7 365.4h0M405.9 364.6h0M403.8 364.6h0M405.4 387.5h0M402.9 369.1h0M403.8 369.6h0M405.9 388.4h0M406.1 379.9h0M402.7 369.9h0M407.4 376.8h0M405.7 370.5h0M404.2 374.4h0M412.4 382.3h0M402.6 376.7h0M407.0 375.7h0M399.1 372.5h0M408.1 371.5h0M403.5 373.7h0M406.3 370.9h0M404.9 378.0h0M405.1 361.0h0M403.2 376.1h0M406.6 372.5h0M405.7 368.3h0M407.3 371.3h0M409.3 364.8h0M404.8 378.1h0M404.8 372.1h0M403.4 371.4h0M404.8 371.3h0M404.7 369.2h0M401.5 369.2h0M406.7 379.0h0M404.5 364.3h0M406.0 373.0h0M403.5 377.9h0M408.0 368.9h0M404.7 377.4h0M403.1 376.0h0M409.4 375.2h0M407.7 369.7h0M400.0 378.1h0M412.3 369.4h0M405.5 369.9h0M403.8 378.5h0M407.1 363.2h0M406.2 370.6h0M406.8 394.3h0M403.5 381.4h0M401.5 378.6h0M410.6 374.4h0M409.1 368.6h0" stroke="#5656d4" stroke-width="0.70" stroke-linecap="square"/>
<path d="M401.2 370.2h0M405.2 372.3h0M405.2 357.6h0M404.1 356.3h0M404.8 353.3h0M404.4 353.0h0M403.7 362.0h0M406.0 374.5h0M409.1 369.3h0M403.7 361.3h0M407.6 358.8h0M404.6 368.5h0M402.2 357.7h0M398.9 359.1h0M401.5 373.0h0M409.7 361.9h0M401.9 365.5h0M401.0 364.0h0M403.4 362.1h0M403.6 366.1h0M405.9 367.0h0M398.9 361.7h0M399.6 371.4h0M396.5 364.2h0M402.7 367.8h0M406.8 371.5h0M397.9 357.3h0M398.9 364.2h0M407.6 373.9h0M405.7 365.4h0M405.1 363.9h0M413.2 359.9h0M406.9 366.1h0M406.1 351.2h0M397.7 361.3h0M399.6 367.8h0M408.0 367.1h0M405.2 371.8h0M403.9 365.2h0M401.9 365.1h0M403.7 364.0h0M402.1 365.4h0M401.4 369.3h0M403.8 358.3h0M401.8 365.8h0M400.2 358.8h0M404.1 366.6h0M403.3 360.2h0M404.2 357.6h0M406.3 366.5h0M409.2 360.1h0M398.2 350.3h0M409.3 363.6h0M406.5 359.8h0M405.9 361.5h0M411.9 359.1h0M407.2 352.5h0M402.1 357.1h0M407.7 369.2h0M409.5 369.6h0" stroke="#4646d2" stroke-width="0.70" stroke-linecap="square"/>
<path d="M405.3 358.2h0M403.9 361.6h0M402.3 361.9h0M405.7 361.2h0M401.6 366.6h0M404.5 359.8h0M402.2 367.2h0M403.2 363.4h0M403.9 365.7h0M403.1 363.9h0M404.2 360.0h0M405.8 367.5h0M404.1 363.2h0M403.8 360.6h0M407.2 360.0h0M401.6 360.4h0M405.1 368.5h0M403.1 359.3h0M402.7 364.7h0M403.2 365.2h0" stroke="#3050e0" stroke-width="0.70" stroke-linecap="square"/>
<ellipse cx="404.7" cy="361.5" rx="4.80" ry="6.00" fill="#3a7ad8" opacity="0.75"/>
<ellipse cx="404.7" cy="361.5" rx="3.68" ry="4.60" fill="#1fb0a0"/>
<ellipse cx="404.7" cy="361.5" rx="2.56" ry="3.20" fill="#50c040"/>
<ellipse cx="404.7" cy="361.5" rx="1.60" ry="2.00" fill="#f0d020"/>
<ellipse cx="404.7" cy="361.5" rx="0.80" ry="1.00" fill="#e83020"/>
</g>
<rect x="291.20" y="275.20" width="53.20" height="52.50" fill="none" stroke="#444" stroke-width="0.8"/>
<rect x="294.10" y="276.30" width="36.80" height="40.50" fill="none" stroke="#666" stroke-width="0.9"/>
<text x="312.00" y="322.85" font-size="6.7" text-anchor="middle">1,05</text>
<rect x="362.00" y="275.20" width="52.50" height="52.50" fill="none" stroke="#444" stroke-width="0.8"/>
<rect x="364.60" y="276.30" width="36.80" height="40.90" fill="none" stroke="#666" stroke-width="0.9"/>
<text x="383.00" y="322.85" font-size="6.7" text-anchor="middle">5,00</text>
<rect x="291.20" y="351.50" width="52.80" height="52.30" fill="none" stroke="#444" stroke-width="0.8"/>
<rect x="294.00" y="352.00" width="36.60" height="41.00" fill="none" stroke="#666" stroke-width="0.9"/>
<text x="311.70" y="398.35" font-size="6.7" text-anchor="middle">24,8</text>
<rect x="362.00" y="351.50" width="52.50" height="52.30" fill="none" stroke="#444" stroke-width="0.8"/>
<rect x="364.00" y="352.00" width="37.00" height="40.40" fill="none" stroke="#666" stroke-width="0.9"/>
<text x="382.80" y="398.35" font-size="6.7" text-anchor="middle">5,60</text>
<text transform="translate(277.2,400) rotate(-90)" font-size="7" text-anchor="middle">CD8</text>
<line x1="273.70" y1="387.00" x2="273.70" y2="369.50" stroke="#231f20" stroke-width="0.7"/>
<path d="M273.7,368 L272.1,372.5 L275.3,372.5 Z" fill="#231f20" stroke="none" stroke-width="1"/>
<text x="275.50" y="419.53" font-size="7.24" textLength="72.70" lengthAdjust="spacingAndGlyphs">Violet proliferation Dye</text>
<line x1="356.50" y1="417.00" x2="374.00" y2="417.00" stroke="#231f20" stroke-width="0.7"/>
<path d="M375.7,417 L371.3,415.4 L371.3,418.6 Z" fill="#231f20" stroke="none" stroke-width="1"/>
<line x1="458.10" y1="292.70" x2="458.10" y2="401.30" stroke="#333" stroke-width="1"/>
<line x1="457.70" y1="400.90" x2="523.90" y2="400.90" stroke="#333" stroke-width="1"/>
<line x1="456.10" y1="400.90" x2="458.10" y2="400.90" stroke="#444" stroke-width="1"/>
<text x="454.30" y="403.35" font-size="7" text-anchor="end">0</text>
<line x1="456.10" y1="373.85" x2="458.10" y2="373.85" stroke="#444" stroke-width="1"/>
<text x="454.30" y="376.30" font-size="7" text-anchor="end">20</text>
<line x1="456.10" y1="346.80" x2="458.10" y2="346.80" stroke="#444" stroke-width="1"/>
<text x="454.30" y="349.25" font-size="7" text-anchor="end">40</text>
<line x1="456.10" y1="319.75" x2="458.10" y2="319.75" stroke="#444" stroke-width="1"/>
<text x="454.30" y="322.20" font-size="7" text-anchor="end">60</text>
<line x1="456.10" y1="292.70" x2="458.10" y2="292.70" stroke="#444" stroke-width="1"/>
<text x="454.30" y="295.15" font-size="7" text-anchor="end">80</text>
<rect x="468.80" y="352.10" width="18.80" height="48.80" fill="#0a70b2" stroke="#1a1a1a" stroke-width="0.8"/>
<rect x="494.80" y="382.30" width="18.60" height="18.60" fill="#07a545" stroke="#1a1a1a" stroke-width="0.8"/>
<line x1="478.20" y1="352.10" x2="478.20" y2="344.80" stroke="#222" stroke-width="0.8"/>
<line x1="474.20" y1="344.80" x2="482.20" y2="344.80" stroke="#222" stroke-width="0.8"/>
<line x1="504.10" y1="382.30" x2="504.10" y2="377.30" stroke="#222" stroke-width="0.8"/>
<line x1="500.10" y1="377.30" x2="508.10" y2="377.30" stroke="#222" stroke-width="0.8"/>
<circle cx="474.40" cy="319.20" r="1.7" fill="#111"/>
<circle cx="481.20" cy="319.20" r="1.7" fill="#111"/>
<circle cx="477.80" cy="327.80" r="1.7" fill="#111"/>
<circle cx="477.80" cy="339.20" r="1.7" fill="#111"/>
<circle cx="477.80" cy="349.40" r="1.7" fill="#111"/>
<circle cx="477.80" cy="357.30" r="1.7" fill="#111"/>
<circle cx="477.80" cy="361.40" r="1.7" fill="#111"/>
<circle cx="471.70" cy="369.80" r="1.7" fill="#111"/>
<circle cx="484.60" cy="372.70" r="1.7" fill="#111"/>
<circle cx="477.80" cy="372.70" r="1.7" fill="#111"/>
<circle cx="477.80" cy="381.60" r="1.7" fill="#111"/>
<circle cx="503.90" cy="348.70" r="1.7" fill="#111"/>
<circle cx="503.90" cy="362.50" r="1.7" fill="#111"/>
<circle cx="498.20" cy="374.30" r="1.7" fill="#111"/>
<circle cx="505.00" cy="374.30" r="1.7" fill="#111"/>
<circle cx="504.40" cy="381.10" r="1.7" fill="#111"/>
<circle cx="498.20" cy="389.50" r="1.7" fill="#111"/>
<circle cx="510.70" cy="387.30" r="1.7" fill="#111"/>
<circle cx="503.90" cy="391.30" r="1.7" fill="#111"/>
<circle cx="500.50" cy="394.30" r="1.7" fill="#111"/>
<circle cx="507.30" cy="394.30" r="1.7" fill="#111"/>
<circle cx="498.20" cy="399.30" r="1.7" fill="#111"/>
<circle cx="507.30" cy="399.30" r="1.7" fill="#111"/>
<line x1="478.20" y1="400.90" x2="478.20" y2="403.40" stroke="#333" stroke-width="0.8"/>
<line x1="504.10" y1="400.90" x2="504.10" y2="403.40" stroke="#333" stroke-width="0.8"/>
<text x="476.10" y="411.27" font-size="7.06" text-anchor="middle" textLength="10.20" lengthAdjust="spacingAndGlyphs">Cis</text>
<text x="501.90" y="411.38" font-size="7.38" text-anchor="middle" textLength="18.60" lengthAdjust="spacingAndGlyphs">Trans</text>
<text x="496.00" y="295.67" font-size="6.48" text-anchor="middle" textLength="27.20" lengthAdjust="spacingAndGlyphs">p=0.0003</text>
<line x1="481.70" y1="297.90" x2="511.20" y2="297.90" stroke="#222" stroke-width="0.8"/>
<text transform="translate(443.2,348.2) rotate(-90)" font-size="9" font-weight="bold" text-anchor="middle" textLength="84" lengthAdjust="spacingAndGlyphs">Δ of %Dividing cells</text>
<text x="535.40" y="265.90" font-size="16" font-weight="bold">f</text>
<text x="604.10" y="276.99" font-size="7.41" text-anchor="middle" textLength="10.70" lengthAdjust="spacingAndGlyphs">Cis</text>
<text x="633.50" y="276.83" font-size="6.93" text-anchor="middle" textLength="21.30" lengthAdjust="spacingAndGlyphs">Trans1</text>
<text x="664.50" y="276.97" font-size="7.35" text-anchor="middle" textLength="22.60" lengthAdjust="spacingAndGlyphs">Trans2</text>
<text x="605.30" y="285.60" font-size="6.29" text-anchor="middle" textLength="26.40" lengthAdjust="spacingAndGlyphs">p=0.0136</text>
<line x1="597.20" y1="287.70" x2="612.60" y2="287.70" stroke="#222" stroke-width="0.8"/>
<line x1="574.10" y1="286.70" x2="574.10" y2="397.40" stroke="#333" stroke-width="1"/>
<line x1="573.70" y1="397.00" x2="676.30" y2="397.00" stroke="#333" stroke-width="1"/>
<line x1="572.10" y1="397.00" x2="574.10" y2="397.00" stroke="#444" stroke-width="1"/>
<text x="570.30" y="399.45" font-size="7" text-anchor="end">0</text>
<line x1="572.10" y1="360.23" x2="574.10" y2="360.23" stroke="#444" stroke-width="1"/>
<text x="570.30" y="362.68" font-size="7" text-anchor="end">20</text>
<line x1="572.10" y1="323.46" x2="574.10" y2="323.46" stroke="#444" stroke-width="1"/>
<text x="570.30" y="325.91" font-size="7" text-anchor="end">40</text>
<line x1="572.10" y1="286.69" x2="574.10" y2="286.69" stroke="#444" stroke-width="1"/>
<text x="570.30" y="289.14" font-size="7" text-anchor="end">60</text>
<text transform="translate(555.9,331.2) rotate(-90)" font-size="9.3" font-weight="bold" text-anchor="middle" textLength="55" lengthAdjust="spacingAndGlyphs">%EdU+ CD8+</text>
<rect x="596.40" y="351.50" width="7.20" height="45.50" fill="#fff" stroke="#777" stroke-width="0.8"/>
<rect x="605.30" y="341.80" width="7.30" height="55.20" fill="#d6d6dc" stroke="#777" stroke-width="0.8"/>
<rect x="624.40" y="367.00" width="6.40" height="30.00" fill="#fff" stroke="#777" stroke-width="0.8"/>
<rect x="633.40" y="372.20" width="7.00" height="24.80" fill="#d6d6dc" stroke="#777" stroke-width="0.8"/>
<rect x="652.20" y="383.50" width="6.70" height="13.50" fill="#fff" stroke="#777" stroke-width="0.8"/>
<rect x="661.20" y="380.20" width="6.10" height="16.80" fill="#d6d6dc" stroke="#777" stroke-width="0.8"/>
<circle cx="579.50" cy="395.50" r="1.5" fill="#111"/>
<circle cx="581.00" cy="396.00" r="1.5" fill="#111"/>
<circle cx="582.80" cy="396.30" r="1.5" fill="#111"/>
<circle cx="580.50" cy="394.50" r="1.5" fill="#111"/>
<circle cx="582.00" cy="395.00" r="1.5" fill="#111"/>
<circle cx="584.00" cy="396.20" r="1.5" fill="#111"/>
<line x1="599.90" y1="312.80" x2="609.30" y2="294.60" stroke="#111" stroke-width="0.8"/>
<circle cx="599.90" cy="312.80" r="1.6" fill="#111"/>
<circle cx="609.30" cy="294.60" r="1.6" fill="#111"/>
<line x1="599.90" y1="314.00" x2="609.30" y2="294.60" stroke="#111" stroke-width="0.8"/>
<circle cx="599.90" cy="314.00" r="1.6" fill="#111"/>
<circle cx="609.30" cy="294.60" r="1.6" fill="#111"/>
<line x1="599.90" y1="328.10" x2="609.30" y2="317.10" stroke="#111" stroke-width="0.8"/>
<circle cx="599.90" cy="328.10" r="1.6" fill="#111"/>
<circle cx="609.30" cy="317.10" r="1.6" fill="#111"/>
<line x1="599.90" y1="334.20" x2="609.30" y2="340.60" stroke="#111" stroke-width="0.8"/>
<circle cx="599.90" cy="334.20" r="1.6" fill="#111"/>
<circle cx="609.30" cy="340.60" r="1.6" fill="#111"/>
<line x1="599.90" y1="358.80" x2="609.30" y2="347.20" stroke="#111" stroke-width="0.8"/>
<circle cx="599.90" cy="358.80" r="1.6" fill="#111"/>
<circle cx="609.30" cy="347.20" r="1.6" fill="#111"/>
<line x1="599.90" y1="360.60" x2="609.30" y2="355.90" stroke="#111" stroke-width="0.8"/>
<circle cx="599.90" cy="360.60" r="1.6" fill="#111"/>
<circle cx="609.30" cy="355.90" r="1.6" fill="#111"/>
<line x1="599.90" y1="377.10" x2="609.30" y2="356.00" stroke="#111" stroke-width="0.8"/>
<circle cx="599.90" cy="377.10" r="1.6" fill="#111"/>
<circle cx="609.30" cy="356.00" r="1.6" fill="#111"/>
<line x1="599.90" y1="379.00" x2="609.30" y2="375.30" stroke="#111" stroke-width="0.8"/>
<circle cx="599.90" cy="379.00" r="1.6" fill="#111"/>
<circle cx="609.30" cy="375.30" r="1.6" fill="#111"/>
<line x1="599.90" y1="394.50" x2="609.30" y2="388.70" stroke="#111" stroke-width="0.8"/>
<circle cx="599.90" cy="394.50" r="1.6" fill="#111"/>
<circle cx="609.30" cy="388.70" r="1.6" fill="#111"/>
<line x1="627.40" y1="318.90" x2="636.60" y2="338.90" stroke="#111" stroke-width="0.8"/>
<circle cx="627.40" cy="318.90" r="1.6" fill="#111"/>
<circle cx="636.60" cy="338.90" r="1.6" fill="#111"/>
<line x1="627.40" y1="348.90" x2="636.60" y2="367.00" stroke="#111" stroke-width="0.8"/>
<circle cx="627.40" cy="348.90" r="1.6" fill="#111"/>
<circle cx="636.60" cy="367.00" r="1.6" fill="#111"/>
<line x1="627.40" y1="358.80" x2="636.60" y2="366.80" stroke="#111" stroke-width="0.8"/>
<circle cx="627.40" cy="358.80" r="1.6" fill="#111"/>
<circle cx="636.60" cy="366.80" r="1.6" fill="#111"/>
<line x1="627.40" y1="366.80" x2="636.60" y2="358.80" stroke="#111" stroke-width="0.8"/>
<circle cx="627.40" cy="366.80" r="1.6" fill="#111"/>
<circle cx="636.60" cy="358.80" r="1.6" fill="#111"/>
<line x1="627.40" y1="381.00" x2="636.60" y2="381.40" stroke="#111" stroke-width="0.8"/>
<circle cx="627.40" cy="381.00" r="1.6" fill="#111"/>
<circle cx="636.60" cy="381.40" r="1.6" fill="#111"/>
<line x1="627.40" y1="393.00" x2="636.60" y2="393.00" stroke="#111" stroke-width="0.8"/>
<circle cx="627.40" cy="393.00" r="1.6" fill="#111"/>
<circle cx="636.60" cy="393.00" r="1.6" fill="#111"/>
<line x1="627.40" y1="397.00" x2="636.60" y2="397.00" stroke="#111" stroke-width="0.8"/>
<circle cx="627.40" cy="397.00" r="1.6" fill="#111"/>
<circle cx="636.60" cy="397.00" r="1.6" fill="#111"/>
<line x1="655.20" y1="369.80" x2="664.40" y2="368.00" stroke="#111" stroke-width="0.8"/>
<circle cx="655.20" cy="369.80" r="1.6" fill="#111"/>
<circle cx="664.40" cy="368.00" r="1.6" fill="#111"/>
<line x1="655.20" y1="376.60" x2="664.40" y2="374.00" stroke="#111" stroke-width="0.8"/>
<circle cx="655.20" cy="376.60" r="1.6" fill="#111"/>
<circle cx="664.40" cy="374.00" r="1.6" fill="#111"/>
<line x1="655.20" y1="379.50" x2="664.40" y2="374.50" stroke="#111" stroke-width="0.8"/>
<circle cx="655.20" cy="379.50" r="1.6" fill="#111"/>
<circle cx="664.40" cy="374.50" r="1.6" fill="#111"/>
<line x1="655.20" y1="383.00" x2="664.40" y2="380.50" stroke="#111" stroke-width="0.8"/>
<circle cx="655.20" cy="383.00" r="1.6" fill="#111"/>
<circle cx="664.40" cy="380.50" r="1.6" fill="#111"/>
<line x1="655.20" y1="388.00" x2="664.40" y2="388.00" stroke="#111" stroke-width="0.8"/>
<circle cx="655.20" cy="388.00" r="1.6" fill="#111"/>
<circle cx="664.40" cy="388.00" r="1.6" fill="#111"/>
<line x1="655.20" y1="392.70" x2="664.40" y2="392.70" stroke="#111" stroke-width="0.8"/>
<circle cx="655.20" cy="392.70" r="1.6" fill="#111"/>
<circle cx="664.40" cy="392.70" r="1.6" fill="#111"/>
<line x1="655.20" y1="397.00" x2="664.40" y2="397.00" stroke="#111" stroke-width="0.8"/>
<circle cx="655.20" cy="397.00" r="1.6" fill="#111"/>
<circle cx="664.40" cy="397.00" r="1.6" fill="#111"/>
<text x="571.00" y="406.72" font-size="5.76" text-anchor="end" textLength="33.30" lengthAdjust="spacingAndGlyphs">CD3-EpCAM</text>
<text x="571.00" y="414.56" font-size="6.17" text-anchor="end" textLength="38.40" lengthAdjust="spacingAndGlyphs">ALG.APV-527</text>
<text x="599.30" y="407.15" font-size="7" text-anchor="middle">+</text>
<text x="609.00" y="407.15" font-size="7" text-anchor="middle">+</text>
<text x="627.50" y="407.15" font-size="7" text-anchor="middle">+</text>
<text x="636.50" y="407.15" font-size="7" text-anchor="middle">+</text>
<text x="655.70" y="407.15" font-size="7" text-anchor="middle">+</text>
<text x="664.00" y="407.15" font-size="7" text-anchor="middle">+</text>
<text x="599.30" y="414.85" font-size="7" text-anchor="middle">-</text>
<text x="609.00" y="414.85" font-size="7" text-anchor="middle">+</text>
<text x="627.50" y="414.85" font-size="7" text-anchor="middle">-</text>
<text x="636.50" y="414.85" font-size="7" text-anchor="middle">+</text>
<text x="655.70" y="414.85" font-size="7" text-anchor="middle">-</text>
<text x="664.00" y="414.85" font-size="7" text-anchor="middle">+</text>
<text x="0.80" y="461.50" font-size="16" font-weight="bold">g</text>
<text x="48.90" y="473.93" font-size="7.5" text-anchor="middle">Cis beads</text>
<line x1="20.50" y1="481.90" x2="22.30" y2="481.90" stroke="#555" stroke-width="0.5"/>
<text x="19.80" y="482.88" font-size="2.8" text-anchor="end" fill="#666">10⁵</text>
<line x1="20.50" y1="493.45" x2="22.30" y2="493.45" stroke="#555" stroke-width="0.5"/>
<text x="19.80" y="494.43" font-size="2.8" text-anchor="end" fill="#666">10⁴</text>
<line x1="20.50" y1="505.00" x2="22.30" y2="505.00" stroke="#555" stroke-width="0.5"/>
<text x="19.80" y="505.98" font-size="2.8" text-anchor="end" fill="#666">10³</text>
<line x1="20.50" y1="515.50" x2="22.30" y2="515.50" stroke="#555" stroke-width="0.5"/>
<text x="19.80" y="516.48" font-size="2.8" text-anchor="end" fill="#666">0</text>
<line x1="32.72" y1="530.20" x2="32.72" y2="532.00" stroke="#555" stroke-width="0.5"/>
<text x="32.72" y="535.68" font-size="2.8" text-anchor="middle" fill="#666">0</text>
<line x1="52.00" y1="530.20" x2="52.00" y2="532.00" stroke="#555" stroke-width="0.5"/>
<text x="52.00" y="535.68" font-size="2.8" text-anchor="middle" fill="#666">10³</text>
<line x1="65.02" y1="530.20" x2="65.02" y2="532.00" stroke="#555" stroke-width="0.5"/>
<text x="65.02" y="535.68" font-size="2.8" text-anchor="middle" fill="#666">10⁴</text>
<line x1="72.84" y1="530.20" x2="72.84" y2="532.00" stroke="#555" stroke-width="0.5"/>
<text x="72.84" y="535.68" font-size="2.8" text-anchor="middle" fill="#666">10⁵</text>
<rect x="19.10" y="514.00" width="1.50" height="3.00" fill="#222" stroke="none" stroke-width="1"/>
<text x="114.70" y="473.93" font-size="7.5" text-anchor="middle">Trans beads</text>
<line x1="88.00" y1="481.90" x2="89.80" y2="481.90" stroke="#555" stroke-width="0.5"/>
<text x="87.30" y="482.88" font-size="2.8" text-anchor="end" fill="#666">10⁵</text>
<line x1="88.00" y1="493.45" x2="89.80" y2="493.45" stroke="#555" stroke-width="0.5"/>
<text x="87.30" y="494.43" font-size="2.8" text-anchor="end" fill="#666">10⁴</text>
<line x1="88.00" y1="505.00" x2="89.80" y2="505.00" stroke="#555" stroke-width="0.5"/>
<text x="87.30" y="505.98" font-size="2.8" text-anchor="end" fill="#666">10³</text>
<line x1="88.00" y1="515.50" x2="89.80" y2="515.50" stroke="#555" stroke-width="0.5"/>
<text x="87.30" y="516.48" font-size="2.8" text-anchor="end" fill="#666">0</text>
<line x1="100.40" y1="530.20" x2="100.40" y2="532.00" stroke="#555" stroke-width="0.5"/>
<text x="100.40" y="535.68" font-size="2.8" text-anchor="middle" fill="#666">0</text>
<line x1="120.01" y1="530.20" x2="120.01" y2="532.00" stroke="#555" stroke-width="0.5"/>
<text x="120.01" y="535.68" font-size="2.8" text-anchor="middle" fill="#666">10³</text>
<line x1="133.26" y1="530.20" x2="133.26" y2="532.00" stroke="#555" stroke-width="0.5"/>
<text x="133.26" y="535.68" font-size="2.8" text-anchor="middle" fill="#666">10⁴</text>
<line x1="141.21" y1="530.20" x2="141.21" y2="532.00" stroke="#555" stroke-width="0.5"/>
<text x="141.21" y="535.68" font-size="2.8" text-anchor="middle" fill="#666">10⁵</text>
<rect x="86.60" y="514.00" width="1.50" height="3.00" fill="#222" stroke="none" stroke-width="1"/>
<path d="M48.6 502.0h0M51.8 503.4h0M58.1 490.4h0M43.0 509.1h0M49.1 494.5h0M67.2 500.2h0M63.3 500.3h0M58.4 492.4h0M58.3 509.8h0M55.6 506.7h0M59.2 490.3h0M61.4 503.1h0M50.1 489.6h0M64.0 500.2h0M60.4 510.1h0M60.3 511.1h0M52.4 508.2h0M53.6 511.4h0M64.3 491.2h0M46.0 494.1h0M66.5 499.4h0M58.1 496.1h0M55.2 498.1h0M51.3 503.0h0M57.1 510.7h0M59.5 511.3h0M63.8 512.8h0M59.2 492.7h0M63.9 512.1h0M65.0 502.6h0M60.3 493.9h0M63.2 502.7h0M49.7 490.3h0M63.7 512.8h0M44.9 508.2h0M52.8 492.4h0M49.9 507.4h0M64.2 489.9h0M57.8 489.9h0M60.4 496.8h0M64.4 512.5h0M55.1 513.0h0M50.3 490.7h0M57.5 489.6h0M47.6 498.7h0M57.7 492.6h0M43.7 509.8h0M50.4 512.0h0M64.8 497.9h0M54.0 501.4h0M58.5 503.2h0M56.5 503.8h0M65.8 501.1h0M53.3 506.2h0M48.5 496.1h0M66.8 501.4h0M56.2 489.1h0M52.9 502.8h0M43.2 503.7h0M58.3 490.3h0M58.1 500.1h0M59.4 497.3h0M60.1 506.7h0M43.2 490.3h0M59.3 512.1h0M48.9 499.8h0M57.3 496.5h0M51.7 496.4h0M51.8 503.2h0M50.1 497.9h0M61.7 489.5h0M56.7 506.6h0M50.3 494.2h0M62.5 494.6h0M47.3 499.3h0M59.9 491.3h0M50.6 496.9h0M63.2 499.4h0M63.7 492.9h0M51.0 504.5h0M64.5 499.7h0M48.2 491.7h0M55.7 493.4h0M62.5 509.1h0M47.2 495.5h0M62.6 504.3h0M62.5 497.2h0M45.9 495.9h0M62.2 495.4h0M51.2 498.9h0M53.0 498.7h0M65.3 492.6h0M42.8 511.6h0M64.3 512.7h0M53.4 511.8h0M65.5 494.2h0M61.0 509.0h0M59.0 501.4h0M49.8 497.1h0M48.3 490.4h0M57.2 495.7h0M62.6 489.9h0M64.9 505.6h0M65.4 510.5h0M64.8 502.8h0M43.0 506.8h0M46.9 496.1h0M59.0 501.5h0M52.9 511.5h0M57.8 497.1h0M48.9 509.7h0M54.4 507.7h0M51.4 493.6h0M55.9 508.6h0M46.9 508.0h0M65.4 508.3h0M63.0 489.0h0M58.2 509.7h0M43.9 495.4h0M49.3 501.6h0M53.1 500.2h0M61.8 488.8h0M44.0 491.9h0M45.8 490.5h0M66.7 509.5h0M44.8 501.0h0M50.5 496.4h0M51.3 504.5h0M57.1 497.5h0M47.4 496.8h0M45.7 502.2h0M60.3 498.0h0M44.7 493.1h0M51.9 503.4h0M62.0 498.0h0M62.4 503.9h0M53.3 497.8h0M54.9 505.8h0M53.0 505.6h0M54.0 494.7h0M55.9 505.6h0M44.5 499.1h0M53.2 510.1h0M65.7 497.9h0M64.8 507.9h0M49.1 500.0h0M45.7 508.5h0M59.0 510.3h0M62.2 505.0h0M60.7 502.4h0M45.2 503.0h0M42.8 492.3h0M61.7 489.9h0M45.0 491.2h0M64.4 493.1h0M43.3 509.2h0M45.7 509.2h0M59.3 509.0h0M66.1 502.8h0M62.3 489.7h0M61.6 501.2h0M60.3 491.4h0M61.1 511.4h0M44.2 496.6h0M56.6 508.8h0M48.7 493.2h0M48.8 503.7h0M61.2 498.3h0M51.7 498.4h0M51.3 498.9h0M44.7 500.9h0M66.6 498.8h0M61.1 492.7h0M59.7 507.1h0M59.3 501.3h0M54.6 504.4h0M64.8 492.4h0M45.1 506.9h0M65.2 501.3h0M53.6 506.2h0M47.3 495.3h0M47.6 503.0h0M50.4 494.4h0M59.7 511.9h0M50.0 505.9h0M52.9 509.5h0M57.1 495.3h0M48.1 489.4h0M54.5 498.1h0M46.9 497.5h0M50.6 507.5h0M46.2 512.8h0M54.5 503.3h0M54.2 509.0h0M62.9 502.3h0M54.5 506.2h0M63.8 498.5h0M60.7 512.0h0M54.2 494.4h0M48.5 506.2h0M59.3 512.0h0M63.7 494.7h0M47.4 495.1h0M47.3 505.9h0M63.8 510.6h0M49.0 509.7h0M50.4 499.0h0M60.6 490.9h0M45.0 509.0h0M49.9 497.4h0M57.0 505.1h0M42.9 496.9h0M53.4 500.6h0M47.9 503.0h0M66.2 498.3h0M56.1 491.7h0M49.5 504.9h0M45.5 510.3h0M65.1 491.1h0M65.9 497.9h0M61.7 507.1h0M50.0 505.2h0M58.8 508.3h0M49.2 507.1h0M66.3 505.1h0M55.9 491.5h0M54.8 497.3h0M60.4 505.2h0M56.6 493.2h0M58.6 504.1h0M47.1 510.3h0M58.8 491.8h0M65.6 492.2h0M50.9 506.2h0M57.4 502.2h0M58.6 499.9h0M50.4 493.1h0M44.4 506.1h0M61.3 501.9h0M60.9 497.5h0M49.2 498.1h0M64.2 489.8h0M55.1 494.8h0M61.6 497.4h0M50.9 498.6h0M56.0 507.5h0M51.4 509.3h0M45.5 495.3h0M45.2 491.5h0M61.9 506.4h0M47.2 493.4h0M52.9 506.8h0M62.8 506.9h0M57.3 492.3h0M52.5 493.5h0M55.7 502.6h0M47.7 494.9h0M61.9 489.5h0M62.5 510.4h0M66.1 498.1h0M56.3 502.9h0M58.3 512.4h0M59.6 496.0h0M63.9 500.5h0M57.5 506.4h0M42.8 507.4h0M59.0 500.7h0M55.6 499.9h0M47.5 501.6h0M43.6 500.9h0M58.6 499.6h0M56.6 512.0h0M64.6 492.1h0M62.2 503.9h0M43.9 497.5h0M48.4 490.7h0M56.0 511.3h0M50.6 509.9h0M59.8 492.1h0M63.8 503.3h0M65.5 506.1h0M60.9 497.1h0M62.5 511.3h0M63.9 499.4h0M61.3 500.5h0M45.4 489.8h0M44.6 493.6h0M46.7 500.8h0M59.9 501.8h0M53.1 504.5h0M50.2 500.0h0M61.3 498.5h0M47.1 510.6h0M60.4 497.7h0M51.8 501.6h0M57.4 494.2h0M42.8 493.9h0M62.0 492.3h0M54.0 493.5h0M47.8 492.9h0M52.6 492.9h0M43.4 491.5h0M46.8 500.7h0M44.2 489.3h0M53.7 498.7h0M60.0 490.0h0M52.6 498.4h0M43.4 512.2h0M48.1 491.1h0M54.4 492.8h0M58.0 497.2h0M45.7 490.1h0M60.6 495.5h0M62.1 500.1h0M65.6 496.1h0M48.8 495.2h0M62.7 504.0h0M51.2 491.1h0M59.5 512.3h0M57.3 488.9h0M43.4 491.0h0M46.9 489.7h0M44.0 504.6h0M64.8 493.7h0M66.7 500.3h0M62.5 511.0h0M65.8 489.6h0M50.2 503.5h0M66.0 490.9h0M49.9 509.4h0M45.5 498.2h0M50.9 505.3h0M65.5 493.0h0M60.9 506.6h0M63.3 502.2h0M65.4 497.6h0M52.9 494.4h0M61.9 500.4h0M49.3 492.9h0M60.4 503.5h0M60.2 498.2h0M54.7 492.5h0M60.2 489.4h0M54.2 507.2h0M59.4 491.1h0M48.5 509.2h0M58.5 510.1h0M64.2 499.7h0M64.8 506.5h0M50.9 497.8h0M44.5 498.5h0M66.2 491.3h0M56.7 491.5h0M44.7 504.5h0M48.6 490.0h0M46.5 504.4h0M57.1 489.1h0M48.4 512.2h0M48.1 502.4h0M53.0 507.7h0M57.6 507.9h0M55.9 493.4h0M47.1 490.7h0M63.0 491.5h0M43.3 512.2h0M47.6 510.4h0M44.8 500.1h0M48.2 508.9h0M57.8 504.3h0M61.4 509.9h0M51.2 503.4h0M53.7 491.5h0M63.3 503.2h0M62.7 493.8h0M56.0 500.0h0M60.6 490.7h0M51.2 500.5h0M44.5 502.2h0M60.8 499.0h0M58.7 503.5h0M48.0 497.3h0M67.2 496.9h0M53.3 490.8h0M48.1 492.8h0M65.6 506.4h0M64.2 512.7h0M57.8 511.3h0M55.9 498.9h0M66.0 510.7h0M66.1 500.5h0M61.7 498.6h0M67.2 511.1h0M49.9 511.4h0M47.2 491.1h0M60.5 495.9h0M55.5 504.3h0M43.7 506.8h0M49.5 499.3h0M51.2 506.8h0M61.1 495.8h0M45.2 496.0h0M52.8 490.7h0M46.5 507.3h0M59.9 512.4h0M66.8 510.0h0M51.9 492.7h0M50.4 500.0h0M55.6 501.9h0M51.5 509.4h0M49.7 500.0h0M64.5 508.3h0M50.0 494.7h0M62.5 489.0h0M45.9 501.6h0M55.9 492.8h0M43.9 493.7h0M61.6 500.1h0M66.8 507.8h0M66.8 489.6h0M47.3 489.1h0" stroke="#5a5ad0" stroke-width="0.70" stroke-linecap="square"/>
<rect x="44.2" y="490.3" width="22.1" height="21.2" rx="3" fill="#3a44b8" opacity="0.75"/>
<path d="M53.8 497.5h0M45.3 501.9h0M46.3 496.9h0M49.7 507.3h0M53.4 495.8h0M45.2 499.4h0M58.1 504.6h0M64.4 507.4h0M49.7 493.2h0M61.0 507.0h0M55.4 507.9h0M56.4 496.2h0M47.9 490.7h0M58.4 509.3h0M64.2 500.2h0M58.9 510.0h0M62.2 503.1h0M53.4 501.3h0M48.0 494.2h0M59.3 511.3h0M56.3 499.0h0M52.0 499.9h0M61.9 499.9h0M65.4 493.6h0M51.2 501.4h0M53.3 508.3h0M62.5 510.0h0M57.7 490.9h0M56.9 502.0h0M55.0 496.2h0M59.9 509.6h0M46.5 504.5h0M52.4 501.2h0M64.0 510.7h0M58.4 494.4h0M64.5 494.1h0M52.7 507.9h0M51.2 496.0h0M65.2 510.3h0M51.2 498.6h0M50.4 493.1h0M49.7 511.1h0M46.0 495.2h0M48.6 492.0h0M55.8 506.1h0M62.7 503.7h0M62.3 490.4h0M50.4 510.7h0M45.7 496.0h0M54.9 496.0h0M56.3 491.3h0M49.4 510.6h0M47.4 509.5h0M48.1 511.3h0M59.1 504.0h0M47.3 491.5h0M61.0 494.0h0M48.4 507.7h0M63.5 491.3h0M65.4 501.6h0M52.7 492.6h0M52.8 511.2h0M50.4 493.1h0M47.4 493.0h0M52.0 509.7h0M45.9 494.4h0M65.0 511.4h0M65.9 495.5h0M52.0 510.5h0M54.9 505.2h0M51.1 490.8h0M51.8 506.2h0M61.5 502.4h0M54.5 501.7h0M54.0 501.6h0M62.6 494.5h0M57.3 510.1h0M62.9 494.1h0M65.5 508.1h0M47.9 495.9h0M48.7 491.4h0M65.8 499.0h0M63.5 492.7h0M44.5 508.7h0M61.7 511.3h0M59.3 501.4h0M61.1 492.3h0M56.1 499.7h0M47.4 503.0h0M51.3 501.0h0M52.5 497.0h0M52.1 503.0h0M65.9 510.1h0M63.3 508.0h0M50.5 511.0h0M50.2 492.9h0M55.3 505.8h0M51.7 504.0h0M50.4 510.8h0M54.2 500.4h0M55.9 508.8h0M66.0 501.5h0M54.0 503.4h0M45.7 499.3h0M62.9 506.8h0M45.5 508.4h0M52.7 511.1h0M52.3 494.9h0M56.3 509.0h0M53.7 508.7h0M59.9 498.0h0M50.8 501.0h0M53.0 498.2h0M58.6 508.9h0M57.1 493.4h0M49.1 498.2h0M57.8 493.3h0M46.0 497.1h0M50.5 490.9h0M56.1 509.8h0M56.0 505.9h0M62.5 508.1h0M64.4 499.7h0M59.3 492.9h0M63.6 498.3h0M54.7 509.2h0M50.5 494.3h0M62.4 503.0h0M46.1 490.9h0M52.0 490.5h0M62.6 494.2h0M50.3 498.5h0M55.5 499.5h0M58.1 504.3h0M53.8 492.4h0M65.8 505.0h0M46.0 499.7h0M60.9 511.3h0M45.7 490.5h0M54.8 499.2h0M64.0 507.8h0M51.5 499.2h0M57.1 509.0h0M48.7 498.6h0M46.2 503.9h0M44.8 510.1h0M55.8 502.5h0M46.1 495.2h0M54.6 508.5h0M56.1 496.3h0M65.9 504.3h0M55.9 494.6h0M50.8 509.4h0M47.1 501.6h0M57.9 497.8h0M61.2 509.6h0M63.2 505.9h0M48.7 491.6h0M53.8 496.9h0M48.5 508.8h0M49.0 507.7h0M64.9 492.8h0M64.4 498.7h0M48.9 494.3h0M45.0 500.9h0M52.7 508.4h0M62.6 491.5h0M53.1 498.6h0M48.1 495.6h0M50.0 505.0h0M51.7 492.7h0M49.1 499.7h0M56.7 495.5h0M59.7 494.9h0M59.0 503.2h0M48.1 506.2h0M52.9 501.7h0M57.4 503.6h0M54.0 491.5h0M61.6 508.5h0M55.0 502.6h0M50.1 509.4h0M59.4 495.0h0M62.3 511.2h0M51.8 511.4h0M54.9 494.1h0M60.0 497.5h0M60.4 502.7h0M46.6 501.5h0M63.0 500.4h0M56.1 508.6h0M54.1 500.7h0M57.1 507.8h0M48.7 492.3h0M61.0 502.0h0M50.9 509.2h0M63.7 501.8h0M66.0 508.0h0M60.7 496.5h0M44.4 504.7h0M60.4 497.7h0M54.8 502.3h0M49.7 505.1h0M56.6 498.5h0M46.6 502.0h0M51.3 505.7h0M48.0 498.7h0M48.5 499.0h0M56.9 492.6h0M45.4 500.5h0" stroke="#4848c8" stroke-width="0.80" stroke-linecap="square"/>
<rect x="46.7" y="491.8" width="19.1" height="18.2" rx="2" fill="#2a88a8" opacity="0.55"/>
<path d="M49.7 501.0h0M49.0 493.6h0M56.2 508.6h0M62.7 501.2h0M53.5 493.0h0M51.1 497.5h0M64.2 493.9h0M64.3 500.5h0M54.2 496.6h0M64.6 495.2h0M56.9 501.1h0M49.6 495.9h0M65.0 506.2h0M60.1 508.2h0M47.6 504.6h0M60.4 495.9h0M54.7 509.5h0M52.1 505.7h0M48.9 503.9h0M51.0 501.1h0M53.0 507.6h0M60.3 501.0h0M59.2 499.6h0M61.5 496.5h0M56.4 502.5h0M53.3 492.6h0M49.0 503.5h0M49.8 505.6h0M55.6 509.1h0M62.3 505.0h0M53.0 492.6h0M56.6 505.4h0M63.8 495.5h0M48.8 509.6h0M60.2 500.6h0M60.2 494.5h0M56.4 504.0h0M57.5 494.7h0M48.4 503.2h0M63.0 494.3h0M45.8 493.3h0M61.1 498.9h0M54.6 509.9h0M57.7 496.6h0M59.4 491.8h0M51.2 504.5h0M49.0 492.4h0M55.9 497.8h0M64.7 493.6h0M61.4 498.9h0M61.5 499.9h0M58.8 497.7h0M50.1 500.0h0M61.4 498.1h0M50.2 499.4h0M47.6 497.5h0M56.9 501.7h0M57.4 497.1h0M46.2 492.3h0M52.3 495.4h0M56.9 496.6h0M60.6 502.7h0M58.7 505.2h0M55.9 499.6h0M51.7 492.9h0M61.3 500.9h0M47.7 508.7h0M57.1 503.1h0M54.3 494.1h0M65.3 494.9h0M52.9 510.0h0M48.1 500.9h0M55.1 496.3h0M63.8 499.3h0M45.9 500.4h0M45.8 504.7h0M62.7 508.3h0M46.6 504.1h0M51.7 500.4h0M51.6 497.4h0M48.3 503.2h0M47.4 509.3h0M46.6 509.3h0M49.5 493.3h0M60.3 501.5h0M60.8 501.1h0M58.1 493.3h0M58.9 501.1h0M64.6 491.9h0M47.0 504.1h0M63.9 499.5h0M59.6 502.0h0M53.4 500.3h0M57.5 492.3h0M51.7 505.2h0M50.8 500.4h0M50.7 498.3h0M58.5 505.3h0M64.5 500.5h0M49.7 497.9h0M46.8 496.2h0M57.2 502.9h0M50.4 495.1h0M47.6 495.1h0M55.5 496.4h0M63.0 502.1h0M52.4 499.6h0M46.5 505.1h0M60.4 498.4h0M59.9 496.8h0M50.0 496.0h0M49.6 502.8h0M58.3 505.0h0M47.7 505.7h0M55.1 498.7h0M55.6 499.7h0M49.6 499.0h0M58.4 504.8h0M63.6 495.3h0M63.2 506.4h0M59.7 509.6h0M48.4 505.9h0M63.3 494.0h0M57.4 509.0h0M51.4 507.4h0M63.5 499.7h0M48.5 495.7h0M62.0 499.5h0M51.9 499.9h0M63.9 496.4h0M46.1 509.1h0M51.9 498.8h0M64.8 496.9h0M47.4 508.0h0M50.5 495.8h0M64.1 496.0h0M63.4 497.9h0M51.6 495.7h0M56.3 502.0h0M53.5 501.0h0" stroke="#3048b8" stroke-width="0.90" stroke-linecap="square"/>
<rect x="47.2" y="492.3" width="2.5" height="17.7" rx="1.2" fill="#2a9a98" opacity="0.9"/>
<rect x="51.4" y="492.3" width="4.2" height="17.7" rx="2.1" fill="#3aa870" opacity="0.9"/>
<rect x="56.8" y="492.3" width="4.4" height="17.7" rx="2.2" fill="#48b060" opacity="0.9"/>
<rect x="61.8" y="492.3" width="4.4" height="17.7" rx="2.2" fill="#50b058" opacity="0.9"/>
<rect x="52.4" y="492.3" width="2.2" height="17.7" rx="1.1" fill="#a8c040" opacity="0.9"/>
<rect x="57.8" y="492.3" width="2.4" height="17.7" rx="1.2" fill="#d0b838" opacity="0.9"/>
<rect x="62.8" y="492.3" width="2.4" height="17.7" rx="1.2" fill="#d8a838" opacity="0.9"/>
<rect x="58.5" y="492.3" width="1.0" height="17.7" rx="0.5" fill="#e88a30" opacity="0.9"/>
<rect x="63.4" y="492.3" width="1.2" height="17.7" rx="0.6" fill="#e88030" opacity="0.9"/>
<path d="M113.2 508.8h0M132.9 506.9h0M129.4 491.6h0M111.8 494.6h0M108.8 511.8h0M132.1 510.6h0M121.3 492.6h0M117.2 491.3h0M132.0 496.0h0M112.9 511.3h0M110.2 510.8h0M113.6 505.0h0M107.3 510.2h0M116.4 497.8h0M124.3 503.4h0M111.8 492.8h0M121.8 490.6h0M131.0 497.7h0M109.3 497.4h0M107.5 497.1h0M120.8 499.2h0M114.4 496.5h0M119.1 507.5h0M117.6 507.3h0M119.0 492.7h0M109.3 509.1h0M118.9 498.6h0M120.0 509.0h0M115.6 498.1h0M115.3 490.2h0M120.9 500.8h0M119.4 500.2h0M118.6 506.1h0M109.8 512.1h0M107.6 509.5h0M109.4 507.9h0M112.1 491.8h0M120.8 508.9h0M130.2 509.7h0M134.4 491.2h0M115.8 492.4h0M127.4 500.2h0M127.1 507.9h0M135.0 505.2h0M131.1 502.3h0M106.5 510.0h0M106.8 491.9h0M129.7 496.3h0M124.5 490.6h0M110.5 506.1h0M105.2 501.5h0M133.1 494.8h0M125.8 506.7h0M123.2 507.2h0M125.6 490.3h0M109.9 502.1h0M134.1 494.9h0M122.2 492.9h0M130.3 500.0h0M120.2 505.1h0M108.2 506.4h0M128.8 509.3h0M112.7 495.3h0M109.1 510.2h0M117.6 498.8h0M120.1 505.7h0M113.9 497.6h0M127.8 507.5h0M113.2 491.7h0M132.8 506.4h0M122.4 499.1h0M133.7 499.7h0M110.7 492.3h0M114.9 503.5h0M115.3 511.3h0M124.1 500.3h0M124.5 503.5h0M123.1 501.1h0M120.2 501.1h0M129.8 494.3h0M128.3 496.7h0M130.3 491.6h0M119.0 500.0h0M126.1 494.6h0M112.1 493.0h0M121.4 503.0h0M104.0 494.0h0M110.2 511.5h0M118.1 502.7h0M113.0 504.8h0M129.2 505.1h0M104.0 499.9h0M119.2 491.0h0M128.5 497.2h0M113.1 504.1h0M122.1 501.2h0M130.6 501.7h0M114.6 491.4h0M121.1 498.2h0M120.6 497.8h0M104.2 490.9h0M108.9 492.1h0M130.4 503.1h0M111.4 506.0h0M123.7 491.4h0M127.3 495.1h0M134.9 493.2h0M112.9 495.6h0M130.7 508.4h0M122.0 493.4h0M117.3 505.8h0M105.8 510.7h0M130.1 511.0h0M125.7 503.9h0M134.2 496.0h0M113.5 492.8h0M109.6 508.0h0M107.0 506.7h0M116.3 509.7h0M127.5 505.5h0M130.2 491.0h0M112.2 498.3h0M117.3 505.1h0M131.3 506.7h0M132.8 505.7h0M115.1 501.4h0M127.2 508.3h0M115.5 498.0h0M123.0 495.1h0M131.4 490.0h0M124.1 500.9h0M110.0 502.8h0M118.7 511.6h0M131.4 503.2h0M131.0 509.9h0M109.1 508.6h0M129.8 512.3h0M127.5 498.8h0M110.4 504.7h0M110.5 507.0h0M121.8 508.6h0M115.1 496.8h0M132.0 504.9h0M115.7 502.6h0M117.5 504.5h0M120.0 496.4h0M134.4 509.9h0M127.5 496.3h0M110.0 506.4h0M129.5 504.7h0M110.6 506.2h0M120.2 498.4h0M122.3 500.1h0M124.1 506.9h0M134.5 492.5h0M121.7 511.3h0M124.4 503.0h0M130.4 490.7h0M128.6 504.0h0M122.1 497.0h0M123.2 492.8h0M120.3 495.8h0M132.9 508.1h0M118.7 507.0h0M115.9 501.8h0M109.0 509.3h0M127.7 507.1h0M106.6 508.4h0M104.4 502.7h0M119.1 491.3h0M117.1 510.0h0M123.4 497.1h0M129.2 498.0h0M131.8 499.0h0M106.4 511.9h0M106.2 495.7h0M127.9 492.6h0M120.9 509.3h0M122.3 497.8h0M127.5 508.6h0M122.0 504.1h0M114.0 499.2h0M134.7 511.9h0M104.1 494.4h0M111.0 507.8h0M110.2 493.8h0M127.7 493.8h0M134.3 500.2h0M131.9 508.4h0M110.4 507.7h0M116.9 495.0h0M105.4 505.8h0M121.4 496.8h0M129.8 494.4h0M117.8 492.0h0M114.9 509.9h0M119.5 493.5h0M111.3 504.5h0M112.6 510.0h0M105.9 509.6h0M123.3 508.5h0M115.0 491.6h0M109.3 504.1h0M104.8 492.5h0M128.3 509.8h0M130.5 508.8h0M121.2 509.7h0M125.6 502.5h0M117.2 490.5h0M106.8 495.6h0M118.3 492.7h0M134.1 503.0h0M127.0 510.1h0M111.0 509.9h0M133.7 496.0h0M107.9 508.0h0M131.6 508.0h0M116.7 503.5h0M107.5 495.3h0M117.0 506.8h0M106.8 510.9h0M104.9 511.8h0M111.3 508.4h0M129.4 511.5h0M118.6 505.7h0M113.1 508.7h0M107.4 509.9h0M122.4 491.4h0M133.2 497.1h0M106.1 495.8h0M104.8 496.3h0M126.0 512.2h0M123.6 509.2h0M129.5 506.1h0M115.9 495.7h0M108.8 502.3h0M110.3 506.6h0M113.9 503.0h0M120.9 504.1h0M108.8 495.8h0M125.3 494.8h0M124.8 511.7h0M116.1 511.6h0M123.0 511.2h0M120.3 506.9h0M125.2 494.4h0M120.1 503.1h0M118.4 504.8h0M132.2 507.9h0M129.2 493.2h0M125.8 504.1h0M133.1 490.1h0M109.3 512.0h0M115.5 505.9h0M122.3 499.0h0M117.6 502.6h0M134.5 502.0h0M128.5 496.8h0M126.1 503.6h0M127.0 509.8h0M106.5 511.8h0M122.9 495.8h0M118.4 492.2h0M111.2 508.9h0M126.0 509.5h0M109.0 492.4h0M115.8 501.2h0M126.0 496.7h0M126.9 503.1h0M112.9 507.7h0M106.3 503.3h0M109.8 491.0h0M118.8 501.7h0M123.0 498.4h0M132.8 507.6h0M108.8 490.1h0M133.8 499.2h0M107.3 494.0h0M125.7 494.0h0M115.6 505.2h0M114.9 504.7h0M133.4 507.8h0M123.5 504.1h0M113.6 504.4h0M124.1 503.2h0M119.2 506.9h0M110.3 506.1h0M134.3 490.8h0M111.8 512.2h0M106.6 508.4h0M122.0 491.6h0M123.5 490.2h0M130.3 496.8h0M132.6 510.2h0M108.2 499.1h0M108.7 507.1h0M107.0 491.7h0M107.6 509.3h0M111.7 497.3h0M117.8 502.4h0M116.8 511.3h0M114.6 500.7h0M130.7 495.5h0M109.4 508.8h0M113.8 510.1h0M129.5 498.4h0M114.3 492.3h0M131.1 500.0h0M114.6 494.0h0M111.0 509.7h0M108.0 502.5h0M123.4 501.7h0M119.6 498.9h0M109.9 508.5h0M131.8 502.7h0M111.8 510.5h0M110.3 493.8h0M123.4 508.7h0M121.7 492.5h0M134.3 493.5h0M114.7 512.2h0M128.6 507.0h0M106.3 509.2h0M116.4 490.2h0M128.5 510.9h0M105.5 500.2h0M131.9 497.5h0M113.4 507.5h0M117.7 512.5h0M130.5 509.3h0M125.9 494.4h0M125.3 503.0h0M119.0 502.7h0M113.5 494.5h0M132.3 498.3h0M107.3 512.0h0M119.8 505.2h0M114.5 493.4h0M114.3 508.8h0M112.5 510.5h0M113.4 510.2h0M109.5 500.0h0M108.0 493.3h0M120.2 498.2h0M120.7 494.9h0M113.6 497.2h0M131.8 491.8h0M116.9 509.2h0M121.7 495.8h0M134.9 492.4h0M108.2 490.4h0M117.6 509.3h0M112.8 496.4h0M128.7 491.7h0M104.5 504.9h0M106.7 501.9h0M108.5 503.5h0M130.4 500.2h0M112.5 504.0h0M125.7 491.3h0M111.4 498.5h0M119.7 496.2h0M124.4 495.7h0M132.0 497.9h0M110.9 491.8h0M107.9 494.8h0M131.4 499.4h0M117.7 511.6h0M134.0 507.2h0M111.4 497.4h0M119.7 495.8h0M114.8 494.8h0M111.5 506.9h0M122.7 500.0h0M118.6 503.8h0M125.2 490.5h0M130.1 500.4h0M114.6 511.6h0M127.5 497.9h0M104.8 499.8h0M117.6 498.4h0M107.0 503.0h0M111.9 507.1h0M120.4 496.6h0M129.6 500.1h0M106.6 496.3h0M105.6 499.7h0M132.2 511.2h0M124.2 493.5h0M111.4 494.6h0M115.6 504.4h0M104.7 501.0h0M117.2 504.9h0M129.6 498.9h0M122.7 496.1h0M118.1 504.3h0M105.6 501.6h0M119.6 494.1h0M111.7 508.5h0M114.8 494.3h0M112.8 501.7h0M116.4 497.9h0M114.0 494.9h0M119.6 503.5h0M106.8 503.3h0M113.5 512.0h0M133.1 493.0h0M125.6 497.8h0M107.4 509.7h0M132.2 507.7h0M123.7 512.0h0M121.2 505.2h0M124.2 509.3h0M130.5 496.8h0M110.4 502.3h0M122.3 497.9h0M130.7 509.1h0M125.3 502.0h0M125.6 494.4h0M129.0 492.9h0" stroke="#5a5ad0" stroke-width="0.70" stroke-linecap="square"/>
<rect x="105.5" y="491.5" width="28.5" height="19.5" rx="3" fill="#3a44b8" opacity="0.75"/>
<path d="M131.2 503.7h0M113.4 495.2h0M122.6 500.5h0M125.4 493.4h0M130.4 499.9h0M118.0 505.9h0M122.8 500.2h0M113.8 500.6h0M106.4 496.5h0M129.0 493.8h0M108.0 508.0h0M116.2 501.8h0M122.2 505.5h0M114.6 506.5h0M105.5 508.0h0M114.3 503.7h0M114.2 506.1h0M116.2 503.2h0M114.6 507.7h0M127.6 495.4h0M127.1 509.9h0M112.3 495.2h0M132.0 510.3h0M109.2 506.6h0M132.0 496.6h0M127.7 497.3h0M127.9 501.4h0M119.0 493.9h0M124.1 505.2h0M113.8 492.4h0M108.1 496.6h0M133.9 506.0h0M131.0 506.1h0M109.3 499.0h0M132.6 508.1h0M133.8 507.5h0M125.8 506.4h0M131.6 499.9h0M106.5 497.6h0M105.9 496.8h0M122.3 496.9h0M112.6 493.3h0M115.7 501.6h0M122.3 509.9h0M107.5 496.5h0M107.7 509.6h0M123.5 504.3h0M128.7 491.5h0M131.2 498.0h0M123.4 499.4h0M126.8 497.4h0M113.4 496.4h0M126.2 500.4h0M109.9 498.4h0M121.7 498.8h0M122.4 507.9h0M123.7 507.1h0M114.1 508.5h0M132.3 501.8h0M106.2 493.2h0M127.1 508.4h0M126.1 501.4h0M120.9 493.8h0M122.6 511.0h0M111.4 503.4h0M129.7 504.2h0M115.5 496.1h0M126.4 509.6h0M130.5 499.3h0M126.7 507.3h0M116.2 506.2h0M116.5 495.4h0M105.5 505.6h0M126.9 492.3h0M107.3 497.7h0M111.4 505.8h0M110.9 502.9h0M121.2 498.3h0M129.9 500.0h0M120.1 504.5h0M117.0 495.1h0M132.7 506.2h0M121.0 501.2h0M123.1 497.3h0M107.6 502.1h0M131.1 493.4h0M133.5 498.8h0M134.0 506.5h0M113.3 495.7h0M130.8 510.6h0M128.4 502.9h0M121.0 506.8h0M128.9 507.8h0M113.7 507.6h0M132.7 502.7h0M105.8 495.2h0M124.1 499.8h0M131.7 504.0h0M125.4 494.5h0M120.5 505.4h0M131.6 509.1h0M113.0 501.3h0M133.4 493.3h0M107.5 495.0h0M126.3 497.8h0M125.7 507.6h0M128.5 492.3h0M125.1 507.1h0M125.5 508.3h0M128.8 503.5h0M130.2 502.1h0M108.6 497.1h0M132.1 498.1h0M118.9 508.5h0M125.0 506.9h0M118.9 501.4h0M107.7 495.4h0M110.0 502.0h0M120.5 492.9h0M123.6 493.5h0M116.5 492.0h0M119.0 494.3h0M132.3 498.6h0M129.1 500.1h0M114.8 507.9h0M113.3 501.5h0M123.7 510.9h0M125.6 492.5h0M118.5 510.1h0M129.9 498.7h0M109.2 496.8h0M127.1 495.0h0M130.9 496.7h0M125.1 505.0h0M112.4 501.6h0M123.4 496.7h0M120.7 503.7h0M132.8 497.0h0M110.5 501.4h0M122.5 501.0h0M131.5 495.4h0M120.0 500.7h0M111.1 500.4h0M118.4 498.8h0M127.5 510.7h0M133.1 495.8h0M116.1 510.0h0M107.9 493.2h0M107.3 510.2h0M119.9 499.9h0M108.3 508.7h0M133.8 504.9h0M131.5 502.6h0M114.4 495.0h0M114.2 494.4h0M116.0 492.4h0M106.7 509.0h0M129.7 507.4h0M115.5 500.3h0M121.0 506.9h0M114.2 501.5h0M121.2 507.9h0M115.5 491.6h0M117.0 508.7h0M110.5 503.7h0M109.3 496.8h0M123.3 493.5h0M118.4 502.9h0M116.6 506.2h0M129.6 496.9h0M127.2 506.2h0M122.5 503.0h0M121.7 505.9h0M125.2 496.8h0M124.0 505.4h0M118.7 509.0h0M114.5 502.3h0M121.7 503.3h0M110.7 504.5h0M108.8 501.9h0M118.4 505.1h0M129.9 510.7h0M112.0 509.2h0M119.0 501.3h0M106.7 508.3h0M112.0 496.9h0M114.2 496.1h0M113.7 497.1h0M120.7 498.5h0M127.1 509.7h0M132.1 498.8h0M125.0 505.8h0M126.2 499.3h0M111.0 506.3h0M124.2 498.4h0M124.5 492.8h0M127.8 509.0h0M133.2 493.7h0M125.2 506.7h0M109.5 503.4h0M110.9 495.8h0M106.3 497.0h0M129.7 502.9h0M128.2 510.4h0M109.8 508.0h0M131.0 504.2h0M115.0 494.9h0M118.0 498.8h0M112.9 504.6h0M123.6 496.5h0" stroke="#4848c8" stroke-width="0.80" stroke-linecap="square"/>
<rect x="108.0" y="493.0" width="25.5" height="16.5" rx="2" fill="#2a88a8" opacity="0.55"/>
<path d="M111.5 501.2h0M125.5 504.0h0M123.7 507.8h0M126.7 500.3h0M126.4 504.0h0M115.9 495.8h0M116.8 504.8h0M126.5 498.0h0M121.1 494.2h0M122.5 500.4h0M127.0 507.2h0M108.4 508.9h0M111.5 508.9h0M132.6 496.7h0M114.6 495.4h0M130.7 505.5h0M132.1 506.3h0M116.4 505.8h0M116.3 498.4h0M118.1 504.6h0M115.2 502.2h0M121.8 506.1h0M119.2 499.9h0M121.4 500.6h0M126.0 494.8h0M111.6 493.6h0M117.7 507.0h0M122.6 503.5h0M131.3 506.6h0M114.6 496.7h0M121.0 496.8h0M122.5 494.3h0M117.2 504.9h0M113.6 495.5h0M126.5 496.2h0M130.4 503.1h0M130.1 501.8h0M119.7 497.3h0M108.5 508.7h0M112.7 494.3h0M131.2 501.9h0M122.1 508.2h0M126.0 497.3h0M114.4 503.8h0M124.7 496.7h0M113.5 501.4h0M108.5 506.3h0M124.1 495.5h0M122.1 502.8h0M109.3 500.1h0M127.6 500.5h0M125.9 496.9h0M133.0 504.0h0M121.5 493.2h0M116.3 493.0h0M118.4 495.9h0M113.4 498.0h0M110.8 497.7h0M120.1 495.2h0M121.6 508.7h0M125.8 508.7h0M109.8 503.9h0M113.3 508.4h0M119.9 504.9h0M127.2 495.2h0M109.6 506.4h0M128.3 500.2h0M107.6 493.4h0M127.8 504.5h0M116.7 504.2h0M128.0 493.1h0M126.4 509.1h0M129.6 507.6h0M118.4 503.0h0M110.0 506.1h0M124.2 499.7h0M108.3 496.0h0M117.4 508.2h0M119.3 507.3h0M111.9 497.2h0M113.1 497.7h0M127.7 499.1h0M115.3 504.2h0M118.6 507.5h0M125.1 506.7h0M118.1 499.5h0M118.8 509.3h0M131.5 502.4h0M119.8 494.2h0M129.3 503.1h0M117.7 495.8h0M119.2 504.7h0M114.0 497.4h0M120.3 501.2h0M107.2 494.0h0M116.7 504.7h0M116.9 493.3h0M113.3 496.2h0M126.9 496.8h0M132.5 497.8h0M111.7 493.3h0M119.8 501.5h0M127.3 504.0h0M121.1 493.9h0M131.1 497.1h0M113.1 495.9h0M122.3 503.8h0M115.2 497.2h0M107.3 502.8h0M125.5 495.0h0M113.3 505.4h0M125.5 495.3h0M132.7 504.8h0M125.6 498.3h0M132.1 500.3h0M123.6 509.2h0M128.7 495.9h0M110.4 496.5h0M110.1 507.6h0M121.1 500.9h0M116.6 501.2h0M118.4 505.0h0M117.8 507.3h0M129.0 507.3h0M126.5 495.8h0M118.0 506.9h0M116.3 502.4h0M112.5 506.6h0M115.7 499.0h0M128.3 494.5h0M107.2 500.0h0M118.6 494.9h0M117.2 505.7h0M130.0 508.2h0M127.7 494.2h0M116.5 500.4h0M107.7 505.9h0M114.2 505.9h0M124.6 497.4h0M115.9 500.4h0" stroke="#3048b8" stroke-width="0.90" stroke-linecap="square"/>
<rect x="115.5" y="493.5" width="3.0" height="16.0" rx="1.5" fill="#2a9a98" opacity="0.9"/>
<rect x="122.5" y="493.5" width="3.0" height="16.0" rx="1.5" fill="#3aa080" opacity="0.9"/>
<rect x="128.3" y="493.5" width="4.4" height="16.0" rx="2.2" fill="#48b060" opacity="0.9"/>
<rect x="129.5" y="493.5" width="2.4" height="16.0" rx="1.2" fill="#d0b838" opacity="0.9"/>
<rect x="130.2" y="493.5" width="1.1" height="16.0" rx="0.6" fill="#e88030" opacity="0.9"/>
<rect x="22.30" y="477.70" width="52.10" height="52.50" fill="none" stroke="#444" stroke-width="0.8"/>
<rect x="34.00" y="488.20" width="27.70" height="30.00" fill="none" stroke="#333" stroke-width="0.8"/>
<text x="45.70" y="485.45" font-size="6.7" text-anchor="middle">63,4</text>
<rect x="89.80" y="477.70" width="53.00" height="52.50" fill="none" stroke="#444" stroke-width="0.8"/>
<rect x="101.00" y="488.20" width="28.60" height="30.00" fill="none" stroke="#333" stroke-width="0.8"/>
<text x="112.70" y="485.45" font-size="6.7" text-anchor="middle">36,9</text>
<line x1="21.60" y1="558.21" x2="23.40" y2="558.21" stroke="#555" stroke-width="0.5"/>
<text x="20.90" y="559.19" font-size="2.8" text-anchor="end" fill="#666">10⁵</text>
<line x1="21.60" y1="569.78" x2="23.40" y2="569.78" stroke="#555" stroke-width="0.5"/>
<text x="20.90" y="570.76" font-size="2.8" text-anchor="end" fill="#666">10⁴</text>
<line x1="21.60" y1="581.35" x2="23.40" y2="581.35" stroke="#555" stroke-width="0.5"/>
<text x="20.90" y="582.33" font-size="2.8" text-anchor="end" fill="#666">10³</text>
<line x1="21.60" y1="591.87" x2="23.40" y2="591.87" stroke="#555" stroke-width="0.5"/>
<text x="20.90" y="592.85" font-size="2.8" text-anchor="end" fill="#666">0</text>
<line x1="33.82" y1="606.60" x2="33.82" y2="608.40" stroke="#555" stroke-width="0.5"/>
<text x="33.82" y="612.08" font-size="2.8" text-anchor="middle" fill="#666">0</text>
<line x1="53.10" y1="606.60" x2="53.10" y2="608.40" stroke="#555" stroke-width="0.5"/>
<text x="53.10" y="612.08" font-size="2.8" text-anchor="middle" fill="#666">10³</text>
<line x1="66.12" y1="606.60" x2="66.12" y2="608.40" stroke="#555" stroke-width="0.5"/>
<text x="66.12" y="612.08" font-size="2.8" text-anchor="middle" fill="#666">10⁴</text>
<line x1="73.94" y1="606.60" x2="73.94" y2="608.40" stroke="#555" stroke-width="0.5"/>
<text x="73.94" y="612.08" font-size="2.8" text-anchor="middle" fill="#666">10⁵</text>
<rect x="20.20" y="590.37" width="1.50" height="3.00" fill="#222" stroke="none" stroke-width="1"/>
<g clip-path="url(#fc9)">
<path d="M45.4 578.4h0M39.9 579.7h0M44.6 588.9h0M44.6 570.8h0M58.4 579.2h0M44.7 580.5h0M45.3 563.4h0M44.6 585.7h0M52.4 572.4h0M42.3 580.6h0M61.6 579.9h0M46.9 573.7h0M41.8 574.1h0M44.9 571.2h0M41.7 569.9h0M54.0 581.7h0M43.6 575.9h0M51.2 578.7h0M41.1 559.9h0M30.0 581.7h0M43.4 572.5h0M30.4 581.7h0M35.6 578.3h0M44.2 573.9h0M35.6 579.5h0M33.8 573.4h0M43.8 584.8h0M41.4 578.2h0M49.6 561.5h0M37.3 575.0h0M39.0 582.7h0M40.6 581.3h0M52.2 575.5h0M47.7 586.8h0M52.5 577.7h0M31.3 573.0h0M44.1 579.5h0M46.2 577.3h0M36.7 581.3h0M52.5 577.0h0M45.3 582.8h0M41.8 580.1h0M52.8 572.9h0M44.4 572.3h0M36.2 565.1h0M47.4 593.6h0M42.2 587.6h0M53.3 574.9h0M52.3 574.8h0M28.2 583.2h0M42.9 576.2h0M50.8 584.0h0M43.5 579.4h0M47.8 572.2h0M51.3 574.0h0M48.4 583.7h0M53.0 565.0h0M39.4 575.6h0M38.9 576.6h0M44.4 578.1h0M63.5 579.2h0M45.6 572.7h0M43.3 576.3h0M50.2 569.6h0M43.4 570.7h0M31.5 582.3h0M43.7 579.9h0M58.4 587.1h0M44.5 579.8h0M41.1 576.1h0M32.7 582.5h0M45.9 584.3h0M59.7 572.1h0M46.5 576.2h0M55.1 576.1h0M58.7 592.8h0M61.6 590.6h0M48.2 578.0h0M34.2 579.0h0M32.3 571.4h0M55.0 584.1h0M36.4 592.1h0M36.4 570.4h0M56.9 588.1h0M43.7 581.8h0M32.7 582.9h0M41.0 584.1h0M40.2 574.5h0M51.0 582.0h0M42.2 568.0h0M47.8 586.7h0M51.4 568.8h0M46.0 579.2h0M57.5 576.6h0M43.1 588.1h0M35.1 573.1h0M37.5 585.0h0M39.2 581.8h0M39.1 587.0h0M49.2 573.3h0M50.4 579.7h0M45.3 571.4h0M60.4 578.3h0M42.3 578.5h0M44.8 569.8h0M53.7 567.4h0M52.4 565.5h0M34.1 585.4h0M33.4 577.8h0M47.3 586.4h0M59.2 583.3h0M49.5 585.1h0M53.2 567.3h0M50.2 572.1h0M66.0 585.6h0M39.6 589.7h0M37.7 581.3h0M35.3 575.4h0M47.0 569.0h0M49.9 584.5h0M58.0 584.6h0M48.4 583.0h0M38.8 574.3h0M56.2 570.4h0M40.8 583.5h0M44.3 569.7h0M40.3 573.1h0M35.3 573.8h0M51.0 573.9h0M46.7 573.2h0M43.5 582.1h0M48.2 576.2h0M42.9 584.6h0M42.1 568.2h0M50.7 582.0h0M44.2 574.0h0M55.7 585.9h0M48.3 577.5h0M50.8 588.9h0M40.1 583.1h0M28.7 574.0h0M50.1 578.6h0M35.6 582.9h0M50.7 582.7h0M42.3 576.5h0M43.6 579.5h0M46.0 577.0h0M50.9 585.0h0M46.3 585.9h0M31.8 594.2h0M38.2 575.0h0M48.9 584.2h0M46.9 567.3h0M42.3 570.0h0M52.4 574.9h0M25.9 572.8h0M47.3 570.4h0M48.9 566.8h0M42.8 583.8h0M45.4 571.2h0M39.1 584.0h0M50.5 579.8h0M51.0 577.1h0M45.3 576.8h0M41.6 584.8h0M37.6 591.9h0M51.5 576.1h0M56.7 588.6h0M47.7 569.9h0M46.0 577.8h0M40.4 568.3h0M38.0 578.7h0M43.8 583.7h0M35.4 581.9h0M38.8 580.5h0M46.8 586.9h0M49.7 575.9h0M46.6 568.2h0M45.5 581.0h0M47.3 574.3h0M47.6 579.4h0M48.1 571.7h0M51.5 577.5h0M36.0 576.6h0M54.3 587.6h0M42.9 572.6h0M42.4 582.0h0M55.9 578.7h0M43.2 587.0h0M48.7 572.6h0M43.3 583.5h0M42.5 577.8h0M39.7 581.1h0M56.6 585.4h0M41.9 570.4h0M56.6 582.2h0M33.0 586.7h0M41.4 573.7h0M45.1 568.8h0M36.3 586.7h0M42.9 580.7h0M55.6 579.9h0M44.3 581.3h0M58.2 580.8h0M42.1 590.1h0M56.6 570.0h0M48.1 592.9h0M33.9 568.7h0M50.9 574.4h0M32.9 587.3h0M44.1 580.4h0M54.9 579.5h0M38.2 592.2h0M53.0 577.9h0M42.4 568.9h0M50.8 569.3h0M59.6 565.3h0M52.0 570.8h0M37.1 582.3h0M46.1 582.4h0M36.5 576.6h0M42.4 579.3h0M52.1 576.8h0M37.7 578.3h0M31.9 573.6h0M55.1 574.1h0M52.1 575.1h0M37.8 578.5h0M49.1 576.8h0M47.1 588.5h0M45.2 579.9h0M38.9 582.8h0M39.4 578.8h0M41.2 581.9h0M49.3 584.4h0M45.7 581.7h0M60.1 571.7h0M37.8 583.0h0M46.3 578.2h0M25.8 576.2h0M52.8 580.9h0M45.3 576.6h0M39.7 574.9h0M45.4 565.4h0M55.3 569.9h0M55.0 582.5h0M38.7 575.5h0M47.7 584.5h0M37.8 580.6h0M50.5 576.1h0M47.8 574.6h0M41.8 571.0h0M37.8 582.1h0M48.8 580.9h0M40.6 579.7h0M51.9 569.3h0M36.5 570.2h0M45.6 578.3h0M59.6 584.0h0M23.5 578.9h0" stroke="#222" stroke-width="0.64" stroke-linecap="square"/>
<path d="M40.8 580.5h0M37.2 569.5h0M37.8 578.8h0M40.7 579.1h0M52.0 571.1h0M40.5 577.5h0M46.8 572.8h0M42.9 571.8h0M50.2 580.1h0M52.3 583.0h0M45.2 580.1h0M46.5 576.6h0M41.7 574.9h0M44.3 577.5h0M49.0 577.0h0M44.3 583.9h0M40.4 571.7h0M54.9 571.3h0M39.9 583.8h0M41.9 573.8h0M43.3 575.3h0M38.0 567.8h0M38.5 570.8h0M40.2 572.6h0M46.7 579.3h0M39.6 584.1h0M52.6 568.3h0M37.7 584.8h0M43.8 576.0h0M40.9 575.9h0M47.7 578.8h0M42.1 573.8h0M40.5 581.2h0M40.5 575.9h0M43.4 577.2h0M36.5 585.8h0M43.2 570.0h0M48.8 570.2h0M47.1 578.0h0M46.6 570.9h0M43.8 575.6h0M45.7 572.7h0M44.6 570.7h0M39.2 580.8h0M54.6 578.2h0M48.1 571.9h0M38.1 570.6h0M39.5 577.7h0M34.5 566.1h0M49.0 570.6h0M45.2 579.8h0M41.8 582.2h0M48.7 572.8h0M38.4 574.1h0M44.8 579.7h0M53.9 575.4h0M38.6 570.9h0M43.2 577.5h0M43.9 576.6h0M47.1 585.2h0M43.4 578.4h0M43.8 576.6h0M46.0 579.6h0M45.0 579.2h0M41.1 574.8h0M48.7 582.3h0M41.7 582.7h0M41.3 583.3h0M47.0 576.7h0M45.7 573.7h0M40.7 574.2h0M47.1 579.4h0M41.7 576.8h0M37.8 575.7h0M37.7 582.4h0M46.9 573.5h0M40.1 583.8h0M43.3 571.1h0M39.5 573.8h0M42.0 570.7h0M45.7 573.6h0M52.2 580.2h0M35.3 572.3h0M42.8 568.8h0M36.6 583.4h0M39.2 573.4h0M44.1 578.3h0M43.5 580.4h0M39.6 582.0h0M49.2 575.1h0M42.6 575.9h0M40.9 571.3h0M43.8 572.4h0M39.3 572.3h0M44.0 571.8h0M47.6 568.4h0M37.2 575.5h0M41.3 571.3h0M54.5 574.5h0M35.4 576.6h0M51.5 582.5h0M42.2 575.8h0M52.6 577.1h0M44.4 570.4h0M39.9 578.4h0M32.2 577.5h0M42.0 575.5h0M43.6 578.3h0M49.4 570.0h0M47.7 574.4h0M42.3 578.0h0M42.9 580.6h0M39.5 579.1h0M41.6 567.7h0M36.3 582.2h0M42.0 579.9h0M43.6 574.6h0M56.9 582.9h0M38.0 577.3h0M44.4 567.1h0M36.8 582.4h0M50.2 583.3h0M38.8 578.8h0M44.9 576.7h0M41.1 577.9h0M34.0 563.6h0M41.0 583.8h0M37.0 573.3h0M44.0 571.4h0M44.4 574.2h0M40.5 571.5h0M44.2 579.6h0M49.7 574.4h0M37.1 576.6h0M47.1 571.3h0M45.1 584.8h0M44.5 569.6h0M40.9 573.0h0M50.8 575.5h0M47.7 583.5h0M41.4 577.2h0M45.6 574.3h0M41.0 577.5h0M36.8 575.7h0M48.4 566.5h0M48.6 572.1h0M33.4 582.7h0M43.6 580.4h0M38.6 574.8h0M40.7 575.6h0M43.0 577.4h0M39.6 577.9h0M44.5 573.3h0M45.8 583.2h0M46.3 584.6h0M40.3 576.0h0M37.8 561.8h0M40.7 581.9h0M31.3 573.3h0M44.8 576.4h0M36.3 582.0h0M37.8 579.1h0M42.3 576.2h0M53.4 578.8h0M38.7 579.5h0M35.2 573.8h0M44.6 575.3h0M42.7 576.2h0M34.2 574.2h0M38.2 577.1h0M47.7 571.1h0M48.4 573.6h0M40.2 582.9h0M42.8 576.5h0M51.7 584.8h0M42.2 575.6h0M43.1 568.9h0M57.4 580.5h0M45.7 581.3h0M41.6 571.4h0M39.7 580.7h0M34.6 568.4h0M54.0 567.3h0M44.9 571.7h0M36.3 584.3h0M46.7 574.7h0M44.0 572.4h0M48.3 578.2h0M48.0 573.2h0M46.8 568.6h0M44.2 572.9h0M44.8 575.5h0M40.9 576.4h0M35.3 582.8h0M49.0 563.5h0M37.4 574.5h0M45.9 581.0h0M46.8 574.2h0M45.6 573.5h0M44.0 573.7h0M45.4 576.0h0M48.7 579.3h0M44.3 569.5h0M36.4 580.5h0M44.3 580.3h0M42.1 579.6h0M46.3 577.3h0M36.4 574.9h0M39.5 581.8h0M38.6 583.7h0M51.6 577.2h0M48.3 573.0h0M33.8 566.8h0M44.4 578.1h0M35.0 576.2h0M37.4 575.3h0M37.9 578.6h0M44.4 575.3h0M41.8 574.9h0M45.2 573.6h0M44.3 572.7h0M39.0 572.5h0M48.4 575.1h0M37.1 576.1h0M43.0 585.5h0M45.0 579.0h0M40.9 567.0h0M32.5 570.3h0M44.7 585.8h0M43.4 573.4h0M47.4 579.1h0M37.9 579.1h0M42.4 573.3h0M42.9 580.5h0M45.9 580.6h0M39.8 574.4h0M48.3 582.0h0M51.4 581.1h0M40.3 574.4h0M52.6 577.0h0M51.3 577.5h0M35.5 575.0h0M45.5 583.4h0M42.8 582.5h0M49.6 575.2h0M45.0 579.3h0M35.1 581.1h0M44.5 572.2h0M39.0 574.3h0M38.6 576.7h0M47.5 575.0h0M40.1 582.2h0M43.5 578.7h0M34.2 579.4h0M40.3 579.2h0M41.3 582.4h0M42.3 582.0h0M41.6 576.4h0M38.9 584.0h0M45.0 583.8h0M48.1 578.9h0M36.6 579.6h0M45.6 576.6h0M33.8 582.2h0M33.1 576.4h0M28.6 573.9h0M51.9 580.8h0M42.9 579.7h0M37.9 575.7h0M54.7 576.2h0M42.4 573.2h0M43.6 581.3h0M41.5 579.4h0M44.1 579.9h0M42.3 578.6h0M38.5 584.8h0M33.7 568.9h0M45.0 575.8h0M47.3 577.7h0M26.0 573.3h0M50.6 577.7h0M44.0 573.1h0M44.1 567.5h0M49.1 580.1h0M34.5 577.8h0M47.4 581.9h0M44.3 576.6h0M38.8 578.2h0M39.9 577.8h0M48.2 576.4h0M38.3 576.6h0M45.2 574.7h0M46.0 575.3h0M46.7 573.2h0M40.0 574.6h0M44.5 573.6h0M44.6 570.1h0M55.0 568.4h0M44.0 573.9h0M43.9 574.6h0M47.2 567.1h0M43.9 577.5h0M44.7 572.6h0M39.0 569.0h0M48.6 574.5h0M49.0 568.2h0M43.6 572.2h0M47.5 574.1h0M47.0 573.9h0M41.7 576.6h0M52.0 582.9h0M35.2 578.5h0M35.1 577.7h0M40.2 576.1h0M40.2 582.4h0M49.6 585.5h0M49.0 578.7h0M48.6 571.2h0M44.4 578.2h0M41.6 572.1h0M45.1 577.8h0M42.4 575.6h0M40.1 585.7h0M43.7 575.7h0M43.5 577.9h0M42.2 570.7h0M44.0 568.3h0M42.6 574.4h0M41.7 576.8h0M44.4 572.3h0M32.7 578.7h0M49.8 576.2h0M35.3 582.5h0M44.9 573.9h0M31.3 579.6h0M54.0 575.5h0M40.0 576.7h0M45.6 574.6h0M39.0 573.8h0M45.7 573.0h0M36.0 582.6h0M40.3 560.6h0M44.9 578.1h0M40.4 571.8h0M47.4 573.4h0M48.4 578.0h0M43.1 584.6h0M46.6 568.1h0M48.0 580.2h0M47.4 585.8h0M38.4 570.7h0M45.0 582.2h0M44.2 577.5h0M42.6 578.3h0M36.0 579.0h0M46.5 574.9h0M35.4 577.5h0M41.3 580.1h0M36.5 582.7h0M37.5 582.4h0M45.6 579.6h0M42.1 579.6h0M45.8 580.3h0M45.9 570.4h0M47.4 576.3h0M41.8 579.7h0M40.4 576.6h0M44.7 572.0h0M48.7 577.9h0M40.0 577.8h0M40.6 582.8h0M49.8 576.4h0M42.9 577.7h0M41.3 579.5h0M38.2 578.8h0M42.4 579.1h0M54.0 571.8h0M41.2 566.3h0M35.5 573.4h0M36.1 578.9h0M47.5 570.7h0M45.0 570.6h0M38.0 583.2h0M45.9 574.5h0M43.3 577.0h0M43.1 579.3h0M43.9 579.1h0M41.8 579.0h0M44.9 576.1h0M54.2 577.3h0M36.9 581.5h0M42.7 577.2h0M54.0 578.9h0M48.2 578.0h0M42.4 582.9h0M36.5 582.2h0M44.4 582.0h0M49.1 575.8h0M44.5 576.1h0M46.6 573.4h0M50.8 576.4h0M42.7 584.2h0M46.0 581.3h0M42.8 573.8h0M52.0 579.6h0M46.2 583.5h0M39.8 577.0h0M46.1 573.2h0M42.2 584.6h0M36.4 585.9h0M44.8 570.7h0M43.2 581.0h0M39.8 582.6h0M38.3 578.7h0M40.7 572.9h0M48.1 579.1h0M45.5 574.0h0M41.6 585.8h0M47.1 575.5h0M45.0 583.5h0M47.3 573.3h0M42.7 578.8h0M50.8 576.8h0M42.7 572.6h0M34.6 577.8h0M40.5 570.1h0M46.2 574.8h0M49.9 575.4h0M39.8 582.7h0M41.3 580.9h0M47.0 569.2h0M35.6 571.8h0M46.3 573.2h0M53.6 581.4h0M48.0 578.3h0M48.0 579.8h0M43.3 575.3h0M37.9 576.6h0M37.8 568.1h0M42.2 575.1h0M39.6 580.5h0M48.2 584.1h0M40.0 579.8h0M44.4 581.9h0M43.9 574.5h0M38.8 576.5h0M47.7 578.2h0M38.5 571.8h0M50.8 576.3h0M50.3 573.4h0M38.7 567.7h0M48.5 570.8h0M41.1 579.7h0M43.8 575.7h0M35.7 582.0h0M41.4 581.6h0M38.9 581.8h0M43.8 575.1h0M34.7 581.3h0M31.3 582.9h0M42.2 581.8h0M47.7 584.5h0M33.7 577.6h0M41.5 573.2h0M44.1 575.2h0M50.8 572.9h0M43.2 582.4h0M39.7 580.6h0M48.2 574.9h0M41.7 575.8h0M48.3 578.3h0M32.7 581.5h0M33.5 572.5h0M32.7 571.8h0M42.5 577.4h0M43.1 569.9h0M44.2 579.5h0M32.5 578.2h0M40.4 572.3h0M38.8 574.7h0M40.5 578.3h0M42.6 575.6h0M40.9 576.2h0M48.3 582.4h0M46.9 572.4h0M50.6 574.9h0M36.4 575.0h0M45.3 576.6h0M43.0 572.1h0M46.8 575.8h0M42.3 579.5h0M48.7 574.1h0M42.9 578.1h0M42.2 576.1h0M44.9 574.5h0M43.8 567.6h0M41.4 582.3h0M40.9 571.9h0M34.2 581.4h0M42.7 582.3h0M49.5 576.8h0M47.9 575.7h0M42.6 572.5h0M39.4 579.6h0M46.2 573.8h0M49.0 578.1h0M37.1 573.4h0M38.9 577.2h0M42.2 573.2h0M42.8 579.3h0M46.2 577.6h0M40.7 572.5h0M39.5 577.4h0M42.6 583.3h0M45.5 575.6h0M38.3 565.9h0M32.8 573.8h0M46.7 583.7h0M45.7 578.5h0M43.3 576.7h0M43.2 572.3h0M37.7 582.0h0M42.9 585.4h0M48.4 584.7h0M31.3 576.5h0M49.9 567.3h0M41.5 581.0h0M41.2 581.1h0M33.7 573.5h0M40.0 581.6h0M42.1 581.3h0M48.9 578.3h0M38.0 572.5h0M47.1 572.5h0M41.0 585.4h0M45.0 581.5h0M41.8 573.1h0M43.2 578.4h0M38.5 575.0h0M43.8 574.0h0M40.8 574.8h0M43.8 578.6h0M38.0 570.7h0M34.4 579.8h0M46.2 568.0h0M39.6 572.6h0M35.3 580.5h0M42.0 579.7h0M54.7 576.4h0M37.6 569.5h0M51.1 579.1h0M39.5 574.4h0M41.7 583.2h0M50.1 572.6h0M49.4 578.1h0M41.2 579.3h0M49.2 578.5h0M42.5 580.5h0M32.3 576.5h0M41.9 582.3h0M37.9 570.5h0M45.1 573.9h0M44.3 575.2h0M35.1 578.4h0M46.7 574.0h0M39.6 570.2h0M51.0 578.7h0M44.4 574.4h0M40.7 580.8h0M54.6 572.2h0M45.0 580.6h0M44.2 577.5h0M45.6 584.7h0M45.2 582.5h0M39.5 572.8h0M44.2 574.9h0M42.7 578.7h0M50.6 572.2h0M40.9 577.1h0M48.2 570.2h0M51.1 568.6h0M40.0 572.0h0M43.9 574.2h0M45.3 573.2h0M33.6 579.9h0M47.5 576.7h0M45.0 572.3h0M49.5 572.4h0M43.8 581.7h0M38.5 581.7h0M41.6 571.3h0M51.8 580.6h0M46.1 582.2h0M45.5 572.0h0M49.0 578.3h0M45.5 578.1h0M43.8 579.2h0M35.6 573.0h0M31.5 580.5h0M47.0 578.3h0M40.3 581.5h0M41.0 573.3h0M38.6 578.5h0M42.1 577.8h0M43.0 575.4h0M39.8 578.0h0M36.2 579.9h0M46.0 567.8h0M40.1 573.9h0M45.8 576.7h0M46.7 573.6h0M39.6 579.4h0M41.3 579.0h0M41.9 581.5h0M41.3 576.9h0M43.9 577.2h0M35.9 577.8h0M46.7 573.4h0M36.1 571.6h0M36.9 575.3h0M47.5 582.0h0M42.4 572.7h0M41.2 573.9h0M46.5 579.0h0M38.3 575.2h0M42.9 585.0h0M42.6 578.2h0M40.6 566.6h0M41.6 569.8h0M50.5 575.1h0M47.0 580.1h0M37.8 580.1h0M46.9 581.8h0M41.9 573.1h0M39.7 573.6h0M40.4 572.0h0M48.4 575.3h0M44.8 576.9h0M42.2 574.6h0M43.5 571.3h0M40.1 580.3h0M46.5 571.8h0M38.1 579.0h0M38.2 574.1h0M41.7 572.0h0M42.5 578.7h0M40.0 577.3h0M44.0 579.1h0M36.2 584.2h0M39.0 576.2h0M37.5 577.3h0M51.6 579.1h0M27.7 575.9h0M40.5 574.0h0M45.4 576.3h0M44.4 578.7h0M44.5 578.5h0M45.3 575.0h0M40.2 576.7h0M42.2 578.3h0M40.2 579.2h0M40.7 562.9h0M45.0 581.2h0M32.1 567.6h0M49.7 579.1h0M38.1 579.5h0M40.7 569.9h0M36.1 581.9h0M39.8 574.9h0M44.1 579.3h0M46.8 568.2h0M46.5 581.6h0M44.6 577.2h0M40.3 571.3h0M38.2 578.6h0M38.3 577.7h0M40.5 585.9h0M40.4 575.0h0M42.0 577.5h0M47.3 581.3h0M48.1 577.4h0M38.0 572.7h0M47.2 579.3h0M38.8 583.7h0M47.4 572.0h0M44.1 572.0h0M50.9 575.5h0M45.3 574.8h0M40.5 570.2h0M39.4 567.5h0M43.3 578.7h0M39.7 575.3h0M53.8 574.6h0M34.0 577.5h0M34.7 570.0h0M39.8 575.5h0M46.9 576.3h0M49.6 581.6h0M37.2 569.1h0M45.1 584.8h0M42.4 575.9h0M43.4 572.2h0M45.9 579.5h0M47.1 575.2h0M32.5 578.7h0M41.8 572.3h0M39.8 581.4h0M35.2 574.8h0M41.0 574.2h0M49.3 570.7h0M40.2 576.5h0M33.5 579.1h0M42.4 580.4h0M40.1 569.6h0M45.5 572.6h0M42.6 573.3h0M50.3 578.6h0M43.9 585.7h0M40.9 580.2h0M43.7 575.6h0M47.4 575.7h0M47.4 577.5h0M45.7 578.9h0M36.6 576.4h0M49.5 585.8h0M46.1 578.7h0M53.2 576.5h0M43.5 577.2h0M39.7 573.7h0M47.1 580.0h0M43.8 578.2h0M39.3 576.3h0M39.7 580.8h0M49.8 576.2h0M39.1 574.9h0M39.2 577.4h0M49.6 568.0h0M45.7 572.5h0M42.2 572.8h0M46.2 565.8h0M44.0 578.2h0M49.5 576.3h0M45.1 568.0h0M43.8 574.5h0M43.0 580.8h0M48.6 571.3h0M43.6 578.9h0M46.0 567.7h0M47.4 577.1h0M47.1 579.6h0M47.9 577.0h0M43.8 577.8h0M45.8 576.0h0M50.2 573.3h0M40.2 580.1h0M40.2 579.1h0M40.6 575.4h0M38.1 573.7h0M47.7 585.6h0M37.5 571.3h0M42.5 570.6h0M37.9 577.7h0M42.9 574.9h0M34.2 573.2h0M37.5 578.0h0M39.8 569.2h0M39.9 581.9h0M45.8 570.8h0M47.2 585.5h0M42.0 575.3h0M40.3 571.3h0M46.0 574.7h0M47.4 577.0h0M36.1 579.4h0M39.9 583.7h0M43.8 575.6h0M44.8 576.4h0M42.9 578.4h0M46.8 565.9h0M42.3 582.3h0M51.4 574.8h0M42.7 581.5h0M51.8 571.9h0M36.4 577.1h0M47.5 578.4h0M43.5 575.3h0M45.1 582.0h0M46.1 576.8h0M43.1 573.6h0M31.3 576.8h0M35.5 575.4h0M48.6 578.7h0M37.4 575.5h0M41.2 576.7h0M39.5 573.7h0M41.9 573.2h0M47.7 573.9h0M46.0 571.8h0M41.9 581.2h0M41.8 581.9h0M40.4 579.2h0M56.2 576.4h0M36.6 576.1h0M46.1 570.8h0M37.9 579.2h0M43.6 574.9h0M41.2 577.5h0M41.9 576.1h0M40.5 577.4h0M35.7 585.7h0M36.7 582.3h0M44.0 579.6h0M37.0 579.5h0M44.0 579.8h0M46.7 577.9h0M37.8 580.3h0M41.3 581.8h0M43.9 572.9h0M41.3 569.1h0M50.3 573.1h0M38.4 571.6h0M35.2 583.0h0M44.8 580.5h0M47.2 580.3h0M48.9 572.8h0M53.3 577.4h0M46.1 577.5h0M41.9 576.6h0M45.0 569.9h0M50.0 575.1h0M39.7 577.9h0M40.1 582.3h0M44.6 574.0h0M35.9 575.4h0M43.9 583.5h0M42.1 580.6h0M46.4 586.0h0M40.6 582.3h0M39.4 576.4h0M37.4 576.3h0M37.8 575.1h0M46.9 582.5h0M38.7 583.7h0M37.9 584.3h0M43.1 583.0h0M47.2 575.8h0M45.1 571.1h0M49.7 576.6h0M41.6 577.7h0M45.6 569.9h0M45.5 575.6h0M38.7 581.0h0M41.5 578.4h0M39.4 580.0h0M37.6 576.7h0M37.8 579.0h0M41.5 573.4h0M33.4 577.5h0M44.6 568.7h0M48.2 574.2h0M47.6 569.7h0M37.7 582.5h0M36.6 577.1h0M47.4 582.7h0M40.4 580.6h0M34.7 575.3h0M53.0 575.2h0M40.9 573.3h0M36.2 574.8h0M36.4 584.4h0M40.7 581.6h0M46.4 576.0h0M33.1 581.2h0M48.0 574.6h0M41.0 570.9h0M52.5 581.7h0M50.9 569.4h0M44.4 582.0h0M47.2 568.4h0M44.0 575.3h0M41.1 572.7h0M46.8 580.6h0M46.7 578.3h0M38.4 578.4h0M40.5 581.1h0M40.1 576.4h0M43.5 580.5h0M49.0 577.2h0M46.1 574.6h0M46.6 573.6h0M34.7 578.9h0M37.5 578.4h0M44.7 575.7h0M39.1 577.9h0M36.7 576.6h0M41.5 573.0h0M54.1 571.6h0M44.2 570.4h0M43.5 575.1h0M39.0 573.1h0M39.5 582.6h0M35.5 583.3h0M46.1 578.7h0M40.3 576.9h0M48.6 581.0h0M42.8 578.9h0M40.1 568.0h0M37.7 572.4h0M40.8 584.9h0M45.2 571.2h0M43.7 581.5h0M37.8 580.7h0M45.1 578.8h0M40.4 575.7h0M46.3 581.3h0M34.2 579.3h0M49.3 575.9h0M39.8 572.8h0M39.2 573.8h0M47.1 572.6h0M43.2 581.2h0M43.7 575.6h0M51.3 576.2h0M38.9 576.4h0M43.0 580.6h0M41.9 570.2h0M38.1 576.5h0M40.6 577.7h0M37.5 581.3h0M54.9 577.7h0M48.4 577.0h0M41.3 581.9h0M42.5 582.6h0M53.3 579.0h0M51.9 572.2h0M42.1 574.2h0M38.4 572.3h0M44.6 571.7h0M44.0 572.7h0M45.9 577.0h0M47.4 576.3h0M45.0 578.5h0M51.7 574.1h0M41.5 577.1h0M43.1 576.2h0M43.0 571.8h0M42.4 577.1h0M37.6 568.7h0M33.3 579.3h0M44.8 580.2h0M40.1 577.7h0M49.0 576.1h0M50.1 576.5h0M45.8 579.9h0M44.9 572.8h0M41.9 585.4h0M42.0 586.0h0M57.5 582.4h0M38.3 572.7h0M44.1 572.9h0M45.8 573.8h0M46.8 572.5h0M53.3 569.7h0M43.9 574.1h0M32.3 579.0h0M39.8 577.6h0M40.4 577.0h0M48.9 579.3h0M48.1 576.8h0M39.4 583.8h0M39.5 580.2h0M41.0 574.4h0M39.7 576.9h0M35.6 581.3h0M54.5 572.6h0M43.4 575.3h0M38.7 578.4h0M39.0 580.0h0M42.8 576.1h0M41.6 575.7h0M42.9 566.0h0M38.7 569.8h0M54.0 575.3h0M41.3 582.5h0M37.0 577.1h0M42.2 576.9h0M42.4 577.4h0M49.7 571.3h0M49.7 578.8h0M48.1 572.2h0M39.9 572.2h0M39.6 579.1h0M46.6 578.5h0M44.3 581.1h0M40.0 579.3h0M46.6 576.3h0M35.9 581.9h0M42.0 577.6h0M38.8 574.9h0M44.3 572.6h0M40.1 581.2h0M41.2 574.8h0M50.8 579.5h0M43.0 584.8h0M41.0 576.1h0M42.9 577.4h0M37.4 573.6h0M42.3 572.3h0M51.4 571.3h0M40.8 571.6h0M48.3 574.2h0M53.5 576.7h0M47.0 578.8h0M36.4 583.1h0M37.9 573.1h0M53.4 575.8h0M39.7 572.7h0M44.4 585.7h0M39.9 567.0h0M32.5 582.6h0M46.7 578.2h0M51.1 573.8h0M45.0 580.3h0M44.3 582.8h0M40.6 570.8h0M41.5 577.5h0M37.4 585.5h0M42.4 570.5h0M38.7 574.2h0M46.4 576.9h0M42.7 577.2h0M40.4 579.6h0M38.6 579.0h0M44.1 571.1h0M48.2 573.0h0M40.6 580.9h0M41.8 574.2h0M39.7 565.3h0M42.0 569.7h0M43.4 575.9h0M38.4 574.9h0M45.1 580.6h0M50.4 578.4h0M47.0 579.0h0M56.4 584.6h0M43.6 582.1h0M47.1 577.0h0M42.2 577.0h0M48.3 572.1h0M48.3 577.6h0M46.8 579.8h0M43.5 573.5h0M45.8 572.0h0M33.2 567.8h0M46.7 582.9h0M48.1 573.8h0M44.1 584.2h0M41.7 576.8h0M45.3 575.1h0M42.9 573.7h0M37.2 578.1h0M42.1 582.3h0M47.4 576.2h0M33.9 569.6h0M49.2 583.9h0M49.2 573.5h0M46.8 577.5h0M43.8 581.8h0M46.3 584.6h0M51.1 580.5h0M37.6 579.0h0M38.5 577.8h0M36.4 576.3h0M41.6 579.5h0M40.8 578.6h0M38.7 572.4h0M42.4 570.1h0M40.4 574.2h0M41.0 577.5h0M46.2 566.9h0M39.9 571.9h0M40.5 581.7h0M43.8 571.3h0M41.3 575.6h0M44.2 582.1h0M45.9 573.9h0M38.6 576.3h0M46.1 578.9h0M41.0 572.5h0M37.2 578.2h0M37.4 572.8h0M39.1 567.7h0M39.0 571.9h0M47.5 573.8h0M41.0 576.1h0M38.6 572.1h0M44.7 575.8h0M43.5 584.1h0M44.7 569.9h0M44.0 585.2h0M48.2 569.5h0M39.9 571.9h0M41.6 574.6h0M43.0 566.1h0M37.5 572.3h0M42.7 569.8h0M49.1 583.1h0M43.9 573.3h0M40.8 575.8h0M43.1 580.8h0M34.3 576.8h0M50.9 573.8h0M41.2 580.1h0M48.2 579.7h0M38.3 580.4h0M36.6 579.7h0M43.3 571.8h0M35.5 576.7h0M45.3 582.5h0M46.3 578.9h0M37.5 578.4h0M35.3 582.4h0M41.7 584.6h0M42.5 573.5h0M41.4 583.5h0M36.8 573.9h0M44.9 574.5h0M49.4 585.6h0M39.9 574.1h0M49.5 582.4h0M43.1 572.8h0M50.1 580.8h0M41.6 584.0h0M43.3 585.8h0M41.2 579.3h0M36.8 571.0h0M47.4 580.5h0M47.6 574.6h0M41.6 569.5h0M40.0 585.6h0M44.8 571.7h0M43.6 578.7h0M47.1 572.0h0M37.9 575.9h0M46.2 576.7h0M52.7 580.2h0M47.8 574.7h0M38.2 572.3h0M56.7 574.4h0M50.9 584.3h0M39.5 573.7h0M43.3 575.3h0M46.9 568.0h0M46.4 578.3h0M54.9 575.4h0M33.7 568.9h0M47.5 578.8h0M43.9 575.3h0M41.6 578.7h0M30.5 569.4h0M33.6 576.9h0M47.8 578.4h0M55.6 574.0h0M43.0 579.2h0M41.7 585.9h0M42.7 580.4h0M34.7 579.0h0M34.2 575.7h0M33.8 577.7h0M38.9 581.4h0M39.4 579.8h0M47.2 584.5h0M36.1 585.2h0M41.7 574.7h0M50.6 571.1h0M39.8 574.5h0M45.4 573.5h0M51.6 571.5h0M47.1 578.4h0M51.9 575.6h0M43.5 581.2h0M43.7 576.0h0M47.6 582.2h0M37.5 580.7h0M37.9 579.2h0M38.7 570.2h0M48.0 580.4h0M55.5 574.8h0M48.2 579.3h0M47.6 585.7h0M47.2 573.9h0M44.8 575.6h0M36.4 575.5h0M39.4 578.4h0M44.0 574.7h0M48.4 568.5h0M46.2 570.7h0M38.2 579.2h0M43.1 580.0h0M41.4 576.3h0M50.4 576.5h0M50.6 574.9h0M45.1 577.6h0M49.2 578.8h0M43.0 571.5h0M54.3 579.8h0M43.6 573.8h0M50.3 568.7h0M41.1 582.0h0M47.6 576.7h0M46.5 585.0h0M43.0 583.9h0M44.3 577.6h0M35.0 580.9h0M46.8 574.8h0M41.9 581.2h0M37.1 580.9h0M39.3 577.1h0M41.9 582.2h0M45.8 577.8h0M44.2 579.3h0M48.9 577.9h0M40.1 573.8h0M46.9 575.1h0M35.8 576.6h0M35.4 568.5h0M45.0 577.0h0M45.1 577.4h0M38.7 580.6h0M44.2 567.7h0M37.9 573.4h0M39.7 577.5h0M44.0 580.6h0M48.1 580.8h0M43.3 585.6h0M43.2 573.0h0M43.8 581.3h0M30.2 573.9h0M43.6 577.4h0M51.5 581.0h0M53.7 581.0h0M47.6 585.5h0M36.8 584.6h0M38.4 577.7h0M48.0 576.8h0M31.9 579.5h0M33.4 575.6h0M36.3 578.5h0M41.0 575.1h0M36.3 572.7h0M40.2 577.9h0M45.7 580.5h0M48.4 575.1h0M43.4 581.7h0M42.6 567.7h0M47.0 580.0h0M47.1 577.7h0M39.9 577.2h0M49.1 582.3h0M44.9 583.9h0M44.9 578.6h0M46.2 584.2h0M45.9 578.2h0M38.9 573.4h0M46.1 574.0h0M50.5 578.5h0M37.9 579.6h0M47.3 584.9h0M43.1 580.8h0M52.6 585.0h0M46.4 579.9h0M44.5 581.5h0M40.0 574.4h0M36.5 573.2h0M44.5 585.5h0M31.6 571.9h0M42.9 576.8h0M43.1 578.6h0M52.3 581.6h0M41.1 574.3h0M39.4 579.4h0M45.9 578.8h0M54.3 577.7h0M37.2 578.1h0M46.2 571.5h0M35.1 577.8h0M38.6 575.8h0M43.2 574.5h0M40.4 575.2h0M39.9 576.3h0M38.4 575.9h0M41.3 572.9h0M48.4 580.2h0M36.2 580.4h0M42.4 575.9h0M42.2 576.0h0M48.5 573.3h0M38.8 574.5h0M47.1 577.7h0M42.1 579.2h0M46.8 576.0h0M39.3 576.3h0M44.3 574.7h0M46.0 576.0h0M42.7 581.4h0M42.2 578.3h0M43.4 575.1h0M42.8 577.2h0M47.6 577.9h0M42.7 576.4h0M38.6 577.9h0M56.4 574.7h0M36.5 572.5h0M49.0 577.9h0M51.1 571.1h0M41.0 569.1h0M49.3 574.3h0M46.5 582.6h0M43.5 585.9h0M45.6 585.1h0M38.8 571.1h0M44.3 581.4h0M28.1 574.6h0M40.4 569.4h0M48.3 576.2h0M38.6 572.4h0M39.0 578.1h0M41.7 578.0h0M46.6 575.3h0M45.6 573.0h0M42.3 577.6h0M39.6 576.6h0M37.1 582.1h0M44.6 575.9h0M40.7 567.2h0M48.5 569.9h0M44.0 571.3h0M46.2 577.4h0M44.5 572.2h0M35.4 577.6h0M39.8 578.5h0M40.4 585.4h0M42.8 569.7h0M40.1 580.2h0M37.0 576.4h0M40.1 574.8h0M35.3 579.2h0M42.1 581.2h0M43.9 570.0h0M41.0 575.5h0M39.3 569.9h0M45.3 578.4h0M47.4 573.4h0M43.5 574.9h0M48.3 572.8h0M44.2 583.3h0M39.4 576.0h0M44.3 576.4h0M38.5 584.2h0M45.3 574.6h0M45.2 575.9h0M37.6 582.9h0M45.9 579.8h0M38.1 579.5h0M40.3 578.9h0M37.7 577.8h0M41.5 574.7h0M51.4 578.3h0M37.7 571.3h0M41.9 575.3h0M50.2 584.2h0M38.4 576.0h0M43.0 573.3h0M50.6 575.1h0M43.8 584.0h0M39.0 576.3h0M44.9 578.6h0M37.7 575.9h0M46.9 574.4h0M34.3 572.4h0M43.9 570.0h0M48.3 572.1h0M46.6 570.6h0M44.8 582.5h0M42.7 569.6h0M42.0 577.0h0M35.1 572.4h0M48.1 572.5h0M39.5 576.7h0M46.2 584.2h0M48.3 577.3h0M41.8 580.9h0M44.9 576.5h0M42.2 569.3h0M46.1 577.5h0M42.4 579.2h0M36.1 581.8h0M49.4 575.8h0M36.6 578.4h0M40.7 581.8h0M41.0 581.5h0M37.1 578.7h0M36.8 573.9h0M39.0 578.7h0M38.2 579.9h0M49.8 578.5h0M40.9 574.0h0M49.1 572.6h0M45.9 572.5h0M46.7 575.5h0M37.0 575.3h0M41.1 581.3h0M43.9 576.2h0M42.8 573.9h0M35.5 574.8h0M33.6 575.6h0M43.3 575.5h0M43.6 583.8h0M41.3 571.3h0M46.0 577.3h0M40.5 581.4h0M42.5 573.1h0M38.6 571.4h0M36.2 582.9h0M44.2 584.2h0M43.8 584.1h0M38.8 577.7h0M45.4 572.7h0M44.2 571.3h0M46.9 578.0h0M43.5 578.9h0M49.6 577.1h0M35.4 576.5h0M42.2 577.3h0M48.2 570.7h0M45.8 572.4h0M42.5 585.9h0M40.6 575.8h0M39.3 584.7h0M41.0 576.4h0M32.2 575.7h0M44.1 575.2h0M42.6 581.7h0M47.6 578.0h0M39.4 575.1h0M43.9 565.5h0M42.4 581.9h0M42.4 573.9h0M36.6 575.7h0M46.4 571.4h0M48.9 571.7h0M48.5 582.2h0M36.6 576.7h0M36.4 577.1h0M38.5 578.9h0M45.2 574.2h0M39.8 579.7h0M45.2 576.5h0M28.2 579.4h0M39.5 575.2h0M46.9 577.4h0M47.0 575.3h0M46.8 571.4h0M52.1 582.1h0M41.7 576.9h0M48.3 572.4h0M47.3 579.0h0M39.9 577.9h0M35.9 570.4h0M41.2 574.0h0M49.9 575.6h0M48.4 583.8h0M51.7 573.3h0M49.1 575.9h0M53.3 580.0h0M35.8 563.6h0M50.4 576.1h0M51.4 582.3h0M47.5 578.9h0M40.3 577.7h0M39.5 583.0h0M47.4 582.0h0M43.9 578.9h0M46.4 575.0h0M49.9 576.7h0M36.6 575.9h0M47.0 575.6h0M34.5 573.4h0M44.8 582.5h0M38.9 586.0h0M45.8 583.4h0M49.2 580.0h0M39.0 581.9h0M38.1 571.1h0M45.8 575.4h0M47.0 577.9h0M47.6 577.8h0M46.5 576.1h0M42.0 577.4h0M41.9 571.9h0M31.5 574.7h0M41.9 582.7h0M43.4 584.6h0M35.2 584.3h0M43.7 577.7h0M39.6 578.9h0M44.3 580.2h0M43.8 580.5h0M42.1 573.4h0M34.4 572.4h0M40.7 576.4h0M43.0 578.8h0M41.2 583.5h0M41.2 571.8h0M49.2 578.2h0M48.2 574.9h0M37.0 574.8h0M31.2 579.1h0M47.8 578.5h0M45.1 575.7h0M48.7 573.9h0M32.4 579.7h0M45.7 576.0h0M43.2 578.1h0M39.6 581.2h0M38.8 581.8h0M44.3 576.7h0M38.9 577.8h0M36.9 579.8h0M41.6 575.9h0M43.9 576.9h0M43.1 565.8h0M45.8 572.3h0M43.8 570.6h0M44.8 577.3h0M43.3 571.1h0M40.0 573.0h0M42.4 579.6h0M37.4 576.4h0M37.6 575.1h0M42.9 574.6h0M45.6 574.7h0M39.7 578.4h0M44.8 576.6h0M48.9 576.5h0M47.7 581.3h0M33.7 572.6h0M43.3 580.2h0M40.5 568.9h0M48.5 567.8h0M43.4 576.0h0M35.6 576.4h0M47.8 573.9h0M42.5 578.2h0M43.7 578.5h0M40.4 577.2h0M44.5 574.3h0M39.7 574.1h0M42.1 579.3h0M35.2 580.1h0M37.4 575.4h0M43.9 580.4h0M44.1 575.0h0M37.7 570.1h0M38.6 575.5h0M43.9 583.3h0M41.2 574.3h0M38.6 583.7h0M53.0 579.5h0M40.4 574.5h0M47.1 574.8h0M39.4 572.6h0M46.0 579.6h0M47.7 582.2h0M44.6 575.9h0M44.6 581.1h0M38.3 574.5h0M35.8 564.3h0M45.1 578.4h0M35.9 577.2h0M43.2 571.2h0M54.1 567.5h0M46.8 573.8h0M49.5 576.0h0M45.5 568.5h0M60.7 578.3h0M45.4 570.3h0M41.5 572.4h0M38.5 575.0h0M41.6 581.0h0M35.6 581.3h0M40.4 577.5h0M43.6 569.5h0M49.3 573.1h0M45.6 576.5h0M49.9 574.2h0M33.7 580.6h0M51.1 580.7h0M43.3 577.5h0M48.1 569.0h0M50.5 576.8h0M52.7 573.8h0M34.2 573.1h0M45.1 571.4h0M45.6 574.9h0M44.6 580.7h0M44.6 574.9h0M40.9 581.4h0M49.0 575.8h0M45.2 576.2h0M41.2 578.3h0M47.8 584.6h0M40.1 580.6h0M41.9 576.6h0M49.9 575.7h0M45.4 575.5h0M36.5 571.2h0M42.6 571.9h0M47.1 567.4h0M39.7 569.6h0M45.5 582.1h0M41.4 573.8h0M42.4 574.3h0M43.1 572.0h0M47.4 576.9h0M43.6 572.1h0M37.5 576.1h0M48.2 578.4h0M35.3 578.9h0M43.1 577.5h0M46.5 570.1h0M46.2 576.9h0M44.5 572.8h0M40.6 582.2h0M48.7 572.2h0M48.0 577.3h0M50.1 575.8h0M36.8 572.7h0M42.8 575.3h0M45.0 574.3h0M39.5 577.4h0M45.9 576.9h0M35.1 577.5h0M38.8 579.4h0M46.9 571.4h0M39.5 571.3h0M41.6 585.6h0M45.7 586.0h0M35.1 578.8h0M39.4 576.5h0M39.5 579.3h0M38.3 578.3h0M46.3 576.7h0M41.0 571.6h0M43.3 584.2h0M44.2 585.9h0M49.4 575.9h0M33.7 581.0h0M41.9 575.3h0M33.7 574.0h0M43.2 568.6h0M41.6 586.0h0M43.3 572.2h0M44.5 572.0h0M44.4 582.5h0M46.0 569.3h0M47.1 565.2h0M45.0 565.7h0M39.2 578.1h0M40.5 580.1h0M38.9 580.0h0M48.5 579.4h0M39.1 574.3h0M42.2 584.9h0M45.6 569.9h0M46.7 578.2h0M41.5 568.7h0M46.2 581.8h0M42.8 568.0h0M49.5 581.5h0M31.7 571.5h0M50.7 578.6h0M51.8 573.8h0M43.5 581.3h0M49.3 575.1h0M38.2 577.7h0M41.0 576.6h0M35.8 583.4h0M45.1 574.3h0M38.4 567.7h0M44.5 580.3h0M39.2 575.2h0M39.0 569.6h0M36.0 582.6h0M46.4 576.4h0M41.9 574.5h0M42.5 575.1h0M37.3 582.0h0M40.1 572.8h0M47.8 583.4h0M39.9 575.2h0M47.9 570.7h0M40.6 572.3h0M42.8 574.2h0M44.0 583.1h0M39.2 578.0h0M46.3 576.7h0M43.1 575.1h0M39.3 573.5h0M39.2 579.0h0M55.1 572.3h0M34.0 577.4h0M33.7 575.7h0M47.3 575.6h0M39.5 574.5h0M42.3 573.2h0M49.6 567.7h0M47.1 582.1h0M44.1 576.8h0M47.9 579.2h0M44.2 575.0h0M47.4 573.7h0M45.1 582.8h0M44.7 571.7h0M33.5 578.8h0M45.2 575.1h0M33.9 568.9h0M45.1 575.0h0M50.2 575.0h0M47.2 574.2h0M51.4 576.3h0M44.0 582.0h0M50.7 578.2h0M39.4 574.7h0M33.2 572.7h0M43.6 581.4h0M39.7 584.4h0M47.9 585.1h0M46.9 576.4h0M40.6 579.1h0M43.0 574.6h0M51.1 581.2h0M46.5 568.0h0M40.4 574.0h0M42.6 584.7h0M44.4 579.4h0M46.6 568.3h0M43.2 579.6h0M46.6 575.9h0M37.1 567.3h0M45.6 577.8h0M39.8 575.5h0M48.9 576.2h0M49.9 573.3h0M42.5 579.8h0M37.6 575.7h0M46.6 575.1h0M41.4 580.2h0M43.3 569.6h0M40.3 575.0h0M38.5 572.4h0M44.6 572.6h0M39.4 584.4h0M54.3 577.1h0M44.1 568.7h0M39.2 577.7h0M40.5 582.2h0M49.9 584.9h0M46.4 573.5h0M46.7 568.2h0M52.0 568.8h0M52.5 576.7h0M49.8 567.7h0M41.9 573.8h0M38.4 572.2h0M43.3 579.2h0M45.8 570.3h0M45.8 580.4h0M35.2 585.1h0M42.5 580.1h0M48.2 573.0h0M37.2 574.4h0M43.4 577.4h0M39.5 576.1h0M47.4 573.2h0M35.8 584.4h0M38.0 569.7h0M43.6 569.6h0M44.6 572.5h0M39.0 575.8h0M45.8 572.6h0M37.2 580.8h0M44.0 576.8h0M45.2 574.6h0M38.9 573.9h0M39.4 577.3h0M42.1 575.5h0M43.7 584.6h0M41.7 570.8h0M43.0 577.0h0M51.4 584.4h0M47.7 575.7h0M40.4 572.3h0M45.5 572.3h0M43.8 575.6h0M44.0 572.2h0M46.4 576.1h0M47.6 580.9h0M39.9 576.9h0M45.9 580.2h0M44.2 570.8h0M41.6 573.9h0M42.4 576.1h0M44.6 576.5h0M50.7 582.5h0M48.7 574.2h0M41.2 580.6h0M44.0 570.4h0M35.9 577.7h0M31.1 574.7h0M46.5 583.3h0M53.3 580.3h0M48.0 567.3h0M46.5 582.9h0M41.0 581.1h0M41.1 572.3h0M45.1 576.1h0M41.1 578.3h0M48.9 573.5h0M39.4 572.6h0M42.7 577.0h0M39.0 578.9h0M36.2 579.0h0M43.3 579.5h0M49.2 582.1h0M46.1 576.3h0M43.0 579.4h0M38.2 580.0h0M45.7 574.9h0M40.8 586.0h0M50.9 583.6h0M51.6 574.3h0M45.2 581.8h0M44.2 571.3h0M42.8 582.8h0M42.7 569.8h0M43.8 578.1h0M40.1 583.1h0M28.3 576.9h0M41.7 584.9h0M46.4 577.5h0M50.3 579.0h0M47.4 575.2h0M42.4 578.6h0M43.8 580.6h0M47.3 581.0h0M41.4 577.4h0M41.6 571.9h0M35.0 582.0h0M39.9 584.2h0M50.7 585.0h0M51.3 581.7h0M47.6 576.2h0M36.5 573.7h0M45.3 573.5h0M41.4 572.0h0M50.5 577.3h0M47.6 573.9h0M37.8 579.7h0M50.0 575.4h0M46.2 569.3h0M50.2 577.3h0M50.1 575.7h0M44.5 582.2h0M48.1 575.8h0M41.1 585.0h0M39.8 580.1h0M45.2 577.3h0M47.3 569.8h0M37.2 565.0h0M36.3 585.8h0M42.8 575.7h0M34.7 577.3h0M38.9 575.8h0M48.3 575.4h0M39.2 581.0h0M41.4 580.4h0M42.6 575.7h0M45.0 578.7h0M40.9 581.1h0M51.3 582.4h0M44.8 577.5h0M42.2 572.3h0M43.0 582.4h0M46.6 576.7h0M29.6 577.4h0M36.0 580.2h0M41.8 575.2h0M35.9 571.6h0M48.7 573.6h0" stroke="#111" stroke-width="0.75" stroke-linecap="square"/>
<ellipse cx="42.5" cy="576.0" rx="5.7" ry="6.3" fill="#000" opacity="0.5"/>
</g>
<rect x="23.40" y="554.00" width="52.10" height="52.60" fill="none" stroke="#444" stroke-width="0.8"/>
<rect x="44.90" y="561.30" width="28.50" height="35.50" fill="none" stroke="#333" stroke-width="0.8"/>
<text x="55.30" y="561.45" font-size="6.7" text-anchor="middle">54,7</text>
<line x1="88.40" y1="559.40" x2="90.20" y2="559.40" stroke="#555" stroke-width="0.5"/>
<text x="87.70" y="560.38" font-size="2.8" text-anchor="end" fill="#666">10⁵</text>
<line x1="88.40" y1="570.95" x2="90.20" y2="570.95" stroke="#555" stroke-width="0.5"/>
<text x="87.70" y="571.93" font-size="2.8" text-anchor="end" fill="#666">10⁴</text>
<line x1="88.40" y1="582.50" x2="90.20" y2="582.50" stroke="#555" stroke-width="0.5"/>
<text x="87.70" y="583.48" font-size="2.8" text-anchor="end" fill="#666">10³</text>
<line x1="88.40" y1="593.00" x2="90.20" y2="593.00" stroke="#555" stroke-width="0.5"/>
<text x="87.70" y="593.98" font-size="2.8" text-anchor="end" fill="#666">0</text>
<line x1="100.72" y1="607.70" x2="100.72" y2="609.50" stroke="#555" stroke-width="0.5"/>
<text x="100.72" y="613.18" font-size="2.8" text-anchor="middle" fill="#666">0</text>
<line x1="120.18" y1="607.70" x2="120.18" y2="609.50" stroke="#555" stroke-width="0.5"/>
<text x="120.18" y="613.18" font-size="2.8" text-anchor="middle" fill="#666">10³</text>
<line x1="133.33" y1="607.70" x2="133.33" y2="609.50" stroke="#555" stroke-width="0.5"/>
<text x="133.33" y="613.18" font-size="2.8" text-anchor="middle" fill="#666">10⁴</text>
<line x1="141.22" y1="607.70" x2="141.22" y2="609.50" stroke="#555" stroke-width="0.5"/>
<text x="141.22" y="613.18" font-size="2.8" text-anchor="middle" fill="#666">10⁵</text>
<rect x="87.00" y="591.50" width="1.50" height="3.00" fill="#222" stroke="none" stroke-width="1"/>
<g clip-path="url(#fc10)">
<path d="M105.7 576.0h0M124.0 568.8h0M129.8 566.5h0M103.1 586.0h0M104.6 567.1h0M111.4 569.4h0M115.2 570.7h0M111.5 563.8h0M119.8 584.8h0M107.6 571.9h0M117.7 572.1h0M121.0 579.5h0M126.2 573.2h0M124.4 575.3h0M121.6 575.0h0M104.7 573.6h0M112.8 580.2h0M120.7 583.6h0M114.0 583.3h0M124.7 570.2h0M123.8 580.5h0M110.2 577.3h0M116.5 580.7h0M117.7 564.4h0M103.0 582.8h0M114.3 579.5h0M119.4 572.5h0M111.1 582.3h0M119.7 577.0h0M122.7 581.7h0M115.8 576.4h0M98.0 577.4h0M111.2 577.9h0M109.8 586.8h0M108.4 581.6h0M114.5 590.3h0M104.6 574.4h0M114.0 585.2h0M124.6 578.3h0M110.0 577.9h0M120.4 585.2h0M110.0 566.3h0M111.6 562.4h0M114.9 578.0h0M109.2 576.8h0M108.7 573.2h0M138.0 574.1h0M115.0 572.0h0M113.1 581.3h0M119.5 583.6h0M112.3 571.4h0M109.1 577.8h0M105.8 588.1h0M114.5 578.4h0M108.4 572.7h0M123.2 580.6h0M117.1 573.0h0M110.1 584.9h0M103.7 569.6h0M114.6 583.8h0M126.3 595.2h0M106.8 585.2h0M112.5 576.7h0M119.6 575.0h0M131.9 579.6h0M115.2 579.4h0M122.7 584.0h0M113.4 571.0h0M110.0 578.6h0M118.0 576.1h0M126.8 583.8h0M123.4 570.5h0M130.8 577.1h0M113.5 580.3h0M113.6 576.3h0M112.9 578.1h0M116.1 576.0h0M121.4 564.9h0M121.2 582.3h0M120.2 579.6h0M121.9 580.7h0M120.2 583.2h0M117.7 570.1h0M128.2 576.3h0M120.7 574.8h0M114.1 566.0h0M129.9 577.4h0M101.9 588.6h0M101.8 576.7h0M124.2 580.4h0M110.7 564.0h0M114.3 572.1h0M106.0 579.5h0M119.7 581.4h0M120.6 577.4h0M115.2 575.5h0M115.8 580.0h0M111.7 579.5h0M132.2 577.9h0M112.3 580.6h0M118.0 580.1h0M111.8 583.4h0M123.7 581.9h0M122.8 584.4h0M116.9 585.5h0M113.9 573.8h0M122.7 571.5h0M112.5 582.9h0M95.5 584.8h0M115.9 575.8h0M120.1 571.2h0M117.1 574.3h0M107.7 591.2h0M122.0 571.4h0M110.2 577.3h0M109.8 582.7h0M107.9 580.1h0M108.6 565.5h0M111.0 567.4h0M121.4 583.0h0M113.2 579.9h0M112.0 589.2h0M123.1 577.5h0M122.9 581.5h0M119.7 582.7h0M122.8 582.6h0M114.1 582.4h0M116.7 581.9h0M116.1 565.6h0M116.2 580.4h0M110.0 575.5h0M123.6 584.6h0M110.6 573.5h0M122.8 573.8h0M108.8 572.7h0M119.7 563.1h0M119.5 584.1h0M110.9 566.8h0M116.4 575.7h0M123.2 586.2h0M109.9 589.6h0M107.0 576.6h0M114.4 578.8h0M106.8 581.4h0M117.7 581.6h0M107.0 574.4h0M112.7 575.3h0M117.4 571.2h0M119.5 577.1h0M128.0 581.0h0M120.4 575.5h0M106.6 581.1h0M107.7 571.8h0M136.4 576.2h0M118.5 577.7h0M109.2 576.5h0M119.4 584.1h0M103.6 590.7h0M131.0 576.4h0M104.8 584.7h0M113.7 577.6h0M112.8 567.1h0M119.2 585.6h0M116.2 573.2h0M107.0 586.3h0M119.6 576.0h0M109.2 577.6h0M123.2 567.9h0M114.4 584.8h0M110.6 581.1h0M116.2 574.7h0M117.7 586.7h0M107.8 577.3h0M116.1 583.0h0M100.7 577.1h0M123.7 570.4h0M105.4 575.1h0M101.8 569.6h0M118.7 566.5h0M116.4 569.8h0M108.5 580.2h0M127.2 571.2h0M123.3 589.3h0M120.7 581.7h0M117.0 577.9h0M103.1 580.9h0M116.6 580.9h0M118.8 567.3h0M127.9 573.8h0M114.9 581.9h0M111.3 586.9h0M121.0 573.9h0M128.1 577.0h0M110.2 586.3h0M105.4 586.6h0M109.7 570.3h0M109.4 574.8h0M104.9 568.7h0M118.8 586.6h0M112.2 570.6h0M110.6 581.7h0M111.5 590.8h0M118.1 580.0h0M110.3 567.4h0M121.1 579.3h0M128.1 567.8h0M111.7 571.5h0M102.6 579.4h0M124.0 576.3h0M110.4 567.4h0M119.0 571.7h0M132.8 582.1h0M105.9 581.4h0M113.2 575.5h0M123.3 579.2h0M123.6 573.9h0M118.5 572.8h0M103.7 573.8h0M113.5 583.3h0M120.0 575.4h0M119.7 582.7h0M111.0 585.8h0M107.1 582.5h0M119.0 587.2h0M120.4 575.0h0M98.7 577.3h0M118.9 578.6h0M113.4 583.6h0M114.6 577.9h0M115.0 578.8h0M110.9 581.0h0M107.4 581.7h0M126.9 577.9h0M113.5 576.1h0M98.3 578.6h0M130.0 573.5h0M120.3 587.9h0M104.8 575.0h0M109.1 568.7h0M111.3 578.3h0M116.6 575.5h0M111.6 588.4h0M112.2 583.6h0M128.1 574.0h0M107.3 570.9h0M111.6 585.3h0M117.9 574.7h0M109.3 582.4h0M121.0 590.5h0M116.7 576.1h0M107.7 579.7h0M128.4 578.7h0M111.3 579.8h0M114.0 580.7h0M99.5 567.1h0M113.2 578.1h0M122.9 568.7h0M105.5 580.6h0M118.5 588.0h0M119.9 577.2h0" stroke="#222" stroke-width="0.64" stroke-linecap="square"/>
<path d="M110.9 578.6h0M114.7 577.9h0M113.2 576.9h0M111.4 575.3h0M105.5 575.5h0M114.1 573.8h0M118.1 578.8h0M117.4 576.8h0M117.2 580.0h0M109.4 577.5h0M112.9 572.7h0M111.5 579.5h0M115.3 578.1h0M113.7 580.9h0M120.4 577.7h0M116.8 565.9h0M113.9 575.8h0M111.7 568.6h0M118.3 572.0h0M117.6 573.7h0M111.5 580.1h0M110.9 571.6h0M113.2 575.0h0M110.0 582.5h0M111.6 572.8h0M111.2 576.4h0M111.6 569.6h0M113.4 580.1h0M108.5 580.2h0M121.7 578.0h0M119.8 575.7h0M111.1 573.4h0M113.8 575.9h0M117.3 580.3h0M113.5 579.6h0M118.7 580.2h0M116.2 572.2h0M119.0 578.2h0M113.1 572.6h0M115.0 579.8h0M113.2 579.0h0M119.1 574.4h0M110.4 576.7h0M116.9 580.1h0M110.1 582.1h0M115.8 580.1h0M108.9 575.4h0M112.4 579.8h0M115.1 570.4h0M109.4 574.8h0M113.6 585.4h0M112.4 576.5h0M119.4 578.1h0M110.4 574.9h0M113.8 575.6h0M108.1 584.3h0M107.7 576.3h0M116.6 574.8h0M119.0 580.7h0M106.4 575.0h0M112.1 573.8h0M118.1 577.3h0M110.4 577.6h0M112.3 572.6h0M114.0 575.1h0M116.8 577.0h0M117.2 584.4h0M107.7 568.2h0M111.7 584.4h0M120.4 575.4h0M113.7 574.3h0M114.8 575.4h0M112.2 578.6h0M120.0 584.1h0M108.1 570.5h0M111.1 579.5h0M117.9 566.8h0M114.3 568.0h0M116.9 570.7h0M118.6 572.7h0M115.7 576.6h0M112.2 579.2h0M120.4 574.6h0M111.0 575.7h0M114.4 577.3h0M114.5 579.5h0M115.3 573.7h0M108.8 576.8h0M118.9 575.5h0M113.0 581.2h0M112.3 579.1h0M113.8 571.1h0M110.5 581.3h0M116.9 580.4h0M116.7 567.7h0M110.9 575.8h0M113.3 563.5h0M112.0 579.7h0M114.9 579.9h0M113.9 571.1h0M114.4 579.2h0M115.8 581.8h0M115.4 578.5h0M108.7 581.3h0M116.3 573.8h0M114.3 573.9h0M113.6 580.6h0M109.2 572.7h0M113.3 573.5h0M115.3 578.2h0M116.3 581.0h0M119.6 573.1h0M114.0 571.2h0M113.2 584.5h0M118.1 576.3h0M114.5 578.9h0M114.9 574.8h0M109.9 578.0h0M107.9 585.0h0M114.9 575.2h0M117.9 575.6h0M117.8 582.9h0M110.8 579.8h0M113.5 581.5h0M111.8 585.3h0M110.9 579.7h0M115.4 572.1h0M112.8 573.7h0M113.5 571.1h0M118.9 570.3h0M110.0 580.1h0M111.1 567.4h0M115.9 580.7h0M114.4 574.4h0M118.2 576.2h0M113.0 575.6h0M109.6 578.0h0M115.5 584.6h0M108.5 581.4h0M116.0 574.8h0M116.4 577.1h0M113.5 580.9h0M114.9 576.5h0M112.4 577.4h0M109.5 582.9h0M106.9 573.5h0M112.3 582.5h0M116.4 580.1h0M117.9 580.4h0M109.0 577.1h0M110.9 572.6h0M116.7 578.8h0M117.2 572.3h0M107.2 571.8h0M111.9 574.0h0M110.2 569.7h0M113.9 579.6h0M115.6 585.0h0M113.6 575.0h0M119.0 578.0h0M114.8 580.9h0M111.6 574.0h0M112.3 575.2h0M114.4 577.4h0M110.8 570.7h0M110.1 577.1h0M116.5 575.8h0M118.3 567.1h0M114.8 567.7h0M109.1 579.3h0M115.2 575.3h0M108.3 574.5h0M114.6 571.2h0M119.8 574.8h0M121.3 576.3h0M103.7 573.8h0M112.2 575.2h0M110.1 572.4h0M112.8 583.7h0M110.9 567.0h0M109.3 577.6h0M108.6 572.5h0M113.2 574.9h0M113.8 574.2h0M113.0 578.4h0M113.5 575.6h0M116.4 575.1h0M115.2 582.2h0M118.9 574.7h0M110.9 578.8h0M111.9 573.9h0M112.9 582.6h0M117.3 580.3h0M114.5 568.0h0M109.5 580.1h0M109.1 578.9h0M110.7 579.2h0M114.3 573.3h0M117.5 575.1h0M113.9 580.2h0M116.0 582.6h0M112.7 577.8h0M108.3 580.9h0M113.2 576.8h0M109.9 579.4h0M112.8 573.6h0M113.3 581.4h0M108.9 564.8h0M111.6 576.5h0M112.3 576.9h0M108.2 575.7h0M114.8 579.9h0M112.3 575.5h0M111.4 580.0h0M114.6 570.5h0M117.1 576.8h0M109.9 574.7h0M112.0 580.6h0M117.6 575.6h0M115.6 573.8h0M108.0 578.8h0M106.0 580.9h0M108.9 582.2h0M114.7 575.7h0M112.4 579.3h0M104.7 575.5h0M110.6 572.7h0M113.4 580.3h0M120.4 576.8h0M118.8 577.9h0M117.1 579.5h0M115.6 571.8h0M115.4 575.2h0M123.3 572.4h0M116.6 576.0h0M103.9 576.6h0M110.3 571.5h0M116.1 577.3h0M114.1 579.6h0M112.0 574.2h0M109.7 560.5h0M112.1 576.6h0M110.4 566.1h0M111.1 584.1h0M110.4 576.5h0M108.6 575.1h0M113.8 584.5h0M105.1 565.0h0M113.9 581.1h0M109.1 580.9h0M114.8 576.5h0M115.5 578.2h0M107.9 573.1h0M118.2 574.8h0M109.7 580.3h0M112.8 577.2h0M115.2 580.6h0M109.4 572.1h0M113.5 575.1h0M113.8 578.9h0M107.5 578.6h0M112.1 571.6h0M116.7 578.5h0M112.5 574.3h0M110.1 578.0h0M112.8 580.8h0M106.0 574.7h0M115.7 572.3h0M117.7 573.6h0M111.5 571.2h0M117.4 574.4h0M109.0 581.4h0M110.3 576.6h0M116.4 571.3h0M117.5 578.4h0M110.5 574.4h0M114.7 576.4h0M107.3 579.0h0M109.9 577.8h0M117.4 572.3h0M111.1 569.8h0M115.5 582.2h0M115.6 577.1h0M113.6 568.7h0M115.6 575.3h0M111.8 576.5h0M117.9 579.4h0M114.3 576.6h0M113.3 572.9h0M110.4 577.7h0M112.8 581.4h0M119.0 573.1h0M116.4 578.2h0M110.5 581.9h0M123.3 570.7h0M115.9 577.4h0M119.2 573.8h0M115.2 573.6h0M118.5 577.8h0M116.0 576.6h0M113.6 579.2h0M111.1 582.6h0M109.8 582.6h0M110.4 578.1h0M109.2 578.6h0M115.6 574.9h0M113.5 583.5h0M121.8 576.3h0M116.6 579.7h0M116.5 577.6h0M114.0 579.6h0M115.6 578.1h0M118.8 576.1h0M112.6 573.5h0M110.3 583.7h0M117.0 574.2h0M116.9 579.3h0M110.8 570.3h0M116.9 565.7h0M119.4 583.0h0M109.0 577.5h0M109.1 574.6h0M107.5 579.5h0M111.9 578.9h0M113.5 580.1h0M108.1 584.8h0M111.9 580.5h0M110.8 574.3h0M110.4 581.6h0M111.4 570.5h0M113.5 572.3h0M114.0 582.0h0M117.7 580.7h0M117.5 571.6h0M117.9 580.5h0M112.6 578.0h0M116.9 575.2h0M116.8 578.6h0M107.7 568.9h0M119.0 580.6h0M114.7 578.2h0M117.6 580.6h0M113.8 569.4h0M114.9 582.3h0M110.1 576.8h0M106.0 578.4h0M114.2 579.5h0M116.8 580.7h0M117.8 577.5h0M112.0 572.3h0M116.7 577.8h0M112.3 570.4h0M113.4 572.4h0M113.7 576.5h0M110.9 574.7h0M116.8 579.6h0M112.0 574.4h0M116.6 572.4h0M113.2 580.3h0M109.2 571.4h0M116.2 577.2h0M106.7 580.0h0M110.0 575.1h0M110.2 575.3h0M113.6 579.3h0M120.3 584.7h0M114.2 581.7h0M111.9 575.0h0M114.0 578.2h0M111.5 576.0h0M111.4 567.0h0M120.7 577.6h0M113.3 574.1h0M110.7 574.4h0M112.7 580.3h0M116.9 575.3h0M111.7 577.2h0M115.7 574.0h0M113.2 579.7h0M114.6 574.6h0M109.9 580.4h0M112.3 582.5h0M115.4 575.7h0M116.5 572.8h0M115.1 574.8h0M119.9 581.5h0M115.2 585.0h0M115.8 584.4h0M114.8 574.4h0M117.0 573.3h0M114.2 573.7h0M110.1 574.0h0M114.7 580.0h0M116.2 576.4h0M117.0 575.2h0M111.2 582.0h0M111.5 572.9h0M111.7 582.4h0M115.2 579.1h0M116.3 575.0h0M105.0 574.4h0M113.7 577.9h0M110.1 571.9h0M114.7 564.6h0M108.7 573.7h0M113.4 575.4h0M115.3 575.8h0M113.8 578.8h0M117.3 567.5h0M112.3 575.9h0M115.2 577.7h0M113.6 579.3h0M117.4 574.8h0M120.6 585.0h0M114.5 577.1h0M110.4 581.1h0M114.2 571.2h0M118.7 574.9h0M116.8 573.9h0M112.2 578.7h0M113.5 574.5h0M110.8 579.3h0M111.3 581.7h0M112.2 577.8h0M112.6 577.9h0M112.0 575.9h0M113.2 581.1h0M115.5 577.5h0M111.0 578.8h0M109.8 574.9h0M112.1 574.5h0M112.2 575.8h0M115.5 575.4h0M119.4 584.6h0M112.1 576.6h0M114.5 578.6h0M111.1 575.3h0M106.2 573.0h0M115.0 573.4h0M109.1 572.8h0M118.1 572.5h0M121.4 576.5h0M111.5 572.7h0M116.9 569.7h0M109.4 581.3h0M117.1 573.1h0M112.3 578.1h0M112.4 573.4h0M113.8 578.3h0M116.9 569.9h0M114.3 579.7h0M110.8 580.8h0M115.3 577.6h0M112.3 566.9h0M117.5 577.5h0M111.5 573.4h0M114.0 575.4h0M112.3 573.5h0M111.0 571.1h0M119.1 576.3h0M112.7 578.5h0M115.0 568.5h0M110.2 575.7h0M110.8 575.0h0M118.3 572.5h0M113.7 577.7h0M114.9 581.2h0M109.5 571.1h0M110.7 573.1h0M111.0 583.1h0M113.7 575.0h0M117.1 575.6h0M113.4 579.4h0M111.6 571.1h0M115.4 575.2h0M107.6 578.1h0M112.0 582.3h0M115.6 576.3h0M112.2 567.3h0M108.4 573.9h0M112.9 584.4h0M113.3 577.1h0M118.7 573.7h0M115.6 576.3h0M105.2 574.8h0M109.0 579.3h0M112.5 567.3h0M115.1 576.2h0M112.7 582.5h0M112.4 570.2h0M117.9 572.1h0M112.6 572.7h0M110.5 581.2h0M109.1 580.0h0M116.1 580.3h0M112.2 583.3h0M113.4 575.6h0M109.7 570.5h0M117.4 576.5h0M112.6 573.4h0M115.1 578.8h0M118.9 572.7h0M114.2 581.3h0M112.9 579.2h0M110.4 572.8h0M113.8 576.1h0M118.3 577.0h0M111.3 573.7h0M113.4 568.1h0M114.6 576.3h0M115.1 577.9h0M114.4 581.9h0M121.8 575.2h0M114.7 576.0h0M117.2 579.2h0M118.7 571.0h0M117.6 571.8h0M105.0 576.8h0M110.1 572.5h0M110.6 573.9h0M121.5 582.6h0M111.8 574.0h0M112.3 576.7h0M105.8 581.6h0M115.9 579.8h0M115.4 582.8h0M117.1 579.3h0M112.2 573.2h0M112.8 567.9h0M117.6 580.1h0M112.2 568.8h0M116.6 568.8h0M114.8 583.9h0M111.0 578.6h0M112.1 573.8h0M114.9 570.9h0M113.8 575.7h0M119.1 574.4h0M117.2 577.4h0M112.0 578.7h0M119.2 584.6h0M113.9 576.5h0M113.2 568.6h0M107.9 578.2h0M113.5 579.3h0M116.9 576.4h0M118.4 572.4h0M116.8 573.7h0M112.5 577.2h0M111.9 583.4h0M110.0 579.4h0M111.0 578.5h0M121.7 574.8h0M122.5 580.7h0M110.4 572.5h0M110.3 578.4h0M110.0 578.7h0M108.3 579.0h0M116.3 567.7h0M112.9 578.5h0M111.9 570.6h0M115.3 581.2h0M114.9 574.1h0M119.2 577.0h0M104.8 573.0h0M111.4 575.3h0M122.5 572.8h0M118.1 575.9h0M114.4 574.2h0M114.4 581.5h0M115.9 583.5h0M109.7 577.6h0M116.8 574.5h0M109.3 579.9h0M108.5 581.2h0M116.9 580.0h0M116.5 582.1h0M116.8 576.7h0M110.3 573.2h0M116.6 584.6h0M114.3 576.3h0M110.4 575.1h0M116.5 574.8h0M118.6 574.1h0M118.6 585.3h0M116.1 581.6h0M121.7 567.7h0M116.5 578.5h0M111.2 575.9h0M123.1 575.3h0M117.1 576.8h0M107.9 576.2h0M117.5 583.4h0M109.7 577.0h0M114.3 573.6h0M111.6 576.3h0M115.1 574.8h0M116.2 582.6h0M106.1 584.9h0M115.9 582.0h0M111.8 577.5h0M112.4 576.6h0M118.0 575.8h0M115.7 580.2h0M110.9 570.5h0M116.1 580.0h0M119.7 574.2h0M112.4 578.1h0M113.5 583.5h0M115.4 578.2h0M117.0 576.7h0M117.7 574.5h0M113.6 577.4h0M117.1 576.0h0M110.9 575.9h0M107.7 569.7h0M110.2 575.6h0M114.6 575.8h0M106.1 577.7h0M110.8 578.6h0M116.8 571.9h0M112.8 572.0h0M113.2 582.0h0M116.4 574.2h0M107.5 581.5h0M113.6 579.0h0M106.4 580.3h0M110.6 576.2h0M112.4 581.0h0M115.4 575.3h0M106.6 568.4h0M116.5 572.7h0M116.6 576.3h0M116.3 578.2h0M109.0 584.2h0M113.8 578.5h0M111.5 580.5h0M116.0 574.8h0M112.3 579.3h0M113.7 577.3h0M111.9 573.6h0M110.5 581.7h0M114.6 578.5h0M120.1 580.9h0M111.0 573.2h0M117.9 577.1h0M119.0 581.1h0M116.9 575.9h0M112.3 578.6h0M115.2 575.0h0M111.9 577.3h0M112.6 584.8h0M115.2 578.2h0M117.4 578.6h0M112.7 573.6h0M115.7 577.9h0M119.8 575.8h0M111.8 576.4h0M113.5 576.7h0M112.8 577.8h0M109.3 572.1h0M113.3 580.4h0M114.2 580.0h0M115.0 575.8h0M119.8 582.6h0M115.7 569.0h0M117.3 578.3h0M116.4 580.7h0M117.5 575.0h0M117.1 575.6h0M111.3 575.1h0M113.5 576.6h0M116.3 577.2h0M118.1 574.1h0M112.1 575.2h0M115.8 582.8h0M113.9 575.6h0M118.1 575.1h0M111.9 584.6h0M112.1 571.0h0M111.5 584.6h0M113.7 574.3h0M109.1 578.8h0M114.0 567.9h0M116.2 575.0h0M116.2 578.7h0M118.8 583.6h0M113.3 580.7h0M111.7 579.0h0M112.1 577.7h0M122.3 579.1h0M115.9 575.6h0M110.8 580.6h0M112.8 582.4h0M120.5 581.4h0M115.5 573.7h0M113.9 584.0h0M114.6 578.0h0M110.2 580.4h0M113.3 570.6h0M110.5 569.9h0M114.2 575.4h0M112.8 576.5h0M107.7 579.2h0M115.1 576.6h0M113.1 577.7h0M111.4 578.8h0M113.7 577.3h0M112.4 579.4h0M111.6 576.9h0M119.6 575.2h0M110.7 581.0h0M117.8 583.4h0M117.3 569.6h0M115.4 579.9h0M113.1 581.4h0M107.7 582.9h0M108.2 580.7h0M114.6 571.8h0M117.7 578.7h0M123.1 577.9h0M114.5 576.5h0M113.2 582.7h0M113.6 576.3h0M109.8 579.8h0M110.5 584.9h0M110.1 584.0h0M119.4 572.7h0M114.6 584.9h0M112.0 578.9h0M109.0 582.0h0M111.3 569.7h0M109.6 576.4h0M114.2 574.9h0M112.4 583.2h0M116.8 571.9h0M111.8 574.9h0M106.0 573.8h0M115.7 582.4h0M117.7 574.0h0M111.2 582.9h0M120.8 576.6h0M113.1 575.7h0M110.8 576.3h0M112.3 575.4h0M118.8 582.7h0M115.7 579.5h0M115.2 582.2h0M108.7 576.7h0M114.6 574.1h0M107.8 572.5h0M111.6 579.8h0M113.8 580.3h0M107.1 571.2h0M115.7 575.2h0M117.2 571.4h0M111.4 581.8h0M113.4 584.7h0M118.4 573.7h0M109.4 573.9h0M113.7 579.4h0M111.2 576.6h0M112.5 570.8h0M110.4 582.1h0M114.9 583.6h0M115.0 577.6h0M111.4 576.2h0M116.6 575.0h0M114.2 576.5h0M113.1 575.7h0M109.7 572.1h0M112.5 569.5h0M109.3 577.6h0M113.1 577.0h0M113.0 578.8h0M116.7 576.8h0M112.6 584.0h0M110.4 572.5h0M112.3 585.4h0M113.5 583.9h0M110.7 585.4h0M115.7 569.7h0M118.9 575.7h0M114.3 581.5h0M111.4 584.4h0M107.3 577.0h0M118.7 574.7h0M113.2 574.2h0M110.5 577.2h0M110.2 582.2h0M114.9 569.6h0M112.4 569.8h0M114.2 577.9h0M117.6 576.0h0M105.3 582.9h0M112.1 574.5h0M113.5 575.0h0M110.4 576.6h0M114.3 565.3h0M107.4 575.8h0M112.6 576.1h0M109.9 581.8h0M113.6 576.8h0M110.0 575.6h0M107.3 572.2h0M113.9 574.6h0M110.0 580.4h0M106.0 582.8h0M109.6 582.5h0M109.2 573.3h0M115.4 573.0h0M115.9 575.4h0M111.1 577.0h0M118.9 575.6h0M113.2 570.4h0M111.2 572.3h0M111.8 575.0h0M108.6 573.3h0M106.6 574.9h0M114.6 572.7h0M113.3 582.3h0M117.2 573.6h0M116.8 583.9h0M112.6 574.9h0M117.7 578.9h0M113.9 566.9h0M120.0 573.7h0M117.0 572.9h0M117.6 572.3h0M112.1 576.6h0M104.7 579.5h0M114.3 571.0h0M110.4 569.7h0M112.9 582.8h0M111.7 581.5h0M118.5 577.6h0M116.5 572.0h0M109.7 571.9h0M113.1 576.9h0M111.2 582.1h0M110.9 578.7h0M114.5 573.4h0M121.2 566.6h0M116.4 579.6h0M111.2 577.9h0M113.4 572.6h0M111.7 579.7h0M109.5 574.9h0M113.3 581.1h0M114.4 569.1h0M111.9 580.7h0M106.0 571.8h0M118.2 573.8h0M113.0 580.0h0M113.6 576.7h0M111.2 573.0h0M113.7 577.7h0M116.1 581.1h0M111.4 573.5h0M115.8 572.3h0M113.9 576.8h0M121.0 575.1h0M112.5 576.8h0M110.8 570.1h0M113.9 579.6h0M114.2 573.6h0M114.2 573.2h0M114.0 582.5h0M119.0 578.2h0M114.9 575.6h0M113.1 576.8h0M115.9 570.2h0M119.7 572.7h0M118.9 577.0h0M115.8 571.8h0M114.1 579.4h0M112.5 574.2h0M120.5 578.9h0M109.1 579.6h0M116.4 579.6h0M108.1 583.4h0M117.7 583.3h0M116.9 582.6h0M112.2 577.4h0M113.9 573.0h0M119.6 573.9h0M112.1 568.8h0M112.7 576.2h0M114.7 577.1h0M113.2 584.3h0M112.4 572.1h0M109.1 580.8h0M108.9 582.9h0M111.8 574.5h0M114.1 574.6h0M110.6 572.2h0M116.5 579.9h0M114.3 571.1h0M115.7 578.6h0M110.6 583.0h0M120.5 576.5h0M117.2 571.0h0M114.1 575.7h0M106.4 575.8h0M119.0 570.9h0M111.1 576.1h0M116.4 580.1h0M109.0 585.2h0M113.9 573.1h0M111.3 573.2h0M115.6 577.4h0M117.3 573.8h0M112.3 573.4h0M112.5 575.1h0M112.7 577.5h0M119.9 571.3h0M109.1 576.5h0M116.5 571.8h0M108.8 585.3h0M110.5 574.2h0M108.8 577.4h0M110.9 577.6h0M105.7 574.5h0M111.0 569.9h0M119.0 574.5h0M115.2 569.1h0M118.4 576.2h0M117.0 578.1h0M116.2 581.4h0M116.3 569.8h0M114.3 577.1h0M117.7 569.4h0M112.7 582.6h0M120.0 575.7h0M117.5 576.7h0M117.2 576.2h0M108.6 580.9h0M110.1 578.5h0M108.5 572.1h0M109.7 580.5h0M113.8 579.9h0M117.3 578.1h0M114.0 581.7h0M116.7 570.2h0M116.7 581.0h0M111.2 581.0h0M110.5 578.5h0M118.6 577.2h0M111.1 572.9h0M115.0 569.7h0M115.2 575.6h0M116.7 577.8h0M111.3 570.4h0M112.7 572.1h0M110.5 580.3h0M118.1 572.0h0M114.0 577.3h0M114.4 580.8h0M113.2 572.2h0M118.7 572.2h0M110.5 575.6h0M112.4 581.8h0M115.1 572.7h0M114.5 574.1h0M113.3 570.8h0M116.4 582.8h0M113.5 577.0h0M111.5 584.4h0M112.9 580.2h0M107.5 578.3h0M108.8 582.7h0M110.7 579.1h0M107.9 578.6h0M113.6 580.1h0M109.4 571.5h0M116.2 574.0h0M106.6 571.0h0M119.4 578.7h0M107.7 578.4h0M115.2 576.5h0M114.8 580.0h0M109.8 572.4h0M108.5 579.2h0M111.1 572.7h0M118.0 571.2h0M109.3 579.0h0M115.5 572.4h0M113.1 577.3h0M113.4 579.7h0M113.5 576.7h0M119.6 584.4h0M113.9 581.4h0M120.7 576.7h0M116.4 573.5h0M115.3 577.1h0M113.5 573.8h0M113.8 583.1h0M123.3 568.5h0M105.2 575.3h0M109.4 576.0h0M111.0 570.4h0M110.7 580.5h0M115.9 572.3h0M112.2 584.1h0M111.7 574.6h0M111.6 576.2h0M108.6 577.3h0M117.7 578.4h0M119.3 578.6h0M115.5 577.7h0M118.2 576.7h0M110.5 577.9h0M114.0 576.2h0M111.4 570.1h0M112.9 571.6h0M114.7 575.2h0M108.0 577.4h0M115.4 576.0h0M117.4 569.6h0M116.4 581.7h0M108.2 582.9h0M108.7 578.2h0M115.0 578.9h0M111.1 585.4h0M114.6 569.8h0M109.2 580.8h0M107.3 578.6h0M116.5 568.7h0M112.9 576.4h0M117.1 575.8h0M117.0 584.3h0M117.0 565.4h0M114.6 575.8h0M114.0 573.6h0M109.6 571.7h0M111.8 574.5h0M99.9 575.1h0M110.6 563.6h0M114.6 576.7h0M114.0 573.2h0M113.4 583.2h0M110.7 577.2h0M115.3 576.9h0M115.3 580.3h0M113.2 576.4h0M117.6 578.9h0M113.6 578.3h0M117.2 577.8h0M117.0 577.2h0M116.9 580.7h0M116.1 573.8h0M112.4 580.9h0M115.0 579.8h0M109.4 574.6h0M114.7 577.7h0M113.2 568.7h0M113.0 577.0h0M112.3 581.8h0M111.3 577.2h0M117.0 579.0h0M113.0 574.8h0M116.3 584.2h0M113.1 571.7h0M111.3 576.7h0M112.6 573.9h0M112.5 581.4h0M114.6 581.5h0M106.7 580.1h0M113.7 578.9h0M118.1 576.6h0M113.1 576.5h0M109.3 579.5h0M112.2 575.7h0M114.4 570.7h0M113.2 580.3h0M112.1 577.7h0M111.8 582.0h0M119.5 579.3h0M111.1 582.4h0M119.5 578.0h0M107.4 574.7h0M116.0 570.9h0M111.4 576.7h0M113.3 570.7h0M111.7 575.1h0M109.6 581.1h0M119.3 583.6h0M112.0 576.5h0M117.8 585.2h0M113.5 572.1h0M114.5 573.5h0M114.7 575.2h0M114.1 578.5h0M113.7 574.4h0M119.5 570.1h0M110.5 580.5h0M117.6 569.7h0M116.5 584.0h0M112.2 572.8h0M108.0 578.8h0M111.7 574.7h0M119.7 573.6h0M107.7 571.9h0M111.7 583.3h0M105.7 584.0h0M116.4 580.1h0M113.1 574.9h0M110.6 576.9h0M108.5 574.6h0M113.8 580.2h0M110.4 580.8h0M111.6 573.5h0M113.4 580.0h0M110.2 573.2h0M110.8 577.3h0M114.4 571.4h0M115.7 580.5h0M119.4 574.7h0M119.2 576.8h0M115.7 579.4h0M117.0 576.6h0M116.2 581.1h0M112.3 574.5h0M111.3 585.4h0M110.1 571.5h0M110.2 574.4h0M112.8 571.5h0M112.8 585.2h0M111.7 582.3h0M109.9 568.1h0M109.1 575.7h0M103.8 581.6h0M105.7 578.8h0M113.0 579.1h0M113.7 577.2h0M113.7 582.6h0M112.7 580.3h0M110.0 575.6h0M113.8 576.8h0M107.9 574.2h0M112.9 581.7h0M114.0 581.1h0M111.1 573.8h0M119.6 568.5h0M118.0 579.9h0M111.8 585.3h0M119.0 573.3h0M106.2 580.6h0M115.3 577.5h0M115.6 581.2h0M111.5 580.4h0M107.6 569.7h0M116.3 574.1h0M116.0 570.9h0M113.6 574.2h0M111.5 574.1h0M118.8 579.4h0M113.8 577.6h0M117.6 575.8h0M108.5 577.7h0M115.4 576.9h0M114.9 580.9h0M115.2 577.3h0M119.0 576.5h0M113.5 576.8h0M117.0 582.0h0M111.2 574.0h0M119.2 577.7h0M114.6 573.0h0M118.4 571.9h0M117.7 576.9h0M114.3 573.6h0M108.7 567.5h0M115.2 572.4h0M115.6 579.4h0M115.7 574.0h0M107.9 571.8h0M108.3 577.1h0M113.4 577.4h0M122.3 575.7h0M110.5 576.0h0M108.4 569.2h0M110.9 577.5h0M111.7 574.0h0M109.4 583.9h0M117.9 583.3h0M113.9 582.8h0M113.1 580.7h0M112.7 574.5h0M112.4 576.4h0M112.7 573.4h0M110.3 574.1h0M104.2 571.3h0M119.3 576.6h0M117.8 571.1h0M113.8 577.8h0M116.7 576.6h0M108.1 577.4h0M116.0 572.7h0M110.3 581.2h0M110.8 572.0h0M117.2 578.3h0M112.6 575.3h0M116.6 576.0h0M109.9 576.2h0M114.7 571.4h0M114.0 577.4h0M110.5 574.3h0M109.6 568.4h0M102.4 582.6h0M111.2 572.3h0M107.3 574.5h0M114.9 573.4h0M114.0 579.8h0M111.1 579.0h0M118.8 569.3h0M111.2 568.7h0M113.1 576.5h0M112.0 575.8h0M116.5 584.2h0M112.1 580.6h0M114.2 579.0h0M117.3 569.2h0M117.4 576.3h0M113.0 575.9h0M110.0 581.1h0M113.1 579.7h0M117.5 578.3h0M109.1 578.1h0M111.7 581.4h0M109.7 572.2h0M113.8 571.7h0M112.1 576.3h0M112.9 571.9h0M115.9 570.5h0M113.0 576.3h0M103.0 574.4h0M116.1 575.2h0M118.9 569.0h0M115.2 568.8h0M114.0 580.9h0M118.1 578.0h0M111.2 577.1h0M113.1 575.4h0M115.7 573.0h0M114.3 579.4h0M115.7 578.9h0M111.9 575.2h0M120.3 573.8h0M113.8 575.9h0M112.3 576.4h0M109.6 577.5h0M111.2 584.6h0M116.6 582.1h0M115.0 569.6h0M116.7 575.6h0M111.2 575.9h0M112.8 575.1h0M105.7 579.6h0M111.6 575.8h0M111.0 576.6h0M109.4 579.7h0M111.5 568.5h0M111.5 581.6h0M119.8 567.6h0M109.7 573.1h0M117.0 585.2h0M116.9 572.7h0M111.0 574.7h0M118.0 574.3h0M113.9 582.9h0M122.3 570.0h0M112.8 578.4h0M116.3 575.3h0M116.7 584.0h0M108.1 578.0h0M116.2 577.8h0M111.5 581.8h0M122.3 581.4h0M113.6 572.0h0M112.2 575.3h0M108.1 579.3h0M109.4 574.7h0M111.0 584.8h0M111.5 572.0h0M113.9 573.6h0M118.2 580.6h0M117.4 571.2h0M111.6 571.6h0M111.9 577.6h0M115.6 571.2h0M109.3 578.3h0M112.3 571.4h0M112.5 580.3h0M108.9 573.3h0M114.9 570.2h0M116.4 569.2h0M116.2 581.6h0M117.3 578.2h0M116.9 578.5h0M113.9 577.9h0M111.5 574.3h0M114.5 575.3h0M115.8 576.0h0M112.3 573.9h0M111.4 572.3h0M111.1 581.5h0M108.7 571.2h0M112.7 578.7h0M113.1 575.2h0M113.5 581.2h0M112.4 575.6h0M110.2 566.5h0M113.7 574.9h0M118.2 574.3h0M109.7 575.5h0M117.7 580.5h0M110.9 579.4h0M108.0 569.6h0M112.4 576.3h0M108.3 574.0h0M112.2 573.5h0M112.4 574.5h0M109.1 578.8h0M111.8 575.9h0M116.0 570.1h0M114.3 575.2h0M116.5 575.8h0M113.1 582.8h0M110.7 571.2h0M107.0 579.4h0M114.6 582.0h0M112.0 572.1h0M119.9 578.7h0M111.3 574.4h0M113.4 576.3h0M115.7 576.5h0M118.1 576.3h0M116.3 573.0h0M111.6 574.3h0M104.2 582.9h0M118.2 574.6h0M114.4 574.8h0M112.4 582.7h0M108.1 573.6h0M113.6 567.4h0M118.6 575.0h0M116.9 580.2h0M113.5 575.6h0M117.5 575.8h0M114.9 581.1h0M112.4 566.3h0M109.8 581.6h0M120.8 574.7h0M113.4 579.7h0M110.7 582.8h0M114.0 573.4h0M108.4 584.4h0M112.0 573.8h0M114.0 572.6h0M119.9 575.3h0M117.3 569.6h0M114.4 577.2h0M120.9 578.7h0M114.9 580.2h0M114.4 574.3h0M105.0 568.8h0M107.2 574.6h0M105.4 569.9h0M121.0 572.6h0M113.8 576.5h0M106.8 584.0h0M117.7 576.0h0M112.8 577.2h0M108.5 572.2h0M114.3 573.1h0M112.6 578.6h0M114.6 576.2h0M113.9 582.9h0M115.3 576.2h0M118.1 575.1h0M110.4 577.1h0M112.9 584.2h0M104.7 567.6h0M122.1 575.5h0M109.1 574.4h0M118.9 577.0h0M118.7 569.9h0M113.4 576.1h0M118.5 578.7h0M114.3 574.4h0M121.4 575.5h0M113.5 566.7h0M111.6 574.0h0M116.4 577.7h0M115.9 577.3h0M103.1 577.7h0M113.4 577.4h0M114.7 574.8h0M117.8 578.1h0M111.0 581.3h0M115.9 582.5h0M107.5 580.1h0M118.2 582.7h0M116.4 573.2h0M111.4 575.2h0M111.3 580.0h0M116.3 584.1h0M112.5 570.7h0M113.3 575.1h0M114.8 579.7h0M109.1 579.0h0M108.5 577.4h0M112.7 576.7h0M120.6 578.3h0M108.8 578.9h0M113.4 582.0h0M107.5 581.8h0M112.3 576.5h0M111.3 574.9h0M116.8 577.5h0M115.1 572.8h0M114.0 575.3h0M118.3 570.3h0M114.1 566.5h0M111.3 576.6h0M113.0 578.8h0M113.5 583.6h0M110.3 582.1h0M117.8 575.6h0M112.3 579.6h0M118.1 570.1h0M110.7 576.7h0M112.7 578.5h0M110.6 582.0h0M115.2 577.6h0M115.6 576.8h0M115.8 571.1h0M114.7 580.9h0M115.8 573.7h0M112.5 569.9h0M115.9 582.4h0M114.0 577.6h0M115.8 571.7h0M109.4 571.4h0M114.8 575.3h0M115.9 571.2h0M118.9 570.2h0M115.1 581.3h0M111.5 570.7h0M113.4 573.4h0M113.3 569.7h0M118.2 576.1h0M111.2 579.5h0M115.8 577.1h0M112.2 573.0h0M115.7 579.9h0M116.4 567.9h0M107.8 575.0h0M111.5 568.6h0M112.5 577.9h0M115.9 577.8h0M116.2 576.0h0M123.0 572.2h0M113.4 577.3h0M115.8 578.0h0M114.0 581.7h0M109.6 575.6h0M113.4 578.8h0M123.3 576.7h0M114.5 577.3h0M114.5 579.0h0M113.2 577.0h0M116.0 581.6h0M114.9 569.9h0M110.7 569.9h0M110.0 575.7h0M113.9 569.3h0M111.3 567.3h0M114.5 581.0h0M111.3 569.5h0M119.0 580.8h0M110.1 578.9h0M114.5 570.9h0M114.9 576.7h0M106.8 574.7h0M105.5 583.7h0M111.4 584.8h0M113.6 577.1h0M118.9 575.5h0M108.6 572.0h0M112.7 578.6h0M114.6 576.3h0M107.4 577.3h0M116.9 571.8h0M116.4 572.8h0M114.0 575.5h0M116.6 582.4h0M113.3 574.7h0M109.1 573.5h0M114.5 579.3h0M107.0 581.5h0M111.6 578.8h0M113.8 585.3h0M113.0 577.6h0M110.1 580.8h0M113.2 575.6h0M113.4 578.0h0M116.2 573.3h0M114.7 576.8h0M110.4 578.0h0M119.8 569.3h0M111.6 573.7h0M121.7 574.3h0M110.6 575.5h0M119.5 572.3h0M115.0 578.7h0M113.2 572.2h0M109.7 576.8h0M108.9 574.6h0M104.3 565.9h0M108.0 576.0h0M113.9 575.8h0M115.2 573.9h0M111.7 581.1h0M110.1 576.0h0M115.1 580.3h0M115.5 575.7h0M111.5 579.0h0M118.9 576.2h0M109.2 574.8h0M110.5 569.2h0M116.6 574.4h0M108.5 583.1h0M110.6 576.8h0M111.2 576.5h0M116.5 573.6h0M113.9 569.6h0M116.9 581.3h0M106.2 571.5h0M117.1 576.9h0M110.0 573.6h0M114.6 576.8h0M110.9 581.1h0M111.6 569.9h0M112.3 585.2h0M109.0 576.0h0M114.0 582.8h0M117.0 580.5h0M112.6 577.9h0M112.4 578.6h0M110.8 572.5h0M110.7 581.2h0M113.9 582.8h0M107.2 572.5h0M110.0 584.6h0M110.9 585.4h0M112.5 575.6h0M110.7 583.7h0M114.1 578.1h0M115.4 584.6h0M113.0 572.0h0M113.2 573.8h0M110.2 577.5h0M106.6 582.6h0M113.9 577.7h0M111.2 577.9h0M115.0 576.9h0M115.5 571.5h0M115.7 566.7h0M112.3 573.5h0M114.7 577.6h0M112.1 573.3h0M108.9 582.6h0M113.9 570.2h0M112.4 571.0h0M111.4 569.2h0M111.4 580.6h0M113.9 570.2h0M118.2 574.9h0M109.5 578.3h0M119.1 583.2h0M114.9 581.8h0M112.1 578.3h0M114.4 581.3h0M112.3 577.1h0M114.5 580.2h0M116.7 579.4h0M115.9 577.5h0M117.4 573.2h0M117.7 575.4h0M108.6 569.5h0M112.5 580.8h0M111.6 583.7h0M111.3 584.5h0M117.1 584.8h0M111.7 577.0h0M113.7 571.6h0M114.2 575.7h0M111.8 577.2h0M112.2 578.1h0M115.1 579.9h0M113.7 566.0h0M112.0 578.4h0M115.7 577.1h0M113.3 574.2h0M111.1 574.6h0M116.6 573.9h0M112.2 579.4h0M116.7 578.1h0M111.9 578.1h0M111.1 576.2h0M112.3 570.7h0M113.0 573.6h0M110.1 576.9h0M115.5 576.0h0M113.4 573.2h0M113.5 584.6h0M119.0 578.3h0M114.8 573.7h0M109.5 578.8h0M110.1 575.0h0M114.6 580.0h0M111.2 572.9h0M115.2 572.1h0M113.5 579.3h0M112.7 580.8h0M113.8 578.5h0M111.4 577.6h0M110.7 584.1h0M116.8 573.0h0M114.1 578.4h0M107.5 571.1h0M116.6 579.8h0M102.5 573.4h0M114.3 580.2h0M107.7 579.4h0M111.2 580.6h0M119.4 585.1h0M119.2 577.7h0M114.7 579.9h0M116.7 570.8h0M113.1 571.7h0M117.3 584.4h0M113.2 578.4h0M112.7 572.2h0M116.7 580.1h0M116.4 573.6h0M118.5 581.9h0M117.8 580.5h0M113.8 584.2h0M114.9 581.1h0M107.9 580.1h0M114.5 576.7h0M114.8 574.3h0M116.5 576.9h0M113.2 580.5h0M115.9 583.0h0M111.1 579.1h0M114.9 570.7h0M108.8 579.4h0M120.1 577.7h0M113.1 572.9h0M109.2 577.8h0M117.0 571.5h0M114.2 579.2h0M115.7 580.7h0M113.9 584.4h0M111.2 574.1h0M113.9 572.8h0M117.3 570.9h0M113.0 575.3h0M110.8 576.3h0M113.4 572.9h0M114.4 571.0h0M116.7 569.6h0M109.2 579.7h0M107.7 575.2h0M112.5 576.1h0M117.1 568.6h0M111.8 581.1h0M111.3 579.0h0M110.4 569.9h0M115.2 575.0h0M111.8 584.1h0M112.4 578.4h0M113.6 577.9h0M115.2 584.1h0M114.7 582.1h0M113.1 567.1h0M113.2 570.3h0M116.6 569.4h0M114.1 576.4h0M116.2 581.8h0M117.1 572.5h0M117.0 581.3h0M118.0 582.1h0M113.9 573.8h0M120.2 578.2h0M111.9 584.7h0M112.2 583.0h0M111.3 576.0h0M123.5 576.0h0M116.9 568.5h0M113.7 572.6h0M113.2 572.9h0M110.9 571.4h0M106.4 579.0h0M115.3 574.4h0M112.8 571.7h0M119.8 583.8h0M115.8 571.7h0M109.3 576.8h0M121.3 582.2h0M105.2 579.0h0M114.8 574.2h0M120.9 572.8h0M115.1 578.7h0M114.7 573.3h0M110.1 575.1h0M113.7 576.6h0M115.9 574.0h0M118.9 573.6h0M116.6 576.2h0M109.1 573.2h0M113.3 569.6h0M115.2 576.5h0M116.6 582.7h0M113.5 582.9h0M117.7 573.1h0M110.4 574.7h0M118.7 584.3h0M108.8 575.7h0M115.4 577.4h0M112.2 578.3h0M110.5 577.3h0M111.0 580.9h0M116.7 577.6h0M113.9 574.6h0M113.2 571.7h0M113.5 578.0h0M121.7 573.4h0M114.0 576.2h0M111.6 574.8h0M114.3 573.7h0M112.4 583.7h0M112.5 571.2h0M107.5 573.9h0M110.8 579.9h0M110.3 578.4h0M111.7 575.0h0M115.8 581.2h0M110.1 574.8h0M120.4 572.1h0M117.1 578.4h0M109.4 572.5h0M114.5 569.3h0M113.2 576.8h0M115.2 574.4h0M116.6 579.0h0M112.3 577.6h0M116.2 576.4h0M115.8 578.5h0M114.8 582.0h0M117.7 580.1h0M111.8 577.3h0M115.0 574.9h0M114.7 584.7h0M112.8 580.8h0M109.4 569.7h0M110.9 579.3h0M113.6 569.6h0M113.1 565.5h0M111.5 576.3h0M112.2 576.3h0M113.6 577.2h0M114.0 578.2h0M113.6 575.8h0M119.4 585.3h0M116.5 575.6h0M111.7 574.7h0M116.8 576.5h0M113.5 584.4h0M114.0 576.9h0M109.3 575.2h0M112.5 577.7h0M109.6 574.2h0M110.7 576.8h0M108.0 577.4h0M109.4 574.8h0M115.0 570.1h0M111.3 578.7h0M115.7 578.3h0M113.0 578.0h0M106.3 572.2h0M116.8 580.3h0M116.8 572.1h0M111.4 577.7h0M113.8 571.9h0M113.7 574.7h0M113.8 568.9h0M113.1 580.6h0M113.2 574.9h0M112.4 583.4h0M114.8 577.4h0M109.1 572.7h0M114.9 583.1h0M109.6 572.2h0M112.4 573.8h0M110.3 575.4h0M116.4 571.2h0M114.5 576.3h0M113.6 575.8h0M112.6 575.6h0M115.3 574.8h0M119.0 571.1h0M114.7 577.8h0M110.8 578.2h0M112.3 570.1h0M111.5 571.7h0M115.6 579.9h0M118.2 570.3h0M113.2 580.7h0M115.2 575.2h0M110.6 573.5h0M121.1 574.4h0M112.2 578.9h0M112.7 573.8h0M114.2 584.8h0M113.3 573.2h0M107.5 578.6h0M113.5 572.9h0M112.4 571.6h0M115.2 583.9h0M115.7 578.4h0M114.5 572.5h0M116.3 575.7h0M109.8 584.2h0M114.4 576.0h0M120.6 575.5h0M119.7 581.8h0M107.3 574.7h0M110.4 576.5h0M108.7 584.6h0M112.3 580.6h0M112.7 571.9h0M115.5 571.5h0M118.7 576.6h0M109.9 582.8h0M109.3 574.3h0M114.9 577.2h0M118.5 573.5h0M119.0 574.7h0M110.1 566.3h0M107.8 579.4h0M112.1 577.9h0M111.0 570.0h0M107.4 583.4h0M114.7 580.4h0M109.6 575.1h0M107.7 570.1h0M111.6 570.2h0M105.9 574.2h0M110.7 577.0h0M117.1 578.4h0M114.1 578.4h0M106.1 573.5h0M109.1 574.4h0M113.5 577.1h0M114.5 577.6h0M114.9 573.4h0M112.7 574.2h0M112.9 572.7h0M112.0 570.5h0M114.3 576.3h0M114.5 575.1h0M117.3 575.3h0M109.0 574.1h0M117.0 574.7h0M112.2 573.4h0M109.9 573.6h0M113.4 571.1h0M114.7 578.8h0M110.4 573.1h0M113.8 578.9h0M111.1 572.9h0M114.8 575.5h0M119.6 572.0h0M108.1 571.3h0M115.5 576.4h0M115.7 575.3h0M115.1 571.6h0M112.9 577.3h0M113.5 581.0h0M120.0 571.0h0M115.9 572.9h0M114.8 570.3h0M119.6 570.5h0M111.9 577.9h0M111.7 578.8h0" stroke="#111" stroke-width="0.75" stroke-linecap="square"/>
<ellipse cx="113.0" cy="576.0" rx="3.9" ry="5.1" fill="#000" opacity="0.5"/>
</g>
<rect x="90.20" y="555.20" width="52.60" height="52.50" fill="none" stroke="#444" stroke-width="0.8"/>
<rect x="111.70" y="562.40" width="28.40" height="35.90" fill="none" stroke="#333" stroke-width="0.8"/>
<text x="122.00" y="563.05" font-size="6.7" text-anchor="middle">84,5</text>
<line x1="55.20" y1="518.20" x2="55.20" y2="544.50" stroke="#222" stroke-width="0.7"/>
<path d="M55.2,547.0 L53.800000000000004,543.5 L56.6,543.5 Z" fill="#222" stroke="none" stroke-width="1"/>
<line x1="125.50" y1="518.20" x2="125.50" y2="544.00" stroke="#222" stroke-width="0.7"/>
<path d="M125.5,546.5 L124.1,543 L126.9,543 Z" fill="#222" stroke="none" stroke-width="1"/>
<text x="7.00" y="546.14" font-size="7.25" textLength="14.90" lengthAdjust="spacingAndGlyphs">VPD</text>
<line x1="23.00" y1="542.70" x2="41.50" y2="542.30" stroke="#231f20" stroke-width="0.7"/>
<path d="M43.3,542.3 L38.9,540.7 L38.9,543.9 Z" fill="#231f20" stroke="none" stroke-width="1"/>
<text transform="translate(10.7,602.3) rotate(-90)" font-size="7" text-anchor="middle">CD8</text>
<line x1="7.70" y1="589.00" x2="7.70" y2="573.00" stroke="#231f20" stroke-width="0.7"/>
<path d="M7.7,571 L6.1,575.5 L9.3,575.5 Z" fill="#231f20" stroke="none" stroke-width="1"/>
<text x="9.90" y="621.29" font-size="7.39" textLength="23.40" lengthAdjust="spacingAndGlyphs">gH2AX</text>
<line x1="34.00" y1="618.70" x2="53.50" y2="618.70" stroke="#231f20" stroke-width="0.7"/>
<path d="M55.2,618.7 L50.8,617.1 L50.8,620.3 Z" fill="#231f20" stroke="none" stroke-width="1"/>
<line x1="186.20" y1="494.70" x2="186.20" y2="603.80" stroke="#333" stroke-width="1"/>
<line x1="185.80" y1="603.40" x2="253.00" y2="603.40" stroke="#333" stroke-width="1"/>
<line x1="184.20" y1="603.40" x2="186.20" y2="603.40" stroke="#444" stroke-width="1"/>
<text x="182.40" y="605.85" font-size="7" text-anchor="end">0</text>
<line x1="184.20" y1="581.70" x2="186.20" y2="581.70" stroke="#444" stroke-width="1"/>
<text x="182.40" y="584.15" font-size="7" text-anchor="end">20</text>
<line x1="184.20" y1="560.00" x2="186.20" y2="560.00" stroke="#444" stroke-width="1"/>
<text x="182.40" y="562.45" font-size="7" text-anchor="end">40</text>
<line x1="184.20" y1="538.30" x2="186.20" y2="538.30" stroke="#444" stroke-width="1"/>
<text x="182.40" y="540.75" font-size="7" text-anchor="end">60</text>
<line x1="184.20" y1="516.60" x2="186.20" y2="516.60" stroke="#444" stroke-width="1"/>
<text x="182.40" y="519.05" font-size="7" text-anchor="end">80</text>
<line x1="184.20" y1="494.90" x2="186.20" y2="494.90" stroke="#444" stroke-width="1"/>
<text x="182.40" y="497.35" font-size="7" text-anchor="end">100</text>
<line x1="206.60" y1="518.50" x2="232.60" y2="526.90" stroke="#111" stroke-width="0.8"/>
<line x1="206.60" y1="532.50" x2="232.60" y2="515.10" stroke="#111" stroke-width="0.8"/>
<line x1="206.60" y1="543.80" x2="232.60" y2="514.40" stroke="#111" stroke-width="0.8"/>
<line x1="206.60" y1="545.70" x2="232.60" y2="516.20" stroke="#111" stroke-width="0.8"/>
<line x1="206.60" y1="547.50" x2="232.60" y2="520.80" stroke="#111" stroke-width="0.8"/>
<line x1="206.60" y1="549.00" x2="232.60" y2="528.20" stroke="#111" stroke-width="0.8"/>
<line x1="206.60" y1="551.30" x2="232.60" y2="538.40" stroke="#111" stroke-width="0.8"/>
<line x1="206.60" y1="552.90" x2="232.60" y2="545.70" stroke="#111" stroke-width="0.8"/>
<line x1="206.60" y1="554.70" x2="232.60" y2="547.20" stroke="#111" stroke-width="0.8"/>
<line x1="206.60" y1="549.00" x2="232.60" y2="558.10" stroke="#111" stroke-width="0.8"/>
<line x1="206.60" y1="576.20" x2="232.60" y2="517.40" stroke="#111" stroke-width="0.8"/>
<circle cx="206.60" cy="518.50" r="1.6" fill="#111"/>
<circle cx="232.60" cy="526.90" r="1.6" fill="#111"/>
<circle cx="206.60" cy="532.50" r="1.6" fill="#111"/>
<circle cx="232.60" cy="515.10" r="1.6" fill="#111"/>
<circle cx="206.60" cy="543.80" r="1.6" fill="#111"/>
<circle cx="232.60" cy="514.40" r="1.6" fill="#111"/>
<circle cx="206.60" cy="545.70" r="1.6" fill="#111"/>
<circle cx="232.60" cy="516.20" r="1.6" fill="#111"/>
<circle cx="206.60" cy="547.50" r="1.6" fill="#111"/>
<circle cx="232.60" cy="520.80" r="1.6" fill="#111"/>
<circle cx="206.60" cy="549.00" r="1.6" fill="#111"/>
<circle cx="232.60" cy="528.20" r="1.6" fill="#111"/>
<circle cx="206.60" cy="551.30" r="1.6" fill="#111"/>
<circle cx="232.60" cy="538.40" r="1.6" fill="#111"/>
<circle cx="206.60" cy="552.90" r="1.6" fill="#111"/>
<circle cx="232.60" cy="545.70" r="1.6" fill="#111"/>
<circle cx="206.60" cy="554.70" r="1.6" fill="#111"/>
<circle cx="232.60" cy="547.20" r="1.6" fill="#111"/>
<circle cx="206.60" cy="549.00" r="1.6" fill="#111"/>
<circle cx="232.60" cy="558.10" r="1.6" fill="#111"/>
<circle cx="206.60" cy="576.20" r="1.6" fill="#111"/>
<circle cx="232.60" cy="517.40" r="1.6" fill="#111"/>
<line x1="206.60" y1="603.40" x2="206.60" y2="605.90" stroke="#333" stroke-width="0.8"/>
<line x1="232.60" y1="603.40" x2="232.60" y2="605.90" stroke="#333" stroke-width="0.8"/>
<text x="208.30" y="613.77" font-size="7.06" text-anchor="middle" textLength="10.20" lengthAdjust="spacingAndGlyphs">Cis</text>
<text x="233.70" y="613.82" font-size="7.19" text-anchor="middle" textLength="18.10" lengthAdjust="spacingAndGlyphs">Trans</text>
<text x="221.30" y="493.57" font-size="6.48" text-anchor="middle" textLength="27.20" lengthAdjust="spacingAndGlyphs">p=0.0384</text>
<line x1="205.50" y1="496.50" x2="236.70" y2="496.50" stroke="#222" stroke-width="0.8"/>
<text transform="translate(169.5,547.2) rotate(-90)" font-size="9" font-weight="bold" text-anchor="middle" textLength="114" lengthAdjust="spacingAndGlyphs">%gH2AX+ of dividing CD8+</text>
<text x="261.60" y="463.60" font-size="16" font-weight="bold">h</text>
<text x="302.30" y="466.44" font-size="8.98" font-weight="bold" fill="#c8282d" textLength="42.40" lengthAdjust="spacingAndGlyphs">Cis beads</text>
<rect x="324.00" y="476.00" width="25.60" height="63.50" fill="#dcdcdc" stroke="none" stroke-width="1"/>
<line x1="328.90" y1="476.00" x2="328.90" y2="539.50" stroke="#c4c4c4" stroke-width="0.5"/>
<line x1="335.80" y1="476.00" x2="335.80" y2="539.50" stroke="#c4c4c4" stroke-width="0.5"/>
<line x1="341.70" y1="476.00" x2="341.70" y2="539.50" stroke="#c4c4c4" stroke-width="0.5"/>
<path d="M294.8,538.7 L300.0,538.7 L302.0,537.9 L306.0,538.5 L318.0,538.7 L321.0,538.2 L323.0,536.7 L324.5,532.7 L325.5,528.7 L326.5,527.5 L327.5,526.5 L328.5,529.0 L329.5,531.0 L330.5,527.0 L331.5,518.0 L332.3,512.5 L333.2,515.0 L334.2,522.0 L335.2,528.0 L336.0,530.0 L337.0,522.0 L338.5,508.0 L339.5,502.0 L340.3,501.0 L341.0,506.0 L341.8,518.0 L342.6,522.0 L343.3,512.0 L344.2,502.0 L345.2,500.0 L346.2,501.0 L347.0,505.0 L348.0,515.0 L349.0,530.0 L350.0,537.0 L351.0,538.7 L356.0,538.7 Z" fill="#5a9ecb" stroke="#1f6fa8" stroke-width="0.7" stroke-linejoin="round"/>
<line x1="324.00" y1="507.60" x2="350.10" y2="507.60" stroke="#333" stroke-width="0.6"/>
<line x1="324.00" y1="506.40" x2="324.00" y2="508.80" stroke="#333" stroke-width="0.5"/>
<line x1="328.90" y1="506.40" x2="328.90" y2="508.80" stroke="#333" stroke-width="0.5"/>
<line x1="335.80" y1="506.40" x2="335.80" y2="508.80" stroke="#333" stroke-width="0.5"/>
<line x1="341.70" y1="506.40" x2="341.70" y2="508.80" stroke="#333" stroke-width="0.5"/>
<line x1="349.60" y1="506.40" x2="349.60" y2="508.80" stroke="#333" stroke-width="0.5"/>
<rect x="294.40" y="476.00" width="62.10" height="63.50" fill="none" stroke="#333" stroke-width="0.8"/>
<line x1="292.90" y1="479.00" x2="294.40" y2="479.00" stroke="#666" stroke-width="0.4"/>
<text x="292.10" y="479.91" font-size="2.6" text-anchor="end" fill="#777">250</text>
<line x1="292.90" y1="490.80" x2="294.40" y2="490.80" stroke="#666" stroke-width="0.4"/>
<text x="292.10" y="491.71" font-size="2.6" text-anchor="end" fill="#777">200</text>
<line x1="292.90" y1="502.60" x2="294.40" y2="502.60" stroke="#666" stroke-width="0.4"/>
<text x="292.10" y="503.51" font-size="2.6" text-anchor="end" fill="#777">150</text>
<line x1="292.90" y1="514.40" x2="294.40" y2="514.40" stroke="#666" stroke-width="0.4"/>
<text x="292.10" y="515.31" font-size="2.6" text-anchor="end" fill="#777">100</text>
<line x1="292.90" y1="526.20" x2="294.40" y2="526.20" stroke="#666" stroke-width="0.4"/>
<text x="292.10" y="527.11" font-size="2.6" text-anchor="end" fill="#777">50</text>
<line x1="292.90" y1="538.00" x2="294.40" y2="538.00" stroke="#666" stroke-width="0.4"/>
<text x="292.10" y="538.91" font-size="2.6" text-anchor="end" fill="#777">0</text>
<line x1="311.17" y1="539.50" x2="311.17" y2="541.00" stroke="#666" stroke-width="0.4"/>
<text x="311.17" y="544.48" font-size="2.8" text-anchor="middle" fill="#777">0</text>
<line x1="331.66" y1="539.50" x2="331.66" y2="541.00" stroke="#666" stroke-width="0.4"/>
<text x="331.66" y="544.48" font-size="2.8" text-anchor="middle" fill="#777">10³</text>
<line x1="352.15" y1="539.50" x2="352.15" y2="541.00" stroke="#666" stroke-width="0.4"/>
<text x="352.15" y="544.48" font-size="2.8" text-anchor="middle" fill="#777">10⁴</text>
<text x="282.00" y="474.84" font-size="6.68" textLength="39.70" lengthAdjust="spacingAndGlyphs">Peak number</text>
<text x="317.00" y="553.49" font-size="7.68" textLength="15.80" lengthAdjust="spacingAndGlyphs">VPD</text>
<text transform="translate(281.4,505.5) rotate(-90)" font-size="8" text-anchor="middle" textLength="21" lengthAdjust="spacingAndGlyphs">Count</text>
<text x="324.80" y="474.81" font-size="6.6">3</text>
<text x="331.30" y="474.81" font-size="6.6">2</text>
<text x="335.90" y="474.81" font-size="6.6">1</text>
<text x="343.80" y="474.81" font-size="6.6">0</text>
<text x="303.30" y="569.73" font-size="8.95" font-weight="bold" fill="#2e8b57" textLength="52.20" lengthAdjust="spacingAndGlyphs">Trans beads</text>
<rect x="323.40" y="579.40" width="25.80" height="63.10" fill="#dcdcdc" stroke="none" stroke-width="1"/>
<line x1="328.40" y1="579.40" x2="328.40" y2="642.50" stroke="#c4c4c4" stroke-width="0.5"/>
<line x1="335.20" y1="579.40" x2="335.20" y2="642.50" stroke="#c4c4c4" stroke-width="0.5"/>
<line x1="341.20" y1="579.40" x2="341.20" y2="642.50" stroke="#c4c4c4" stroke-width="0.5"/>
<path d="M295.8,641.9 L305.0,641.9 L307.0,641.1 L312.0,641.6 L320.0,641.9 L323.0,640.9 L325.0,638.4 L326.9,635.6 L328.2,636.5 L329.5,637.0 L330.5,633.0 L331.9,628.7 L333.0,632.0 L334.5,638.0 L335.5,636.0 L336.8,630.0 L337.8,626.7 L339.0,630.0 L340.5,637.0 L341.5,633.0 L342.5,615.0 L343.5,595.0 L344.5,584.0 L345.1,582.4 L346.0,584.0 L347.0,595.0 L348.0,615.0 L349.0,632.0 L350.0,639.0 L351.0,641.9 L358.0,641.9 Z" fill="#6ab88a" stroke="#1f7a44" stroke-width="0.7" stroke-linejoin="round"/>
<line x1="323.40" y1="610.40" x2="349.70" y2="610.40" stroke="#333" stroke-width="0.6"/>
<line x1="323.40" y1="609.20" x2="323.40" y2="611.60" stroke="#333" stroke-width="0.5"/>
<line x1="328.40" y1="609.20" x2="328.40" y2="611.60" stroke="#333" stroke-width="0.5"/>
<line x1="335.20" y1="609.20" x2="335.20" y2="611.60" stroke="#333" stroke-width="0.5"/>
<line x1="341.20" y1="609.20" x2="341.20" y2="611.60" stroke="#333" stroke-width="0.5"/>
<line x1="349.20" y1="609.20" x2="349.20" y2="611.60" stroke="#333" stroke-width="0.5"/>
<rect x="295.40" y="579.40" width="63.10" height="63.10" fill="none" stroke="#333" stroke-width="0.8"/>
<line x1="293.90" y1="582.40" x2="295.40" y2="582.40" stroke="#666" stroke-width="0.4"/>
<text x="293.10" y="583.31" font-size="2.6" text-anchor="end" fill="#777">250</text>
<line x1="293.90" y1="594.12" x2="295.40" y2="594.12" stroke="#666" stroke-width="0.4"/>
<text x="293.10" y="595.03" font-size="2.6" text-anchor="end" fill="#777">200</text>
<line x1="293.90" y1="605.84" x2="295.40" y2="605.84" stroke="#666" stroke-width="0.4"/>
<text x="293.10" y="606.75" font-size="2.6" text-anchor="end" fill="#777">150</text>
<line x1="293.90" y1="617.56" x2="295.40" y2="617.56" stroke="#666" stroke-width="0.4"/>
<text x="293.10" y="618.47" font-size="2.6" text-anchor="end" fill="#777">100</text>
<line x1="293.90" y1="629.28" x2="295.40" y2="629.28" stroke="#666" stroke-width="0.4"/>
<text x="293.10" y="630.19" font-size="2.6" text-anchor="end" fill="#777">50</text>
<line x1="293.90" y1="641.00" x2="295.40" y2="641.00" stroke="#666" stroke-width="0.4"/>
<text x="293.10" y="641.91" font-size="2.6" text-anchor="end" fill="#777">0</text>
<line x1="312.44" y1="642.50" x2="312.44" y2="644.00" stroke="#666" stroke-width="0.4"/>
<text x="312.44" y="647.48" font-size="2.8" text-anchor="middle" fill="#777">0</text>
<line x1="333.26" y1="642.50" x2="333.26" y2="644.00" stroke="#666" stroke-width="0.4"/>
<text x="333.26" y="647.48" font-size="2.8" text-anchor="middle" fill="#777">10³</text>
<line x1="354.08" y1="642.50" x2="354.08" y2="644.00" stroke="#666" stroke-width="0.4"/>
<text x="354.08" y="647.48" font-size="2.8" text-anchor="middle" fill="#777">10⁴</text>
<text x="282.00" y="578.24" font-size="6.68" textLength="39.70" lengthAdjust="spacingAndGlyphs">Peak number</text>
<text x="321.00" y="656.59" font-size="7.68" textLength="15.80" lengthAdjust="spacingAndGlyphs">VPD</text>
<text transform="translate(282.4,608.5) rotate(-90)" font-size="8" text-anchor="middle" textLength="21" lengthAdjust="spacingAndGlyphs">Count</text>
<text x="324.60" y="578.21" font-size="6.6">3</text>
<text x="331.00" y="578.21" font-size="6.6">2</text>
<text x="335.60" y="578.21" font-size="6.6">1</text>
<text x="343.30" y="578.21" font-size="6.6">0</text>
<text x="397.00" y="473.38" font-size="6.5">Peak number 1</text>
<path d="M406.6,533.4 L410.9,525.0 L414.6,512.3 L417.7,494.3 L419.5,482.2 L421.4,483.7 L422.7,483.2 L423.3,491.1 L425.7,507.0 L428.8,520.7 L431.5,528.1 L435.2,532.4 L439.4,533.4 Z" fill="#8ec5e3" stroke="none" stroke-width="1"/>
<path d="M410.9,533.4 L416.1,530.3 L419.3,522.9 L422.5,501.7 L424.8,486.7 L426.2,494.3 L427.2,507.0 L428.8,519.7 L430.9,528.1 L435.2,532.4 L437.3,533.4 Z" fill="#8fd0a8" stroke="none" stroke-width="1"/>
<path d="M410.9,533.4 L416.1,530.3 L419.3,522.9 L422.5,501.7 L424.8,486.7 L426.2,494.3 L427.2,507.0 L428.8,519.7 L430.9,528.1 L435.2,532.4 L437.3,533.4 Z" fill="#3aa8a0" stroke="none" stroke-width="1" clip-path="url(#cp1)"/>
<path d="M406.6,533.4 L410.9,525.0 L414.6,512.3 L417.7,494.3 L419.5,482.2 L421.4,483.7 L422.7,483.2 L423.3,491.1 L425.7,507.0 L428.8,520.7 L431.5,528.1 L435.2,532.4 L439.4,533.4 Z" fill="none" stroke="#2b8cc4" stroke-width="0.7" stroke-linejoin="round"/>
<path d="M410.9,533.4 L416.1,530.3 L419.3,522.9 L422.5,501.7 L424.8,486.7 L426.2,494.3 L427.2,507.0 L428.8,519.7 L430.9,528.1 L435.2,532.4 L437.3,533.4 Z" fill="none" stroke="#2a9a50" stroke-width="0.6" stroke-linejoin="round"/>
<rect x="396.30" y="475.10" width="57.90" height="58.30" fill="none" stroke="#333" stroke-width="0.8"/>
<line x1="394.80" y1="477.10" x2="396.30" y2="477.10" stroke="#666" stroke-width="0.4"/>
<text x="394.10" y="478.01" font-size="2.6" text-anchor="end" fill="#777">100</text>
<line x1="394.80" y1="488.16" x2="396.30" y2="488.16" stroke="#666" stroke-width="0.4"/>
<text x="394.10" y="489.07" font-size="2.6" text-anchor="end" fill="#777">80</text>
<line x1="394.80" y1="499.22" x2="396.30" y2="499.22" stroke="#666" stroke-width="0.4"/>
<text x="394.10" y="500.13" font-size="2.6" text-anchor="end" fill="#777">60</text>
<line x1="394.80" y1="510.28" x2="396.30" y2="510.28" stroke="#666" stroke-width="0.4"/>
<text x="394.10" y="511.19" font-size="2.6" text-anchor="end" fill="#777">40</text>
<line x1="394.80" y1="521.34" x2="396.30" y2="521.34" stroke="#666" stroke-width="0.4"/>
<text x="394.10" y="522.25" font-size="2.6" text-anchor="end" fill="#777">20</text>
<line x1="394.80" y1="532.40" x2="396.30" y2="532.40" stroke="#666" stroke-width="0.4"/>
<text x="394.10" y="533.31" font-size="2.6" text-anchor="end" fill="#777">0</text>
<line x1="411.93" y1="533.40" x2="411.93" y2="534.90" stroke="#666" stroke-width="0.4"/>
<text x="411.93" y="538.38" font-size="2.8" text-anchor="middle" fill="#777">0</text>
<line x1="428.14" y1="533.40" x2="428.14" y2="534.90" stroke="#666" stroke-width="0.4"/>
<text x="428.14" y="538.38" font-size="2.8" text-anchor="middle" fill="#777">10³</text>
<line x1="441.46" y1="533.40" x2="441.46" y2="534.90" stroke="#666" stroke-width="0.4"/>
<text x="441.46" y="538.38" font-size="2.8" text-anchor="middle" fill="#777">10⁴</text>
<line x1="452.46" y1="533.40" x2="452.46" y2="534.90" stroke="#666" stroke-width="0.4"/>
<text x="452.46" y="538.38" font-size="2.8" text-anchor="middle" fill="#777">10⁵</text>
<text x="416.00" y="547.36" font-size="6.47" textLength="20.50" lengthAdjust="spacingAndGlyphs">gH2AX</text>
<text transform="translate(383.8,504.2) rotate(-90)" font-size="6.5" text-anchor="middle" textLength="58" lengthAdjust="spacingAndGlyphs">Normalized To Mode</text>
<text x="482.30" y="474.17" font-size="6.5">Peak number 2</text>
<path d="M488.0,534.3 L490.0,533.6 L492.5,530.5 L495.2,527.0 L497.5,520.0 L499.0,511.6 L500.5,504.0 L501.8,497.4 L503.4,488.0 L505.0,487.3 L506.1,491.9 L507.0,499.0 L507.8,506.1 L509.0,513.0 L510.5,519.3 L512.0,524.5 L513.8,528.0 L516.0,531.0 L519.3,533.0 L527.0,533.6 L532.0,534.3 Z" fill="#8ec5e3" stroke="none" stroke-width="1"/>
<path d="M501.0,534.3 L503.0,532.0 L505.0,527.0 L506.3,521.0 L507.2,516.0 L508.0,508.0 L508.5,502.9 L509.4,495.7 L510.3,502.9 L511.4,513.8 L512.7,524.8 L514.0,528.5 L514.9,530.8 L517.0,532.5 L519.3,533.5 L522.0,534.3 Z" fill="#8fd0a8" stroke="none" stroke-width="1"/>
<path d="M501.0,534.3 L503.0,532.0 L505.0,527.0 L506.3,521.0 L507.2,516.0 L508.0,508.0 L508.5,502.9 L509.4,495.7 L510.3,502.9 L511.4,513.8 L512.7,524.8 L514.0,528.5 L514.9,530.8 L517.0,532.5 L519.3,533.5 L522.0,534.3 Z" fill="#3aa8a0" stroke="none" stroke-width="1" clip-path="url(#cp2)"/>
<path d="M488.0,534.3 L490.0,533.6 L492.5,530.5 L495.2,527.0 L497.5,520.0 L499.0,511.6 L500.5,504.0 L501.8,497.4 L503.4,488.0 L505.0,487.3 L506.1,491.9 L507.0,499.0 L507.8,506.1 L509.0,513.0 L510.5,519.3 L512.0,524.5 L513.8,528.0 L516.0,531.0 L519.3,533.0 L527.0,533.6 L532.0,534.3 Z" fill="none" stroke="#2b8cc4" stroke-width="0.7" stroke-linejoin="round"/>
<path d="M501.0,534.3 L503.0,532.0 L505.0,527.0 L506.3,521.0 L507.2,516.0 L508.0,508.0 L508.5,502.9 L509.4,495.7 L510.3,502.9 L511.4,513.8 L512.7,524.8 L514.0,528.5 L514.9,530.8 L517.0,532.5 L519.3,533.5 L522.0,534.3 Z" fill="none" stroke="#2a9a50" stroke-width="0.6" stroke-linejoin="round"/>
<rect x="479.70" y="475.50" width="58.20" height="58.80" fill="none" stroke="#333" stroke-width="0.8"/>
<line x1="478.20" y1="477.50" x2="479.70" y2="477.50" stroke="#666" stroke-width="0.4"/>
<text x="477.50" y="478.41" font-size="2.6" text-anchor="end" fill="#777">100</text>
<line x1="478.20" y1="488.66" x2="479.70" y2="488.66" stroke="#666" stroke-width="0.4"/>
<text x="477.50" y="489.57" font-size="2.6" text-anchor="end" fill="#777">80</text>
<line x1="478.20" y1="499.82" x2="479.70" y2="499.82" stroke="#666" stroke-width="0.4"/>
<text x="477.50" y="500.73" font-size="2.6" text-anchor="end" fill="#777">60</text>
<line x1="478.20" y1="510.98" x2="479.70" y2="510.98" stroke="#666" stroke-width="0.4"/>
<text x="477.50" y="511.89" font-size="2.6" text-anchor="end" fill="#777">40</text>
<line x1="478.20" y1="522.14" x2="479.70" y2="522.14" stroke="#666" stroke-width="0.4"/>
<text x="477.50" y="523.05" font-size="2.6" text-anchor="end" fill="#777">20</text>
<line x1="478.20" y1="533.30" x2="479.70" y2="533.30" stroke="#666" stroke-width="0.4"/>
<text x="477.50" y="534.21" font-size="2.6" text-anchor="end" fill="#777">0</text>
<line x1="495.41" y1="534.30" x2="495.41" y2="535.80" stroke="#666" stroke-width="0.4"/>
<text x="495.41" y="539.28" font-size="2.8" text-anchor="middle" fill="#777">0</text>
<line x1="511.71" y1="534.30" x2="511.71" y2="535.80" stroke="#666" stroke-width="0.4"/>
<text x="511.71" y="539.28" font-size="2.8" text-anchor="middle" fill="#777">10³</text>
<line x1="525.10" y1="534.30" x2="525.10" y2="535.80" stroke="#666" stroke-width="0.4"/>
<text x="525.10" y="539.28" font-size="2.8" text-anchor="middle" fill="#777">10⁴</text>
<line x1="536.15" y1="534.30" x2="536.15" y2="535.80" stroke="#666" stroke-width="0.4"/>
<text x="536.15" y="539.28" font-size="2.8" text-anchor="middle" fill="#777">10⁵</text>
<text x="499.40" y="547.36" font-size="6.47" textLength="20.50" lengthAdjust="spacingAndGlyphs">gH2AX</text>
<text transform="translate(467.7,504.9) rotate(-90)" font-size="6.5" text-anchor="middle" textLength="58" lengthAdjust="spacingAndGlyphs">Normalized To Mode</text>
<text x="563.50" y="475.17" font-size="6.5">Peak number 3</text>
<path d="M566.0,535.3 L570.0,534.6 L573.0,532.5 L575.0,529.5 L577.0,524.0 L579.0,517.0 L580.5,510.0 L582.5,502.0 L584.5,495.5 L585.6,494.2 L587.0,497.0 L588.5,505.0 L590.0,516.0 L592.0,525.0 L595.0,530.5 L599.0,533.0 L603.0,534.6 L606.0,535.3 Z" fill="#8ec5e3" stroke="none" stroke-width="1"/>
<path d="M584.0,535.3 L586.0,531.5 L587.5,525.0 L589.0,514.0 L590.3,502.0 L591.6,493.2 L592.6,499.0 L593.5,510.0 L594.5,521.0 L595.5,528.0 L597.0,532.0 L600.0,534.3 L603.0,535.3 Z" fill="#8fd0a8" stroke="none" stroke-width="1"/>
<path d="M584.0,535.3 L586.0,531.5 L587.5,525.0 L589.0,514.0 L590.3,502.0 L591.6,493.2 L592.6,499.0 L593.5,510.0 L594.5,521.0 L595.5,528.0 L597.0,532.0 L600.0,534.3 L603.0,535.3 Z" fill="#3aa8a0" stroke="none" stroke-width="1" clip-path="url(#cp3)"/>
<path d="M566.0,535.3 L570.0,534.6 L573.0,532.5 L575.0,529.5 L577.0,524.0 L579.0,517.0 L580.5,510.0 L582.5,502.0 L584.5,495.5 L585.6,494.2 L587.0,497.0 L588.5,505.0 L590.0,516.0 L592.0,525.0 L595.0,530.5 L599.0,533.0 L603.0,534.6 L606.0,535.3 Z" fill="none" stroke="#2b8cc4" stroke-width="0.7" stroke-linejoin="round"/>
<path d="M584.0,535.3 L586.0,531.5 L587.5,525.0 L589.0,514.0 L590.3,502.0 L591.6,493.2 L592.6,499.0 L593.5,510.0 L594.5,521.0 L595.5,528.0 L597.0,532.0 L600.0,534.3 L603.0,535.3 Z" fill="none" stroke="#2a9a50" stroke-width="0.6" stroke-linejoin="round"/>
<rect x="561.80" y="476.10" width="58.50" height="59.20" fill="none" stroke="#333" stroke-width="0.8"/>
<line x1="560.30" y1="478.10" x2="561.80" y2="478.10" stroke="#666" stroke-width="0.4"/>
<text x="559.60" y="479.01" font-size="2.6" text-anchor="end" fill="#777">100</text>
<line x1="560.30" y1="489.34" x2="561.80" y2="489.34" stroke="#666" stroke-width="0.4"/>
<text x="559.60" y="490.25" font-size="2.6" text-anchor="end" fill="#777">80</text>
<line x1="560.30" y1="500.58" x2="561.80" y2="500.58" stroke="#666" stroke-width="0.4"/>
<text x="559.60" y="501.49" font-size="2.6" text-anchor="end" fill="#777">60</text>
<line x1="560.30" y1="511.82" x2="561.80" y2="511.82" stroke="#666" stroke-width="0.4"/>
<text x="559.60" y="512.73" font-size="2.6" text-anchor="end" fill="#777">40</text>
<line x1="560.30" y1="523.06" x2="561.80" y2="523.06" stroke="#666" stroke-width="0.4"/>
<text x="559.60" y="523.97" font-size="2.6" text-anchor="end" fill="#777">20</text>
<line x1="560.30" y1="534.30" x2="561.80" y2="534.30" stroke="#666" stroke-width="0.4"/>
<text x="559.60" y="535.21" font-size="2.6" text-anchor="end" fill="#777">0</text>
<line x1="577.59" y1="535.30" x2="577.59" y2="536.80" stroke="#666" stroke-width="0.4"/>
<text x="577.59" y="540.28" font-size="2.8" text-anchor="middle" fill="#777">0</text>
<line x1="593.97" y1="535.30" x2="593.97" y2="536.80" stroke="#666" stroke-width="0.4"/>
<text x="593.97" y="540.28" font-size="2.8" text-anchor="middle" fill="#777">10³</text>
<line x1="607.43" y1="535.30" x2="607.43" y2="536.80" stroke="#666" stroke-width="0.4"/>
<text x="607.43" y="540.28" font-size="2.8" text-anchor="middle" fill="#777">10⁴</text>
<line x1="618.54" y1="535.30" x2="618.54" y2="536.80" stroke="#666" stroke-width="0.4"/>
<text x="618.54" y="540.28" font-size="2.8" text-anchor="middle" fill="#777">10⁵</text>
<text x="581.50" y="548.06" font-size="6.47" textLength="20.50" lengthAdjust="spacingAndGlyphs">gH2AX</text>
<text transform="translate(550.8,505.7) rotate(-90)" font-size="6.5" text-anchor="middle" textLength="58" lengthAdjust="spacingAndGlyphs">Normalized To Mode</text>
<line x1="399.10" y1="562.70" x2="399.10" y2="651.60" stroke="#333" stroke-width="1"/>
<line x1="398.70" y1="651.20" x2="452.90" y2="651.20" stroke="#333" stroke-width="1"/>
<line x1="396.60" y1="651.20" x2="399.10" y2="651.20" stroke="#333" stroke-width="0.9"/>
<text x="396.10" y="653.41" font-size="6.3" text-anchor="end" fill="#333">0</text>
<line x1="396.60" y1="629.08" x2="399.10" y2="629.08" stroke="#333" stroke-width="0.9"/>
<text x="396.10" y="631.28" font-size="6.3" text-anchor="end" fill="#333">500</text>
<line x1="396.60" y1="606.95" x2="399.10" y2="606.95" stroke="#333" stroke-width="0.9"/>
<text x="396.10" y="609.16" font-size="6.3" text-anchor="end" fill="#333">1000</text>
<line x1="396.60" y1="584.83" x2="399.10" y2="584.83" stroke="#333" stroke-width="0.9"/>
<text x="396.10" y="587.03" font-size="6.3" text-anchor="end" fill="#333">1500</text>
<line x1="396.60" y1="562.70" x2="399.10" y2="562.70" stroke="#333" stroke-width="0.9"/>
<text x="396.10" y="564.91" font-size="6.3" text-anchor="end" fill="#333">2000</text>
<rect x="408.00" y="613.10" width="15.80" height="38.10" fill="#0a70b2" stroke="#1a1a1a" stroke-width="0.8"/>
<rect x="429.20" y="604.10" width="15.20" height="47.10" fill="#07a545" stroke="#1a1a1a" stroke-width="0.8"/>
<line x1="415.90" y1="613.10" x2="415.90" y2="610.00" stroke="#222" stroke-width="0.8"/>
<line x1="412.40" y1="610.00" x2="419.40" y2="610.00" stroke="#222" stroke-width="0.8"/>
<line x1="436.80" y1="604.10" x2="436.80" y2="599.00" stroke="#222" stroke-width="0.8"/>
<line x1="433.30" y1="599.00" x2="440.30" y2="599.00" stroke="#222" stroke-width="0.8"/>
<circle cx="410.10" cy="610.10" r="1.5" fill="#111"/>
<circle cx="415.70" cy="608.90" r="1.5" fill="#111"/>
<circle cx="420.80" cy="610.60" r="1.5" fill="#111"/>
<circle cx="415.70" cy="614.00" r="1.5" fill="#111"/>
<circle cx="415.70" cy="621.90" r="1.5" fill="#111"/>
<circle cx="436.80" cy="586.90" r="1.5" fill="#111"/>
<circle cx="436.80" cy="599.10" r="1.5" fill="#111"/>
<circle cx="436.80" cy="607.50" r="1.5" fill="#111"/>
<circle cx="436.80" cy="611.20" r="1.5" fill="#111"/>
<circle cx="436.80" cy="615.10" r="1.5" fill="#111"/>
<line x1="415.90" y1="651.20" x2="415.90" y2="653.70" stroke="#333" stroke-width="0.8"/>
<line x1="436.80" y1="651.20" x2="436.80" y2="653.70" stroke="#333" stroke-width="0.8"/>
<text x="415.90" y="660.80" font-size="7.13" text-anchor="middle" textLength="10.30" lengthAdjust="spacingAndGlyphs">Cis</text>
<text x="438.10" y="660.80" font-size="7.15" text-anchor="middle" textLength="18.00" lengthAdjust="spacingAndGlyphs">Trans</text>
<text transform="translate(379.2,607.5) rotate(-90)" font-size="7.5" font-weight="bold" text-anchor="middle" textLength="51.6" lengthAdjust="spacingAndGlyphs">gMFI of gH2AX</text>
<line x1="481.40" y1="562.00" x2="481.40" y2="650.70" stroke="#333" stroke-width="1"/>
<line x1="481.00" y1="650.30" x2="535.50" y2="650.30" stroke="#333" stroke-width="1"/>
<line x1="478.90" y1="650.30" x2="481.40" y2="650.30" stroke="#333" stroke-width="0.9"/>
<text x="478.40" y="652.50" font-size="6.3" text-anchor="end" fill="#333">0</text>
<line x1="478.90" y1="628.17" x2="481.40" y2="628.17" stroke="#333" stroke-width="0.9"/>
<text x="478.40" y="630.38" font-size="6.3" text-anchor="end" fill="#333">500</text>
<line x1="478.90" y1="606.05" x2="481.40" y2="606.05" stroke="#333" stroke-width="0.9"/>
<text x="478.40" y="608.25" font-size="6.3" text-anchor="end" fill="#333">1000</text>
<line x1="478.90" y1="583.92" x2="481.40" y2="583.92" stroke="#333" stroke-width="0.9"/>
<text x="478.40" y="586.13" font-size="6.3" text-anchor="end" fill="#333">1500</text>
<line x1="478.90" y1="561.80" x2="481.40" y2="561.80" stroke="#333" stroke-width="0.9"/>
<text x="478.40" y="564.00" font-size="6.3" text-anchor="end" fill="#333">2000</text>
<rect x="491.00" y="612.00" width="14.90" height="38.30" fill="#0a70b2" stroke="#1a1a1a" stroke-width="0.8"/>
<rect x="512.00" y="585.00" width="14.70" height="65.30" fill="#07a545" stroke="#1a1a1a" stroke-width="0.8"/>
<line x1="498.45" y1="612.00" x2="498.45" y2="607.40" stroke="#222" stroke-width="0.8"/>
<line x1="494.95" y1="607.40" x2="501.95" y2="607.40" stroke="#222" stroke-width="0.8"/>
<line x1="519.35" y1="585.00" x2="519.35" y2="577.60" stroke="#222" stroke-width="0.8"/>
<line x1="515.85" y1="577.60" x2="522.85" y2="577.60" stroke="#222" stroke-width="0.8"/>
<circle cx="498.20" cy="603.60" r="1.5" fill="#111"/>
<circle cx="492.80" cy="607.40" r="1.5" fill="#111"/>
<circle cx="503.70" cy="608.70" r="1.5" fill="#111"/>
<circle cx="498.20" cy="610.00" r="1.5" fill="#111"/>
<circle cx="498.20" cy="626.20" r="1.5" fill="#111"/>
<circle cx="516.80" cy="568.60" r="1.5" fill="#111"/>
<circle cx="522.30" cy="570.80" r="1.5" fill="#111"/>
<circle cx="519.70" cy="582.80" r="1.5" fill="#111"/>
<circle cx="519.70" cy="598.60" r="1.5" fill="#111"/>
<circle cx="519.70" cy="602.10" r="1.5" fill="#111"/>
<line x1="498.45" y1="650.30" x2="498.45" y2="652.80" stroke="#333" stroke-width="0.8"/>
<line x1="519.35" y1="650.30" x2="519.35" y2="652.80" stroke="#333" stroke-width="0.8"/>
<text x="498.80" y="660.90" font-size="7.13" text-anchor="middle" textLength="10.30" lengthAdjust="spacingAndGlyphs">Cis</text>
<text x="521.30" y="660.90" font-size="7.15" text-anchor="middle" textLength="18.00" lengthAdjust="spacingAndGlyphs">Trans</text>
<text transform="translate(463.0,606.6) rotate(-90)" font-size="7.5" font-weight="bold" text-anchor="middle" textLength="51.6" lengthAdjust="spacingAndGlyphs">gMFI of gH2AX</text>
<line x1="565.10" y1="563.60" x2="565.10" y2="651.60" stroke="#333" stroke-width="1"/>
<line x1="564.70" y1="651.20" x2="619.40" y2="651.20" stroke="#333" stroke-width="1"/>
<line x1="562.60" y1="651.20" x2="565.10" y2="651.20" stroke="#333" stroke-width="0.9"/>
<text x="562.10" y="653.41" font-size="6.3" text-anchor="end" fill="#333">0</text>
<line x1="562.60" y1="629.08" x2="565.10" y2="629.08" stroke="#333" stroke-width="0.9"/>
<text x="562.10" y="631.28" font-size="6.3" text-anchor="end" fill="#333">500</text>
<line x1="562.60" y1="606.95" x2="565.10" y2="606.95" stroke="#333" stroke-width="0.9"/>
<text x="562.10" y="609.16" font-size="6.3" text-anchor="end" fill="#333">1000</text>
<line x1="562.60" y1="584.83" x2="565.10" y2="584.83" stroke="#333" stroke-width="0.9"/>
<text x="562.10" y="587.03" font-size="6.3" text-anchor="end" fill="#333">1500</text>
<line x1="562.60" y1="562.70" x2="565.10" y2="562.70" stroke="#333" stroke-width="0.9"/>
<text x="562.10" y="564.91" font-size="6.3" text-anchor="end" fill="#333">2000</text>
<rect x="574.60" y="610.00" width="14.90" height="41.20" fill="#0a70b2" stroke="#1a1a1a" stroke-width="0.8"/>
<rect x="595.60" y="583.30" width="15.20" height="67.90" fill="#07a545" stroke="#1a1a1a" stroke-width="0.8"/>
<line x1="582.05" y1="610.00" x2="582.05" y2="607.00" stroke="#222" stroke-width="0.8"/>
<line x1="578.55" y1="607.00" x2="585.55" y2="607.00" stroke="#222" stroke-width="0.8"/>
<line x1="603.20" y1="583.30" x2="603.20" y2="578.30" stroke="#222" stroke-width="0.8"/>
<line x1="599.70" y1="578.30" x2="606.70" y2="578.30" stroke="#222" stroke-width="0.8"/>
<circle cx="579.30" cy="602.50" r="1.5" fill="#111"/>
<circle cx="585.00" cy="605.00" r="1.5" fill="#111"/>
<circle cx="581.00" cy="609.30" r="1.5" fill="#111"/>
<circle cx="585.00" cy="610.60" r="1.5" fill="#111"/>
<circle cx="582.00" cy="622.00" r="1.5" fill="#111"/>
<circle cx="602.90" cy="570.40" r="1.5" fill="#111"/>
<circle cx="602.90" cy="573.30" r="1.5" fill="#111"/>
<circle cx="602.90" cy="585.00" r="1.5" fill="#111"/>
<circle cx="602.90" cy="590.30" r="1.5" fill="#111"/>
<circle cx="602.90" cy="596.40" r="1.5" fill="#111"/>
<line x1="582.05" y1="651.20" x2="582.05" y2="653.70" stroke="#333" stroke-width="0.8"/>
<line x1="603.20" y1="651.20" x2="603.20" y2="653.70" stroke="#333" stroke-width="0.8"/>
<text x="582.30" y="661.50" font-size="7.13" text-anchor="middle" textLength="10.30" lengthAdjust="spacingAndGlyphs">Cis</text>
<text x="604.10" y="661.50" font-size="7.15" text-anchor="middle" textLength="18.00" lengthAdjust="spacingAndGlyphs">Trans</text>
<text transform="translate(546.8,607.9) rotate(-90)" font-size="7.5" font-weight="bold" text-anchor="middle" textLength="51.6" lengthAdjust="spacingAndGlyphs">gMFI of gH2AX</text>
<text x="593.40" y="562.39" font-size="6.26" text-anchor="middle" textLength="26.30" lengthAdjust="spacingAndGlyphs">p=0.0225</text>
<line x1="580.20" y1="564.00" x2="606.50" y2="564.00" stroke="#222" stroke-width="0.8"/></svg></body></html>
